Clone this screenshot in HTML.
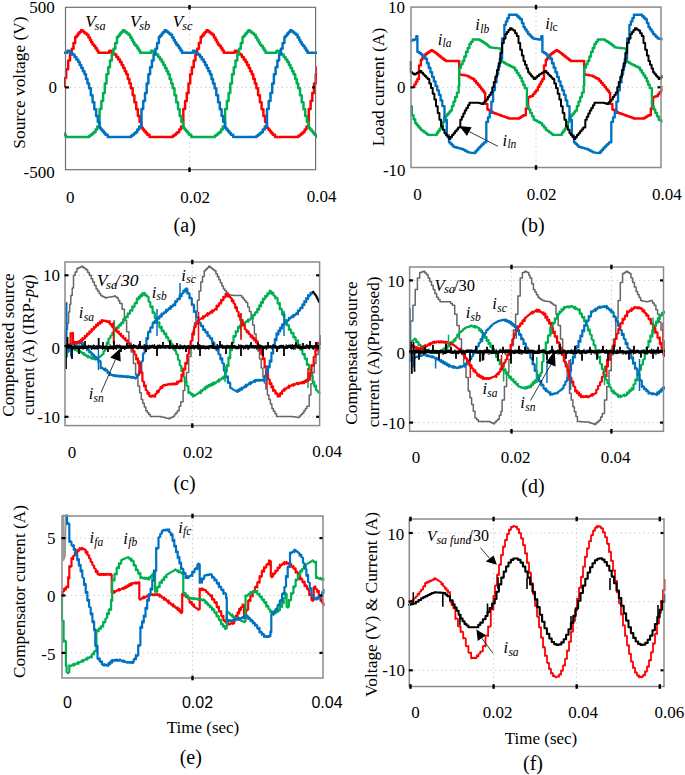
<!DOCTYPE html><html><head><meta charset="utf-8"><style>html,body{margin:0;padding:0;background:#fff;}svg{display:block}</style></head><body><svg width="685" height="775" viewBox="0 0 685 775">
<rect width="685" height="775" fill="#fff"/>
<line x1="189.50" y1="7.3" x2="189.50" y2="169.7" stroke="#c8c8c8" stroke-width="0.9" stroke-dasharray="1.5 3"/>
<line x1="65.5" y1="87.40" x2="315.6" y2="87.40" stroke="#c8c8c8" stroke-width="0.9" stroke-dasharray="1.5 3"/>
<line x1="536.00" y1="7.1" x2="536.00" y2="167.5" stroke="#c8c8c8" stroke-width="0.9" stroke-dasharray="1.5 3"/>
<line x1="411" y1="87.30" x2="661" y2="87.30" stroke="#c8c8c8" stroke-width="0.9" stroke-dasharray="1.5 3"/>
<line x1="192.30" y1="262" x2="192.30" y2="425.6" stroke="#c8c8c8" stroke-width="0.9" stroke-dasharray="1.5 3"/>
<line x1="65" y1="275.30" x2="319.6" y2="275.30" stroke="#c8c8c8" stroke-width="0.9" stroke-dasharray="1.5 3"/>
<line x1="65" y1="346.05" x2="319.6" y2="346.05" stroke="#c8c8c8" stroke-width="0.9" stroke-dasharray="1.5 3"/>
<line x1="65" y1="416.80" x2="319.6" y2="416.80" stroke="#c8c8c8" stroke-width="0.9" stroke-dasharray="1.5 3"/>
<line x1="511.50" y1="267" x2="511.50" y2="431.3" stroke="#c8c8c8" stroke-width="0.9" stroke-dasharray="1.5 3"/>
<line x1="611.40" y1="267" x2="611.40" y2="431.3" stroke="#c8c8c8" stroke-width="0.9" stroke-dasharray="1.5 3"/>
<line x1="409.6" y1="280.40" x2="663.5" y2="280.40" stroke="#c8c8c8" stroke-width="0.9" stroke-dasharray="1.5 3"/>
<line x1="409.6" y1="351.50" x2="663.5" y2="351.50" stroke="#c8c8c8" stroke-width="0.9" stroke-dasharray="1.5 3"/>
<line x1="409.6" y1="422.60" x2="663.5" y2="422.60" stroke="#c8c8c8" stroke-width="0.9" stroke-dasharray="1.5 3"/>
<line x1="192.50" y1="516" x2="192.50" y2="678" stroke="#c8c8c8" stroke-width="0.9" stroke-dasharray="1.5 3"/>
<line x1="62" y1="538.10" x2="323" y2="538.10" stroke="#c8c8c8" stroke-width="0.9" stroke-dasharray="1.5 3"/>
<line x1="62" y1="595.50" x2="323" y2="595.50" stroke="#c8c8c8" stroke-width="0.9" stroke-dasharray="1.5 3"/>
<line x1="62" y1="652.90" x2="323" y2="652.90" stroke="#c8c8c8" stroke-width="0.9" stroke-dasharray="1.5 3"/>
<line x1="493.60" y1="519" x2="493.60" y2="686.5" stroke="#c8c8c8" stroke-width="0.9" stroke-dasharray="1.5 3"/>
<line x1="576.70" y1="519" x2="576.70" y2="686.5" stroke="#c8c8c8" stroke-width="0.9" stroke-dasharray="1.5 3"/>
<line x1="409.3" y1="533.00" x2="664" y2="533.00" stroke="#c8c8c8" stroke-width="0.9" stroke-dasharray="1.5 3"/>
<line x1="409.3" y1="601.65" x2="664" y2="601.65" stroke="#c8c8c8" stroke-width="0.9" stroke-dasharray="1.5 3"/>
<line x1="409.3" y1="670.30" x2="664" y2="670.30" stroke="#c8c8c8" stroke-width="0.9" stroke-dasharray="1.5 3"/>
<clipPath id="cA"><rect x="64.0" y="5.8" width="253.10000000000002" height="165.39999999999998"/></clipPath>
<polyline points="64.3,87.4 64.3,87.4 64.3,78.0 66.2,78.0 66.2,69.2 68.2,69.2 68.2,60.4 70.0,60.4 70.0,54.6 71.7,54.6 71.7,48.8 73.5,48.8 73.5,43.0 75.2,43.0 75.2,37.1 76.7,37.1 76.7,35.4 78.1,35.4 78.1,33.6 79.5,33.6 79.5,31.9 81.0,31.9 81.0,30.2 82.5,30.2 82.5,31.3 83.9,31.3 83.9,32.5 85.3,32.5 85.3,33.6 86.8,33.6 86.8,34.8 88.4,34.8 88.4,37.4 90.0,37.4 90.0,40.0 91.2,40.0 91.2,42.2 92.5,42.2 92.5,44.4 94.0,44.4 94.0,46.0 95.4,46.0 95.4,48.2 96.9,48.2 96.9,50.5 98.3,50.5 98.3,52.7 99.8,52.7 99.8,52.7 101.4,52.7 101.4,52.7 102.9,52.7 102.9,52.7 104.4,52.7 104.4,52.7 106.0,52.7 106.0,52.7 107.5,52.7 107.5,52.7 109.3,52.7 109.3,50.7 111.0,50.7 111.0,51.0 111.9,51.0 111.9,52.7 113.2,52.7 113.2,53.6 114.5,53.6 114.5,54.5 116.3,54.5 116.3,57.0 118.2,57.0 118.2,59.4 120.0,59.4 120.0,61.9 121.6,61.9 121.6,65.0 123.2,65.0 123.2,68.1 124.7,68.1 124.7,71.2 126.3,71.2 126.3,74.3 127.8,74.3 127.8,78.9 129.4,78.9 129.4,83.6 130.9,83.6 130.9,88.2 132.7,88.2 132.7,95.2 134.4,95.2 134.4,102.2 136.2,102.2 136.2,109.2 137.9,109.2 137.9,116.1 139.6,116.1 139.6,121.9 141.3,121.9 141.3,127.7 142.8,127.7 142.8,129.4 144.2,129.4 144.2,131.2 145.7,131.2 145.7,132.9 147.2,132.9 147.2,134.7 149.5,134.7 149.5,137.0 151.1,137.0 151.1,137.0 152.6,137.0 152.6,137.0 154.2,137.0 154.2,137.0 155.8,137.0 155.8,137.0 157.4,137.0 157.4,137.0 158.9,137.0 158.9,137.0 160.5,137.0 160.5,137.0 162.1,137.0 162.1,137.0 163.6,137.0 163.6,137.0 165.2,137.0 165.2,137.0 166.8,137.0 166.8,137.0 168.4,137.0 168.4,137.0 169.9,137.0 169.9,137.0 171.5,137.0 171.5,137.0 172.9,137.0 172.9,135.8 174.4,135.8 174.4,134.7 175.9,134.7 175.9,133.5 177.3,133.5 177.3,132.3 179.2,132.3 179.2,129.4 181.0,129.4 181.0,126.5 183.3,126.5 183.3,109.0 185.1,109.0 185.1,101.0 186.8,101.0 186.8,92.9 188.5,92.9 188.5,83.6 190.2,83.6 190.2,74.3 191.9,74.3 191.9,67.3 193.7,67.3 193.7,60.4 195.4,60.4 195.4,54.6 197.2,54.6 197.2,48.8 198.9,48.8 198.9,43.0 200.7,43.0 200.7,37.1 202.1,37.1 202.1,35.4 203.6,35.4 203.6,33.6 205.1,33.6 205.1,31.9 206.5,31.9 206.5,30.2 207.9,30.2 207.9,31.3 209.4,31.3 209.4,32.5 210.9,32.5 210.9,33.6 212.3,33.6 212.3,34.8 213.9,34.8 213.9,37.4 215.5,37.4 215.5,40.0 216.8,40.0 216.8,42.2 218.0,42.2 218.0,44.4 219.5,44.4 219.5,46.0 220.9,46.0 220.9,48.2 222.4,48.2 222.4,50.5 223.8,50.5 223.8,52.7 225.3,52.7 225.3,52.7 226.9,52.7 226.9,52.7 228.4,52.7 228.4,52.7 229.9,52.7 229.9,52.7 231.5,52.7 231.5,52.7 233.0,52.7 233.0,52.7 234.8,52.7 234.8,50.7 236.5,50.7 236.5,51.0 237.4,51.0 237.4,52.7 238.7,52.7 238.7,53.6 240.0,53.6 240.0,54.5 241.8,54.5 241.8,57.0 243.7,57.0 243.7,59.4 245.5,59.4 245.5,61.9 247.1,61.9 247.1,65.0 248.7,65.0 248.7,68.1 250.2,68.1 250.2,71.2 251.8,71.2 251.8,74.3 253.3,74.3 253.3,78.9 254.9,78.9 254.9,83.6 256.4,83.6 256.4,88.2 258.1,88.2 258.1,95.2 259.9,95.2 259.9,102.2 261.6,102.2 261.6,109.2 263.4,109.2 263.4,116.1 265.1,116.1 265.1,121.9 266.8,121.9 266.8,127.7 268.3,127.7 268.3,129.4 269.8,129.4 269.8,131.2 271.2,131.2 271.2,132.9 272.7,132.9 272.7,134.7 275.0,134.7 275.0,137.0 276.6,137.0 276.6,137.0 278.1,137.0 278.1,137.0 279.7,137.0 279.7,137.0 281.3,137.0 281.3,137.0 282.9,137.0 282.9,137.0 284.4,137.0 284.4,137.0 286.0,137.0 286.0,137.0 287.6,137.0 287.6,137.0 289.1,137.0 289.1,137.0 290.7,137.0 290.7,137.0 292.3,137.0 292.3,137.0 293.9,137.0 293.9,137.0 295.4,137.0 295.4,137.0 297.0,137.0 297.0,137.0 298.4,137.0 298.4,135.8 299.9,135.8 299.9,134.7 301.4,134.7 301.4,133.5 302.8,133.5 302.8,132.3 304.6,132.3 304.6,129.4 306.5,129.4 306.5,126.5 308.8,126.5 308.8,109.0 310.6,109.0 310.6,101.0 312.3,101.0 312.3,92.9 314.0,92.9 314.0,83.6 315.7,83.6 315.7,74.3 317.4,74.3 317.4,67.3 319.2,67.3 319.2,60.4 320.9,60.4 320.9,54.6 322.7,54.6 322.7,48.8 324.4,48.8 324.4,43.0 326.2,43.0 326.2,37.1 327.6,37.1 327.6,35.4 329.1,35.4 329.1,33.6 330.6,33.6 330.6,31.9 332.0,31.9 332.0,30.2 333.4,30.2 333.4,31.3 334.9,31.3 334.9,32.5 336.4,32.5 336.4,33.6 337.8,33.6 337.8,34.8 339.4,34.8 339.4,37.4 341.0,37.4 341.0,40.0 342.2,40.0 342.2,42.2 343.5,42.2 343.5,44.4 345.0,44.4 345.0,46.0" fill="none" stroke="#ff0000" stroke-width="2.5" stroke-linejoin="round" stroke-linecap="butt" clip-path="url(#cA)"/>
<polyline points="36.3,61.9 37.9,61.9 37.9,65.0 39.5,65.0 39.5,68.1 41.1,68.1 41.1,71.2 42.6,71.2 42.6,74.3 44.2,74.3 44.2,78.9 45.7,78.9 45.7,83.6 47.2,83.6 47.2,88.2 49.0,88.2 49.0,95.2 50.7,95.2 50.7,102.2 52.5,102.2 52.5,109.2 54.2,109.2 54.2,116.1 55.9,116.1 55.9,121.9 57.6,121.9 57.6,127.7 59.1,127.7 59.1,129.4 60.6,129.4 60.6,131.2 62.1,131.2 62.1,132.9 63.5,132.9 63.5,134.7 65.8,134.7 65.8,137.0 67.4,137.0 67.4,137.0 69.0,137.0 69.0,137.0 70.5,137.0 70.5,137.0 72.1,137.0 72.1,137.0 73.7,137.0 73.7,137.0 75.3,137.0 75.3,137.0 76.8,137.0 76.8,137.0 78.4,137.0 78.4,137.0 80.0,137.0 80.0,137.0 81.5,137.0 81.5,137.0 83.1,137.0 83.1,137.0 84.7,137.0 84.7,137.0 86.3,137.0 86.3,137.0 87.8,137.0 87.8,137.0 89.3,137.0 89.3,135.8 90.7,135.8 90.7,134.7 92.2,134.7 92.2,133.5 93.6,133.5 93.6,132.3 95.5,132.3 95.5,129.4 97.3,129.4 97.3,126.5 99.6,126.5 99.6,109.0 101.4,109.0 101.4,101.0 103.1,101.0 103.1,92.9 104.8,92.9 104.8,83.6 106.5,83.6 106.5,74.3 108.3,74.3 108.3,67.3 110.0,67.3 110.0,60.4 111.8,60.4 111.8,54.6 113.5,54.6 113.5,48.8 115.3,48.8 115.3,43.0 117.0,43.0 117.0,37.1 118.5,37.1 118.5,35.4 119.9,35.4 119.9,33.6 121.4,33.6 121.4,31.9 122.8,31.9 122.8,30.2 124.3,30.2 124.3,31.3 125.7,31.3 125.7,32.5 127.2,32.5 127.2,33.6 128.6,33.6 128.6,34.8 130.2,34.8 130.2,37.4 131.8,37.4 131.8,40.0 133.1,40.0 133.1,42.2 134.3,42.2 134.3,44.4 135.8,44.4 135.8,46.0 137.3,46.0 137.3,48.2 138.7,48.2 138.7,50.5 140.1,50.5 140.1,52.7 141.7,52.7 141.7,52.7 143.2,52.7 143.2,52.7 144.7,52.7 144.7,52.7 146.3,52.7 146.3,52.7 147.8,52.7 147.8,52.7 149.3,52.7 149.3,52.7 151.1,52.7 151.1,50.7 152.8,50.7 152.8,51.0 153.7,51.0 153.7,52.7 155.0,52.7 155.0,53.6 156.3,53.6 156.3,54.5 158.2,54.5 158.2,57.0 160.0,57.0 160.0,59.4 161.8,59.4 161.8,61.9 163.4,61.9 163.4,65.0 165.0,65.0 165.0,68.1 166.6,68.1 166.6,71.2 168.1,71.2 168.1,74.3 169.7,74.3 169.7,78.9 171.2,78.9 171.2,83.6 172.7,83.6 172.7,88.2 174.5,88.2 174.5,95.2 176.2,95.2 176.2,102.2 178.0,102.2 178.0,109.2 179.7,109.2 179.7,116.1 181.4,116.1 181.4,121.9 183.1,121.9 183.1,127.7 184.6,127.7 184.6,129.4 186.1,129.4 186.1,131.2 187.6,131.2 187.6,132.9 189.0,132.9 189.0,134.7 191.3,134.7 191.3,137.0 192.9,137.0 192.9,137.0 194.5,137.0 194.5,137.0 196.0,137.0 196.0,137.0 197.6,137.0 197.6,137.0 199.2,137.0 199.2,137.0 200.8,137.0 200.8,137.0 202.3,137.0 202.3,137.0 203.9,137.0 203.9,137.0 205.5,137.0 205.5,137.0 207.0,137.0 207.0,137.0 208.6,137.0 208.6,137.0 210.2,137.0 210.2,137.0 211.8,137.0 211.8,137.0 213.3,137.0 213.3,137.0 214.8,137.0 214.8,135.8 216.2,135.8 216.2,134.7 217.7,134.7 217.7,133.5 219.1,133.5 219.1,132.3 221.0,132.3 221.0,129.4 222.8,129.4 222.8,126.5 225.1,126.5 225.1,109.0 226.9,109.0 226.9,101.0 228.6,101.0 228.6,92.9 230.3,92.9 230.3,83.6 232.0,83.6 232.0,74.3 233.8,74.3 233.8,67.3 235.5,67.3 235.5,60.4 237.3,60.4 237.3,54.6 239.0,54.6 239.0,48.8 240.8,48.8 240.8,43.0 242.5,43.0 242.5,37.1 244.0,37.1 244.0,35.4 245.4,35.4 245.4,33.6 246.9,33.6 246.9,31.9 248.3,31.9 248.3,30.2 249.8,30.2 249.8,31.3 251.2,31.3 251.2,32.5 252.7,32.5 252.7,33.6 254.1,33.6 254.1,34.8 255.7,34.8 255.7,37.4 257.3,37.4 257.3,40.0 258.6,40.0 258.6,42.2 259.8,42.2 259.8,44.4 261.3,44.4 261.3,46.0 262.8,46.0 262.8,48.2 264.2,48.2 264.2,50.5 265.6,50.5 265.6,52.7 267.2,52.7 267.2,52.7 268.7,52.7 268.7,52.7 270.2,52.7 270.2,52.7 271.8,52.7 271.8,52.7 273.3,52.7 273.3,52.7 274.8,52.7 274.8,52.7 276.6,52.7 276.6,50.7 278.3,50.7 278.3,51.0 279.2,51.0 279.2,52.7 280.5,52.7 280.5,53.6 281.8,53.6 281.8,54.5 283.7,54.5 283.7,57.0 285.5,57.0 285.5,59.4 287.3,59.4 287.3,61.9 288.9,61.9 288.9,65.0 290.5,65.0 290.5,68.1 292.1,68.1 292.1,71.2 293.6,71.2 293.6,74.3 295.2,74.3 295.2,78.9 296.7,78.9 296.7,83.6 298.2,83.6 298.2,88.2 300.0,88.2 300.0,95.2 301.7,95.2 301.7,102.2 303.5,102.2 303.5,109.2 305.2,109.2 305.2,116.1 306.9,116.1 306.9,121.9 308.6,121.9 308.6,127.7 310.1,127.7 310.1,129.4 311.6,129.4 311.6,131.2 313.1,131.2 313.1,132.9 314.5,132.9 314.5,134.7 316.8,134.7 316.8,137.0 318.4,137.0 318.4,137.0 320.0,137.0 320.0,137.0 321.5,137.0 321.5,137.0 323.1,137.0 323.1,137.0 324.7,137.0 324.7,137.0 326.3,137.0 326.3,137.0 327.8,137.0 327.8,137.0 329.4,137.0 329.4,137.0 331.0,137.0 331.0,137.0 332.5,137.0 332.5,137.0 334.1,137.0 334.1,137.0 335.7,137.0 335.7,137.0 337.3,137.0 337.3,137.0 338.8,137.0 338.8,137.0 340.3,137.0 340.3,135.8 341.7,135.8 341.7,134.7 343.2,134.7 343.2,133.5 344.6,133.5 344.6,132.3" fill="none" stroke="#00b050" stroke-width="2.5" stroke-linejoin="round" stroke-linecap="butt" clip-path="url(#cA)"/>
<polyline points="39.2,30.2 40.6,30.2 40.6,31.3 42.1,31.3 42.1,32.5 43.5,32.5 43.5,33.6 45.0,33.6 45.0,34.8 46.6,34.8 46.6,37.4 48.2,37.4 48.2,40.0 49.4,40.0 49.4,42.2 50.7,42.2 50.7,44.4 52.2,44.4 52.2,46.0 53.6,46.0 53.6,48.2 55.0,48.2 55.0,50.5 56.5,50.5 56.5,52.7 58.0,52.7 58.0,52.7 59.5,52.7 59.5,52.7 61.1,52.7 61.1,52.7 62.6,52.7 62.6,52.7 64.1,52.7 64.1,52.7 65.7,52.7 65.7,52.7 67.5,52.7 67.5,50.7 69.2,50.7 69.2,51.0 70.1,51.0 70.1,52.7 71.4,52.7 71.4,53.6 72.7,53.6 72.7,54.5 74.5,54.5 74.5,57.0 76.3,57.0 76.3,59.4 78.2,59.4 78.2,61.9 79.7,61.9 79.7,65.0 81.3,65.0 81.3,68.1 82.9,68.1 82.9,71.2 84.5,71.2 84.5,74.3 86.0,74.3 86.0,78.9 87.5,78.9 87.5,83.6 89.1,83.6 89.1,88.2 90.8,88.2 90.8,95.2 92.6,95.2 92.6,102.2 94.3,102.2 94.3,109.2 96.1,109.2 96.1,116.1 97.8,116.1 97.8,121.9 99.5,121.9 99.5,127.7 100.9,127.7 100.9,129.4 102.4,129.4 102.4,131.2 103.9,131.2 103.9,132.9 105.4,132.9 105.4,134.7 107.7,134.7 107.7,137.0 109.2,137.0 109.2,137.0 110.8,137.0 110.8,137.0 112.4,137.0 112.4,137.0 114.0,137.0 114.0,137.0 115.5,137.0 115.5,137.0 117.1,137.0 117.1,137.0 118.7,137.0 118.7,137.0 120.2,137.0 120.2,137.0 121.8,137.0 121.8,137.0 123.4,137.0 123.4,137.0 125.0,137.0 125.0,137.0 126.5,137.0 126.5,137.0 128.1,137.0 128.1,137.0 129.7,137.0 129.7,137.0 131.1,137.0 131.1,135.8 132.6,135.8 132.6,134.7 134.0,134.7 134.0,133.5 135.5,133.5 135.5,132.3 137.3,132.3 137.3,129.4 139.2,129.4 139.2,126.5 141.5,126.5 141.5,109.0 143.2,109.0 143.2,101.0 145.0,101.0 145.0,92.9 146.7,92.9 146.7,83.6 148.4,83.6 148.4,74.3 150.1,74.3 150.1,67.3 151.9,67.3 151.9,60.4 153.6,60.4 153.6,54.6 155.4,54.6 155.4,48.8 157.1,48.8 157.1,43.0 158.9,43.0 158.9,37.1 160.3,37.1 160.3,35.4 161.8,35.4 161.8,33.6 163.2,33.6 163.2,31.9 164.7,31.9 164.7,30.2 166.1,30.2 166.1,31.3 167.6,31.3 167.6,32.5 169.0,32.5 169.0,33.6 170.5,33.6 170.5,34.8 172.1,34.8 172.1,37.4 173.7,37.4 173.7,40.0 174.9,40.0 174.9,42.2 176.2,42.2 176.2,44.4 177.7,44.4 177.7,46.0 179.1,46.0 179.1,48.2 180.5,48.2 180.5,50.5 182.0,50.5 182.0,52.7 183.5,52.7 183.5,52.7 185.0,52.7 185.0,52.7 186.6,52.7 186.6,52.7 188.1,52.7 188.1,52.7 189.6,52.7 189.6,52.7 191.2,52.7 191.2,52.7 193.0,52.7 193.0,50.7 194.7,50.7 194.7,51.0 195.6,51.0 195.6,52.7 196.9,52.7 196.9,53.6 198.2,53.6 198.2,54.5 200.0,54.5 200.0,57.0 201.8,57.0 201.8,59.4 203.7,59.4 203.7,61.9 205.2,61.9 205.2,65.0 206.8,65.0 206.8,68.1 208.4,68.1 208.4,71.2 210.0,71.2 210.0,74.3 211.5,74.3 211.5,78.9 213.0,78.9 213.0,83.6 214.6,83.6 214.6,88.2 216.3,88.2 216.3,95.2 218.1,95.2 218.1,102.2 219.8,102.2 219.8,109.2 221.6,109.2 221.6,116.1 223.3,116.1 223.3,121.9 225.0,121.9 225.0,127.7 226.4,127.7 226.4,129.4 227.9,129.4 227.9,131.2 229.4,131.2 229.4,132.9 230.9,132.9 230.9,134.7 233.2,134.7 233.2,137.0 234.7,137.0 234.7,137.0 236.3,137.0 236.3,137.0 237.9,137.0 237.9,137.0 239.5,137.0 239.5,137.0 241.0,137.0 241.0,137.0 242.6,137.0 242.6,137.0 244.2,137.0 244.2,137.0 245.7,137.0 245.7,137.0 247.3,137.0 247.3,137.0 248.9,137.0 248.9,137.0 250.5,137.0 250.5,137.0 252.0,137.0 252.0,137.0 253.6,137.0 253.6,137.0 255.2,137.0 255.2,137.0 256.6,137.0 256.6,135.8 258.1,135.8 258.1,134.7 259.5,134.7 259.5,133.5 261.0,133.5 261.0,132.3 262.8,132.3 262.8,129.4 264.7,129.4 264.7,126.5 267.0,126.5 267.0,109.0 268.7,109.0 268.7,101.0 270.5,101.0 270.5,92.9 272.2,92.9 272.2,83.6 273.9,83.6 273.9,74.3 275.6,74.3 275.6,67.3 277.4,67.3 277.4,60.4 279.1,60.4 279.1,54.6 280.9,54.6 280.9,48.8 282.6,48.8 282.6,43.0 284.4,43.0 284.4,37.1 285.8,37.1 285.8,35.4 287.3,35.4 287.3,33.6 288.7,33.6 288.7,31.9 290.2,31.9 290.2,30.2 291.6,30.2 291.6,31.3 293.1,31.3 293.1,32.5 294.5,32.5 294.5,33.6 296.0,33.6 296.0,34.8 297.6,34.8 297.6,37.4 299.2,37.4 299.2,40.0 300.4,40.0 300.4,42.2 301.7,42.2 301.7,44.4 303.2,44.4 303.2,46.0 304.6,46.0 304.6,48.2 306.0,48.2 306.0,50.5 307.5,50.5 307.5,52.7 309.0,52.7 309.0,52.7 310.5,52.7 310.5,52.7 312.1,52.7 312.1,52.7 313.6,52.7 313.6,52.7 315.1,52.7 315.1,52.7 316.7,52.7 316.7,52.7 318.5,52.7 318.5,50.7 320.2,50.7 320.2,51.0 321.1,51.0 321.1,52.7 322.4,52.7 322.4,53.6 323.7,53.6 323.7,54.5 325.5,54.5 325.5,57.0 327.3,57.0 327.3,59.4 329.2,59.4 329.2,61.9 330.7,61.9 330.7,65.0 332.3,65.0 332.3,68.1 333.9,68.1 333.9,71.2 335.5,71.2 335.5,74.3 337.0,74.3 337.0,78.9 338.5,78.9 338.5,83.6 340.1,83.6 340.1,88.2 341.8,88.2 341.8,95.2 343.6,95.2 343.6,102.2" fill="none" stroke="#0070c0" stroke-width="2.5" stroke-linejoin="round" stroke-linecap="butt" clip-path="url(#cA)"/>
<clipPath id="cB"><rect x="409.5" y="5.6" width="253.0" height="163.4"/></clipPath>
<polyline points="412.9,86.9 414.4,86.9 414.4,84.3 415.9,84.3 415.9,81.6 417.4,81.6 417.4,79.0 419.0,79.0 419.0,65.5 420.8,65.5 420.8,59.8 422.3,59.8 422.3,57.9 423.8,57.9 423.8,56.1 425.3,56.1 425.3,54.2 426.7,54.2 426.7,53.2 428.1,53.2 428.1,52.2 429.6,52.2 429.6,51.1 431.0,51.1 431.0,50.1 432.5,50.1 432.5,51.1 434.0,51.1 434.0,52.1 435.5,52.1 435.5,53.1 436.9,53.1 436.9,54.2 438.3,54.2 438.3,55.4 439.7,55.4 439.7,56.5 441.1,56.5 441.1,57.6 442.6,57.6 442.6,58.7 444.1,58.7 444.1,59.9 445.6,59.9 445.6,61.0 447.3,61.0 447.3,61.0 449.0,61.0 449.0,61.0 450.7,61.0 450.7,61.0 452.4,61.0 452.4,61.0 454.1,61.0 454.1,61.0 455.8,61.0 455.8,61.0 457.5,61.0 457.5,61.0 459.2,61.0 459.2,61.0 459.2,61.0 459.2,74.5 460.9,74.5 460.9,74.8 462.6,74.8 462.6,75.0 464.3,75.0 464.3,75.3 466.0,75.3 466.0,75.6 467.7,75.6 467.7,76.4 469.4,76.4 469.4,77.3 471.0,77.3 471.0,78.2 472.7,78.2 472.7,79.0 474.4,79.0 474.4,81.0 476.1,81.0 476.1,83.0 477.8,83.0 477.8,84.9 479.5,84.9 479.5,86.9 481.0,86.9 481.0,88.8 482.5,88.8 482.5,90.7 484.0,90.7 484.0,92.6 485.2,92.6 485.2,103.9 487.4,103.9 487.4,109.5 488.8,109.5 488.8,110.3 490.2,110.3 490.2,111.2 491.7,111.2 491.7,112.1 493.1,112.1 493.1,112.9 494.8,112.9 494.8,113.5 496.5,113.5 496.5,114.1 498.1,114.1 498.1,114.6 499.8,114.6 499.8,115.2 501.3,115.2 501.3,115.8 502.8,115.8 502.8,116.3 504.4,116.3 504.4,116.8 505.9,116.8 505.9,117.4 507.4,117.4 507.4,118.0 508.9,118.0 508.9,118.5 510.4,118.5 510.4,118.5 511.9,118.5 511.9,118.5 513.4,118.5 513.4,118.5 514.9,118.5 514.9,118.5 516.4,118.5 516.4,118.5 517.9,118.5 517.9,118.5 519.3,118.5 519.3,117.7 520.7,117.7 520.7,116.8 522.1,116.8 522.1,116.0 523.5,116.0 523.5,115.2 525.8,115.2 525.8,108.4 528.1,108.4 528.1,97.1 529.8,97.1 529.8,96.5 531.5,96.5 531.5,96.0 533.0,96.0 533.0,94.1 534.5,94.1 534.5,92.2 536.0,92.2 536.0,90.3 537.9,90.3 537.9,86.9 539.4,86.9 539.4,84.3 540.9,84.3 540.9,81.6 542.4,81.6 542.4,79.0 544.0,79.0 544.0,65.5 545.8,65.5 545.8,59.8 547.3,59.8 547.3,57.9 548.8,57.9 548.8,56.1 550.3,56.1 550.3,54.2 551.7,54.2 551.7,53.2 553.1,53.2 553.1,52.2 554.6,52.2 554.6,51.1 556.0,51.1 556.0,50.1 557.5,50.1 557.5,51.1 559.0,51.1 559.0,52.1 560.5,52.1 560.5,53.1 561.9,53.1 561.9,54.2 563.3,54.2 563.3,55.4 564.7,55.4 564.7,56.5 566.1,56.5 566.1,57.6 567.6,57.6 567.6,58.7 569.1,58.7 569.1,59.9 570.6,59.9 570.6,61.0 572.1,61.0 572.1,61.0 573.6,61.0 573.6,61.0 575.1,61.0 575.1,61.0 576.6,61.0 576.6,61.0 578.2,61.0 578.2,61.0 579.7,61.0 579.7,61.0 581.2,61.0 581.2,61.0 582.7,61.0 582.7,61.0 584.2,61.0 584.2,61.0 584.2,61.0 584.2,74.5 585.9,74.5 585.9,74.8 587.6,74.8 587.6,75.0 589.3,75.0 589.3,75.3 591.0,75.3 591.0,75.6 592.7,75.6 592.7,76.4 594.4,76.4 594.4,77.3 596.0,77.3 596.0,78.2 597.7,78.2 597.7,79.0 599.4,79.0 599.4,81.0 601.1,81.0 601.1,83.0 602.8,83.0 602.8,84.9 604.5,84.9 604.5,86.9 606.0,86.9 606.0,88.8 607.5,88.8 607.5,90.7 609.0,90.7 609.0,92.6 610.2,92.6 610.2,103.9 612.4,103.9 612.4,109.5 613.8,109.5 613.8,110.3 615.2,110.3 615.2,111.2 616.7,111.2 616.7,112.1 618.1,112.1 618.1,112.9 619.8,112.9 619.8,113.5 621.5,113.5 621.5,114.1 623.1,114.1 623.1,114.6 624.8,114.6 624.8,115.2 626.3,115.2 626.3,115.8 627.8,115.8 627.8,116.3 629.3,116.3 629.3,116.8 630.9,116.8 630.9,117.4 632.4,117.4 632.4,118.0 633.9,118.0 633.9,118.5 635.4,118.5 635.4,118.5 636.9,118.5 636.9,118.5 638.4,118.5 638.4,118.5 639.9,118.5 639.9,118.5 641.4,118.5 641.4,118.5 642.9,118.5 642.9,118.5 644.3,118.5 644.3,117.7 645.7,117.7 645.7,116.8 647.1,116.8 647.1,116.0 648.5,116.0 648.5,115.2 650.8,115.2 650.8,108.4 653.1,108.4 653.1,97.1 654.8,97.1 654.8,96.5 656.5,96.5 656.5,96.0 658.0,96.0 658.0,94.1 659.5,94.1 659.5,92.2 661.0,92.2 661.0,90.3 662.9,90.3 662.9,86.9 664.4,86.9 664.4,84.3 665.9,84.3 665.9,81.6 667.4,81.6 667.4,79.0 669.0,79.0 669.0,65.5" fill="none" stroke="#ff0000" stroke-width="2.35" stroke-linejoin="round" stroke-linecap="butt" clip-path="url(#cB)"/>
<polyline points="410.6,106.1 411.8,106.1 411.8,115.2 413.5,115.2 413.5,119.2 415.2,119.2 415.2,123.1 416.6,123.1 416.6,124.8 418.0,124.8 418.0,126.5 419.4,126.5 419.4,128.1 420.8,128.1 420.8,129.8 422.5,129.8 422.5,131.1 424.2,131.1 424.2,132.3 425.9,132.3 425.9,133.6 427.6,133.6 427.6,134.8 429.2,134.8 429.2,134.8 430.8,134.8 430.8,134.8 432.3,134.8 432.3,134.8 433.9,134.8 433.9,134.8 435.5,134.8 435.5,134.8 436.9,134.8 436.9,132.7 438.3,132.7 438.3,130.7 439.7,130.7 439.7,128.6 441.1,128.6 441.1,126.5 442.8,126.5 442.8,122.0 444.5,122.0 444.5,117.4 445.9,117.4 445.9,115.7 447.4,115.7 447.4,114.0 448.8,114.0 448.8,112.3 450.2,112.3 450.2,110.6 451.9,110.6 451.9,106.1 453.5,106.1 453.5,101.6 455.2,101.6 455.2,97.1 456.9,97.1 456.9,92.6 458.7,92.6 458.7,85.8 459.2,85.8 459.2,67.7 460.9,67.7 460.9,64.3 462.6,64.3 462.6,61.0 464.3,61.0 464.3,56.5 466.0,56.5 466.0,51.9 467.7,51.9 467.7,48.0 469.4,48.0 469.4,44.0 471.0,44.0 471.0,41.8 472.7,41.8 472.7,39.5 474.1,39.5 474.1,39.5 475.5,39.5 475.5,39.5 477.0,39.5 477.0,39.5 478.4,39.5 478.4,39.5 479.8,39.5 479.8,40.4 481.2,40.4 481.2,41.2 482.6,41.2 482.6,42.0 484.0,42.0 484.0,42.9 485.4,42.9 485.4,44.0 486.9,44.0 486.9,45.1 488.3,45.1 488.3,46.3 489.7,46.3 489.7,47.4 491.4,47.4 491.4,47.6 493.1,47.6 493.1,47.8 494.8,47.8 494.8,48.0 496.4,48.0 496.4,48.1 498.1,48.1 498.1,48.3 499.8,48.3 499.8,48.5 501.0,48.5 501.0,61.0 502.4,61.0 502.4,61.9 503.8,61.9 503.8,62.7 505.2,62.7 505.2,63.6 506.6,63.6 506.6,64.4 508.3,64.4 508.3,65.2 510.0,65.2 510.0,66.1 511.7,66.1 511.7,66.9 513.4,66.9 513.4,67.7 515.1,67.7 515.1,70.2 516.8,70.2 516.8,72.8 518.5,72.8 518.5,75.4 520.2,75.4 520.2,77.9 521.7,77.9 521.7,81.3 523.2,81.3 523.2,84.7 524.7,84.7 524.7,88.1 526.9,88.1 526.9,97.1 526.9,97.1 526.9,106.1 528.6,106.1 528.6,109.5 530.3,109.5 530.3,112.9 532.0,112.9 532.0,116.3 533.7,116.3 533.7,119.7 535.3,119.7 535.3,120.5 537.0,120.5 537.0,121.4 538.6,121.4 538.6,122.2 540.2,122.2 540.2,123.1 542.1,123.1 542.1,125.3 543.9,125.3 543.9,127.6 545.8,127.6 545.8,129.8 547.5,129.8 547.5,131.1 549.2,131.1 549.2,132.3 550.9,132.3 550.9,133.6 552.6,133.6 552.6,134.8 554.2,134.8 554.2,134.8 555.8,134.8 555.8,134.8 557.3,134.8 557.3,134.8 558.9,134.8 558.9,134.8 560.5,134.8 560.5,134.8 561.9,134.8 561.9,132.7 563.3,132.7 563.3,130.7 564.7,130.7 564.7,128.6 566.1,128.6 566.1,126.5 567.8,126.5 567.8,122.0 569.5,122.0 569.5,117.4 570.9,117.4 570.9,115.7 572.4,115.7 572.4,114.0 573.8,114.0 573.8,112.3 575.2,112.3 575.2,110.6 576.9,110.6 576.9,106.1 578.5,106.1 578.5,101.6 580.2,101.6 580.2,97.1 581.9,97.1 581.9,92.6 583.7,92.6 583.7,85.8 584.2,85.8 584.2,67.7 585.9,67.7 585.9,64.3 587.6,64.3 587.6,61.0 589.3,61.0 589.3,56.5 591.0,56.5 591.0,51.9 592.7,51.9 592.7,48.0 594.4,48.0 594.4,44.0 596.0,44.0 596.0,41.8 597.7,41.8 597.7,39.5 599.1,39.5 599.1,39.5 600.5,39.5 600.5,39.5 602.0,39.5 602.0,39.5 603.4,39.5 603.4,39.5 604.8,39.5 604.8,40.4 606.2,40.4 606.2,41.2 607.6,41.2 607.6,42.0 609.0,42.0 609.0,42.9 610.4,42.9 610.4,44.0 611.9,44.0 611.9,45.1 613.3,45.1 613.3,46.3 614.7,46.3 614.7,47.4 616.4,47.4 616.4,47.6 618.1,47.6 618.1,47.8 619.8,47.8 619.8,48.0 621.4,48.0 621.4,48.1 623.1,48.1 623.1,48.3 624.8,48.3 624.8,48.5 626.0,48.5 626.0,61.0 627.4,61.0 627.4,61.9 628.8,61.9 628.8,62.7 630.2,62.7 630.2,63.6 631.6,63.6 631.6,64.4 633.3,64.4 633.3,65.2 635.0,65.2 635.0,66.1 636.7,66.1 636.7,66.9 638.4,66.9 638.4,67.7 640.1,67.7 640.1,70.2 641.8,70.2 641.8,72.8 643.5,72.8 643.5,75.4 645.2,75.4 645.2,77.9 646.7,77.9 646.7,81.3 648.2,81.3 648.2,84.7 649.7,84.7 649.7,88.1 651.9,88.1 651.9,97.1 651.9,97.1 651.9,106.1 653.6,106.1 653.6,109.5 655.3,109.5 655.3,112.9 657.0,112.9 657.0,116.3 658.7,116.3 658.7,119.7 660.3,119.7 660.3,120.5 662.0,120.5 662.0,121.4 663.6,121.4 663.6,122.2 665.2,122.2 665.2,123.1 667.1,123.1 667.1,125.3 668.9,125.3 668.9,127.6 670.8,127.6 670.8,129.8 672.5,129.8 672.5,131.1 674.2,131.1 674.2,132.3 675.9,132.3 675.9,133.6 677.6,133.6 677.6,134.8" fill="none" stroke="#00b050" stroke-width="2.35" stroke-linejoin="round" stroke-linecap="butt" clip-path="url(#cB)"/>
<polyline points="410.6,40.6 412.3,40.6 412.3,40.0 414.0,40.0 414.0,39.5 416.3,39.5 416.3,36.1 417.4,36.1 417.4,51.9 419.1,51.9 419.1,53.0 420.8,53.0 420.8,54.2 422.3,54.2 422.3,55.7 423.8,55.7 423.8,57.2 425.3,57.2 425.3,58.7 427.0,58.7 427.0,63.2 428.7,63.2 428.7,67.7 430.4,67.7 430.4,72.2 432.1,72.2 432.1,76.8 433.8,76.8 433.8,81.3 435.5,81.3 435.5,85.8 437.2,85.8 437.2,90.3 438.9,90.3 438.9,94.8 440.6,94.8 440.6,100.4 442.3,100.4 442.3,106.1 444.5,106.1 444.5,119.7 446.8,119.7 446.8,135.5 449.0,135.5 449.0,142.3 450.5,142.3 450.5,143.8 452.0,143.8 452.0,145.3 453.5,145.3 453.5,146.8 455.1,146.8 455.1,147.2 456.7,147.2 456.7,147.7 458.3,147.7 458.3,148.1 459.9,148.1 459.9,148.6 461.5,148.6 461.5,149.0 463.2,149.0 463.2,149.8 464.9,149.8 464.9,150.7 466.5,150.7 466.5,151.6 468.2,151.6 468.2,152.4 469.6,152.4 469.6,152.6 471.0,152.6 471.0,152.8 472.5,152.8 472.5,152.9 473.9,152.9 473.9,153.1 475.3,153.1 475.3,151.5 476.7,151.5 476.7,149.9 478.1,149.9 478.1,148.4 479.5,148.4 479.5,146.8 481.0,146.8 481.0,145.3 482.5,145.3 482.5,143.8 484.0,143.8 484.0,142.3 486.3,142.3 486.3,121.9 488.0,121.9 488.0,117.4 489.7,117.4 489.7,112.9 491.4,112.9 491.4,101.6 493.1,101.6 493.1,90.3 494.8,90.3 494.8,82.4 496.5,82.4 496.5,74.5 498.1,74.5 498.1,66.6 499.8,66.6 499.8,58.7 502.1,58.7 502.1,38.4 504.4,38.4 504.4,24.8 505.9,24.8 505.9,21.4 507.4,21.4 507.4,18.1 508.9,18.1 508.9,14.7 510.6,14.7 510.6,14.7 512.2,14.7 512.2,14.7 513.9,14.7 513.9,14.7 515.6,14.7 515.6,14.7 517.1,14.7 517.1,16.2 518.7,16.2 518.7,17.7 520.2,17.7 520.2,19.2 521.9,19.2 521.9,23.1 523.5,23.1 523.5,27.1 525.0,27.1 525.0,29.4 526.6,29.4 526.6,31.6 528.1,31.6 528.1,33.9 529.6,33.9 529.6,35.4 531.1,35.4 531.1,36.9 532.6,36.9 532.6,38.4 534.2,38.4 534.2,38.7 535.8,38.7 535.8,39.0 537.4,39.0 537.4,39.2 539.0,39.2 539.0,39.5 541.3,39.5 541.3,36.1 542.4,36.1 542.4,51.9 544.1,51.9 544.1,53.0 545.8,53.0 545.8,54.2 547.3,54.2 547.3,55.7 548.8,55.7 548.8,57.2 550.3,57.2 550.3,58.7 552.0,58.7 552.0,63.2 553.7,63.2 553.7,67.7 555.4,67.7 555.4,72.2 557.1,72.2 557.1,76.8 558.8,76.8 558.8,81.3 560.5,81.3 560.5,85.8 562.2,85.8 562.2,90.3 563.9,90.3 563.9,94.8 565.6,94.8 565.6,100.4 567.3,100.4 567.3,106.1 569.5,106.1 569.5,119.7 571.8,119.7 571.8,135.5 574.0,135.5 574.0,142.3 575.5,142.3 575.5,143.8 577.0,143.8 577.0,145.3 578.5,145.3 578.5,146.8 580.1,146.8 580.1,147.2 581.7,147.2 581.7,147.7 583.3,147.7 583.3,148.1 584.9,148.1 584.9,148.6 586.5,148.6 586.5,149.0 588.2,149.0 588.2,149.8 589.9,149.8 589.9,150.7 591.5,150.7 591.5,151.6 593.2,151.6 593.2,152.4 594.6,152.4 594.6,152.6 596.0,152.6 596.0,152.8 597.5,152.8 597.5,152.9 598.9,152.9 598.9,153.1 600.3,153.1 600.3,151.5 601.7,151.5 601.7,149.9 603.1,149.9 603.1,148.4 604.5,148.4 604.5,146.8 606.0,146.8 606.0,145.3 607.5,145.3 607.5,143.8 609.0,143.8 609.0,142.3 611.3,142.3 611.3,121.9 613.0,121.9 613.0,117.4 614.7,117.4 614.7,112.9 616.4,112.9 616.4,101.6 618.1,101.6 618.1,90.3 619.8,90.3 619.8,82.4 621.5,82.4 621.5,74.5 623.1,74.5 623.1,66.6 624.8,66.6 624.8,58.7 627.1,58.7 627.1,38.4 629.4,38.4 629.4,24.8 630.9,24.8 630.9,21.4 632.4,21.4 632.4,18.1 633.9,18.1 633.9,14.7 635.6,14.7 635.6,14.7 637.2,14.7 637.2,14.7 638.9,14.7 638.9,14.7 640.6,14.7 640.6,14.7 642.1,14.7 642.1,16.2 643.7,16.2 643.7,17.7 645.2,17.7 645.2,19.2 646.9,19.2 646.9,23.1 648.5,23.1 648.5,27.1 650.0,27.1 650.0,29.4 651.6,29.4 651.6,31.6 653.1,31.6 653.1,33.9 654.6,33.9 654.6,35.4 656.1,35.4 656.1,36.9 657.6,36.9 657.6,38.4 659.2,38.4 659.2,38.7 660.8,38.7 660.8,39.0 662.4,39.0 662.4,39.2 664.0,39.2 664.0,39.5 666.3,39.5 666.3,36.1 667.4,36.1 667.4,51.9" fill="none" stroke="#0070c0" stroke-width="2.35" stroke-linejoin="round" stroke-linecap="butt" clip-path="url(#cB)"/>
<polyline points="410.6,61.0 410.6,61.0 410.6,72.3 412.3,72.3 412.3,73.4 414.0,73.4 414.0,74.5 415.4,74.5 415.4,73.7 416.9,73.7 416.9,72.8 418.3,72.8 418.3,71.9 419.7,71.9 419.7,71.1 421.4,71.1 421.4,72.8 423.1,72.8 423.1,74.5 424.6,74.5 424.6,76.0 426.1,76.0 426.1,77.5 427.6,77.5 427.6,79.0 429.3,79.0 429.3,83.5 431.0,83.5 431.0,88.1 432.7,88.1 432.7,93.8 434.4,93.8 434.4,99.4 436.0,99.4 436.0,106.2 437.7,106.2 437.7,112.9 439.4,112.9 439.4,119.7 441.1,119.7 441.1,126.5 442.8,126.5 442.8,129.8 444.5,129.8 444.5,133.2 446.0,133.2 446.0,135.1 447.5,135.1 447.5,137.0 449.0,137.0 449.0,138.9 450.5,138.9 450.5,137.0 452.0,137.0 452.0,135.1 453.5,135.1 453.5,133.2 455.0,133.2 455.0,131.3 456.6,131.3 456.6,129.5 458.1,129.5 458.1,127.6 460.3,127.6 460.3,119.7 461.8,119.7 461.8,116.7 463.3,116.7 463.3,113.6 464.8,113.6 464.8,110.6 466.3,110.6 466.3,108.0 467.9,108.0 467.9,105.3 469.4,105.3 469.4,102.7 471.0,102.7 471.0,102.7 472.6,102.7 472.6,102.7 474.1,102.7 474.1,102.7 475.7,102.7 475.7,102.7 477.3,102.7 477.3,102.7 478.8,102.7 478.8,103.1 480.3,103.1 480.3,103.5 481.8,103.5 481.8,103.9 483.3,103.9 483.3,102.4 484.8,102.4 484.8,100.9 486.3,100.9 486.3,99.4 487.8,99.4 487.8,97.1 489.3,97.1 489.3,94.9 490.8,94.9 490.8,92.6 492.3,92.6 492.3,87.3 493.8,87.3 493.8,82.1 495.3,82.1 495.3,76.8 497.0,76.8 497.0,70.0 498.7,70.0 498.7,63.2 500.4,63.2 500.4,53.0 502.1,53.0 502.1,42.9 503.8,42.9 503.8,38.4 505.5,38.4 505.5,33.9 507.0,33.9 507.0,32.0 508.5,32.0 508.5,30.1 510.0,30.1 510.0,28.2 511.7,28.2 511.7,29.4 513.4,29.4 513.4,30.5 515.1,30.5 515.1,33.3 516.8,33.3 516.8,36.1 518.5,36.1 518.5,42.9 520.2,42.9 520.2,49.7 521.9,49.7 521.9,55.4 523.5,55.4 523.5,61.0 525.0,61.0 525.0,64.8 526.6,64.8 526.6,68.5 528.1,68.5 528.1,72.3 529.5,72.3 529.5,74.0 530.9,74.0 530.9,75.7 532.3,75.7 532.3,77.3 533.7,77.3 533.7,79.0 535.5,79.0 535.5,77.5 537.2,77.5 537.2,76.0 539.0,76.0 539.0,74.5 540.4,74.5 540.4,73.7 541.9,73.7 541.9,72.8 543.3,72.8 543.3,71.9 544.7,71.9 544.7,71.1 546.4,71.1 546.4,72.8 548.1,72.8 548.1,74.5 549.6,74.5 549.6,76.0 551.1,76.0 551.1,77.5 552.6,77.5 552.6,79.0 554.3,79.0 554.3,83.5 556.0,83.5 556.0,88.1 557.7,88.1 557.7,93.8 559.4,93.8 559.4,99.4 561.0,99.4 561.0,106.2 562.7,106.2 562.7,112.9 564.4,112.9 564.4,119.7 566.1,119.7 566.1,126.5 567.8,126.5 567.8,129.8 569.5,129.8 569.5,133.2 571.0,133.2 571.0,135.1 572.5,135.1 572.5,137.0 574.0,137.0 574.0,138.9 575.5,138.9 575.5,137.0 577.0,137.0 577.0,135.1 578.5,135.1 578.5,133.2 580.0,133.2 580.0,131.3 581.6,131.3 581.6,129.5 583.1,129.5 583.1,127.6 585.3,127.6 585.3,119.7 586.8,119.7 586.8,116.7 588.3,116.7 588.3,113.6 589.8,113.6 589.8,110.6 591.3,110.6 591.3,108.0 592.9,108.0 592.9,105.3 594.4,105.3 594.4,102.7 596.0,102.7 596.0,102.7 597.6,102.7 597.6,102.7 599.1,102.7 599.1,102.7 600.7,102.7 600.7,102.7 602.3,102.7 602.3,102.7 603.8,102.7 603.8,103.1 605.3,103.1 605.3,103.5 606.8,103.5 606.8,103.9 608.3,103.9 608.3,102.4 609.8,102.4 609.8,100.9 611.3,100.9 611.3,99.4 612.8,99.4 612.8,97.1 614.3,97.1 614.3,94.9 615.8,94.9 615.8,92.6 617.3,92.6 617.3,87.3 618.8,87.3 618.8,82.1 620.3,82.1 620.3,76.8 622.0,76.8 622.0,70.0 623.7,70.0 623.7,63.2 625.4,63.2 625.4,53.0 627.1,53.0 627.1,42.9 628.8,42.9 628.8,38.4 630.5,38.4 630.5,33.9 632.0,33.9 632.0,32.0 633.5,32.0 633.5,30.1 635.0,30.1 635.0,28.2 636.7,28.2 636.7,29.4 638.4,29.4 638.4,30.5 640.1,30.5 640.1,33.3 641.8,33.3 641.8,36.1 643.5,36.1 643.5,42.9 645.2,42.9 645.2,49.7 646.9,49.7 646.9,55.4 648.5,55.4 648.5,61.0 650.0,61.0 650.0,64.8 651.6,64.8 651.6,68.5 653.1,68.5 653.1,72.3 654.5,72.3 654.5,74.0 655.9,74.0 655.9,75.7 657.3,75.7 657.3,77.3 658.7,77.3 658.7,79.0 660.5,79.0 660.5,77.5 662.2,77.5 662.2,76.0 664.0,76.0 664.0,74.5 665.4,74.5 665.4,73.7 666.9,73.7 666.9,72.8 668.3,72.8 668.3,71.9 669.7,71.9 669.7,71.1" fill="none" stroke="#000000" stroke-width="2.0" stroke-linejoin="round" stroke-linecap="butt" clip-path="url(#cB)"/>
<clipPath id="cC"><rect x="63.5" y="260.5" width="257.6" height="166.60000000000002"/></clipPath>
<polyline points="65.2,346.0 65.3,346.0 65.3,329.4 67.5,329.4 67.5,322.9 68.6,322.9 68.6,311.9 69.7,311.9 69.7,304.2 70.8,304.2 70.8,295.5 72.2,295.5 72.2,288.0 73.5,288.0 73.5,275.3 75.2,275.3 75.2,271.9 76.9,271.9 76.9,268.5 78.4,268.5 78.4,267.8 80.0,267.8 80.0,267.0 81.5,267.0 81.5,266.3 83.0,266.3 83.0,267.4 84.5,267.4 84.5,268.6 86.0,268.6 86.0,269.7 87.7,269.7 87.7,272.5 89.4,272.5 89.4,275.3 91.1,275.3 91.1,278.7 92.7,278.7 92.7,282.1 94.4,282.1 94.4,285.5 96.1,285.5 96.1,288.9 97.6,288.9 97.6,291.1 99.1,291.1 99.1,293.4 100.6,293.4 100.6,295.6 102.1,295.6 102.1,296.4 103.7,296.4 103.7,297.1 105.2,297.1 105.2,297.9 106.7,297.9 106.7,297.6 108.2,297.6 108.2,297.3 109.7,297.3 109.7,297.0 111.2,297.0 111.2,296.7 112.7,296.7 112.7,296.4 114.2,296.4 114.2,296.1 115.6,296.1 115.6,297.1 117.0,297.1 117.0,298.0 118.4,298.0 118.4,300.8 119.8,300.8 119.8,303.5 122.1,303.5 122.1,309.2 124.4,309.2 124.4,320.5 126.6,320.5 126.6,331.8 128.9,331.8 128.9,343.1 131.1,343.1 131.1,352.1 133.4,352.1 133.4,363.4 135.6,363.4 135.6,374.7 137.9,374.7 137.9,386.0 139.6,386.0 139.6,392.8 141.3,392.8 141.3,399.5 142.8,399.5 142.8,403.3 144.3,403.3 144.3,407.0 145.8,407.0 145.8,410.8 147.3,410.8 147.3,412.7 148.8,412.7 148.8,414.6 150.3,414.6 150.3,416.5 151.8,416.5 151.8,416.5 153.3,416.5 153.3,416.5 154.9,416.5 154.9,416.5 156.4,416.5 156.4,416.5 157.9,416.5 157.9,416.5 159.4,416.5 159.4,416.5 160.9,416.5 160.9,416.9 162.4,416.9 162.4,417.2 163.9,417.2 163.9,417.6 165.4,417.6 165.4,418.0 166.9,418.0 166.9,418.3 168.4,418.3 168.4,418.7 169.9,418.7 169.9,418.0 171.4,418.0 171.4,417.2 172.9,417.2 172.9,416.5 174.4,416.5 174.4,414.6 175.9,414.6 175.9,412.7 177.4,412.7 177.4,410.8 179.1,410.8 179.1,406.3 180.8,406.3 180.8,401.8 183.1,401.8 183.1,390.5 184.8,390.5 184.8,381.4 186.5,381.4 186.5,372.4 188.7,372.4 188.7,356.6 191.0,356.6 191.0,340.8 192.7,340.8 192.7,331.8 194.4,331.8 194.4,322.7 195.9,322.7 195.9,311.4 197.4,311.4 197.4,300.2 199.1,300.2 199.1,291.1 200.8,291.1 200.8,282.1 202.5,282.1 202.5,276.5 204.2,276.5 204.2,270.8 205.7,270.8 205.7,269.3 207.2,269.3 207.2,267.8 208.7,267.8 208.7,266.3 210.1,266.3 210.1,267.4 211.6,267.4 211.6,268.6 213.0,268.6 213.0,269.7 214.4,269.7 214.4,270.8 215.9,270.8 215.9,273.8 217.4,273.8 217.4,276.8 218.9,276.8 218.9,279.8 220.4,279.8 220.4,282.8 221.9,282.8 221.9,285.9 223.4,285.9 223.4,288.9 224.9,288.9 224.9,290.8 226.4,290.8 226.4,292.6 227.9,292.6 227.9,294.5 229.8,294.5 229.8,294.9 231.6,294.9 231.6,295.2 233.5,295.2 233.5,295.6 235.2,295.6 235.2,295.6 236.9,295.6 236.9,295.6 238.6,295.6 238.6,295.6 240.3,295.6 240.3,295.6 241.7,295.6 241.7,297.3 243.2,297.3 243.2,299.0 244.6,299.0 244.6,300.7 246.0,300.7 246.0,302.4 247.7,302.4 247.7,306.9 249.4,306.9 249.4,311.5 251.1,311.5 251.1,318.2 252.7,318.2 252.7,325.0 254.4,325.0 254.4,334.1 256.1,334.1 256.1,343.1 257.8,343.1 257.8,351.0 259.5,351.0 259.5,358.9 261.2,358.9 261.2,367.9 262.9,367.9 262.9,376.9 264.4,376.9 264.4,382.9 265.9,382.9 265.9,389.0 267.4,389.0 267.4,395.0 268.9,395.0 268.9,399.5 270.4,399.5 270.4,404.0 271.9,404.0 271.9,408.5 273.4,408.5 273.4,411.2 275.0,411.2 275.0,413.8 276.5,413.8 276.5,416.5 278.1,416.5 278.1,416.5 279.7,416.5 279.7,416.5 281.4,416.5 281.4,416.5 283.0,416.5 283.0,416.5 284.6,416.5 284.6,416.5 286.2,416.5 286.2,416.5 287.9,416.5 287.9,416.5 289.5,416.5 289.5,416.5 291.1,416.5 291.1,416.5 292.8,416.5 292.8,416.8 294.5,416.8 294.5,417.1 296.2,417.1 296.2,417.3 297.9,417.3 297.9,417.6 299.4,417.6 299.4,416.1 300.9,416.1 300.9,414.6 302.4,414.6 302.4,413.1 303.9,413.1 303.9,410.8 305.4,410.8 305.4,408.6 306.9,408.6 306.9,406.3 309.2,406.3 309.2,395.0 310.9,395.0 310.9,383.7 312.6,383.7 312.6,372.4 314.3,372.4 314.3,363.4 316.0,363.4 316.0,354.4 318.2,354.4 318.2,345.3 320.0,345.3 320.0,335.0" fill="none" stroke="#666666" stroke-width="1.5" stroke-linejoin="round" stroke-linecap="butt" clip-path="url(#cC)"/>
<polyline points="65.5,357.3 67.0,356.4 67.0,356.5 67.0,354.6 67.0,354.4 67.0,352.6 67.0,352.5 67.0,350.5 68.0,351.3 69.0,350.7 69.0,350.7 70.0,349.7 71.0,350.7 71.0,349.0 72.0,349.8 73.0,348.8 73.0,348.9 74.8,347.9 74.8,349.9 76.5,349.1 76.5,350.6 78.2,349.8 78.2,351.7 80.0,350.7 80.0,352.4 81.0,351.6 82.0,352.3 82.0,353.0 83.0,353.8 84.0,352.9 84.0,355.0 85.0,354.3 86.0,355.0 86.0,355.6 87.0,356.4 88.0,355.7 88.0,357.4 89.0,356.4 90.0,357.3 90.0,357.3 91.0,358.3 92.0,357.1 92.0,358.8 93.0,358.1 94.0,359.0 94.0,358.2 95.1,359.3 96.1,358.3 96.1,359.4 98.0,358.4 98.0,357.8 99.9,356.9 99.9,356.5 101.8,355.3 101.8,354.9 103.5,353.9 103.5,353.6 103.5,351.8 103.5,351.5 105.2,350.6 105.2,350.2 105.2,348.3 105.2,348.1 106.8,347.1 106.8,346.9 106.8,344.9 106.8,344.6 106.8,342.5 108.5,343.5 108.5,341.5 108.5,341.2 108.5,339.3 108.5,338.8 110.4,338.0 110.4,338.1 110.4,336.0 110.4,335.9 112.3,335.1 112.3,335.0 112.3,332.9 112.3,333.0 114.2,332.0 114.2,332.1 114.2,330.1 114.2,330.0 115.3,328.9 116.5,330.0 116.5,327.9 116.5,327.6 117.6,326.8 118.7,327.8 118.7,325.8 118.7,325.5 119.9,324.4 121.0,325.5 121.0,323.3 121.0,323.2 122.1,322.2 123.2,323.2 123.2,321.3 123.2,321.0 123.2,319.1 124.3,320.2 125.5,319.3 125.5,319.2 125.5,317.3 125.5,317.1 126.6,316.3 127.7,317.2 127.7,315.2 127.7,315.2 127.7,313.3 128.8,314.0 130.0,313.3 130.0,312.9 130.0,311.0 130.0,310.9 131.2,309.8 132.3,310.8 132.3,308.6 132.3,308.4 132.3,306.3 133.4,307.4 134.6,306.6 134.6,305.9 134.6,304.0 134.6,303.5 135.7,302.6 136.8,303.3 136.8,301.1 136.8,300.7 136.8,298.7 138.7,299.3 138.7,296.7 140.5,297.5 140.5,294.9 142.4,295.8 142.4,293.0 143.5,293.8 144.7,293.0 144.7,295.4 145.8,294.7 146.9,295.5 146.9,296.4 148.6,297.1 148.6,297.2 148.6,299.3 148.6,299.5 148.6,301.3 148.6,301.3 150.3,302.2 150.3,302.6 150.3,304.2 150.3,304.4 150.3,306.2 150.3,306.4 151.4,307.4 152.6,306.4 152.6,308.4 152.6,308.6 152.6,310.8 152.6,311.0 152.6,312.9 153.7,312.1 154.8,313.0 154.8,313.2 154.8,315.2 154.8,315.5 154.8,317.4 154.8,317.8 156.0,318.8 157.1,317.6 157.1,319.7 157.1,319.9 157.1,322.0 157.1,322.2 158.2,323.3 159.4,322.3 159.4,324.3 159.4,324.7 159.4,326.7 159.4,327.0 160.5,327.8 161.7,326.7 161.7,328.9 161.7,329.2 161.7,331.2 162.8,330.1 163.9,331.2 163.9,331.3 163.9,333.3 163.9,333.6 165.0,334.4 166.2,333.5 166.2,335.6 166.2,335.9 166.2,337.7 167.3,336.9 168.4,337.8 168.4,338.1 168.4,340.1 168.4,340.2 169.5,341.4 170.7,340.5 170.7,342.3 170.7,342.7 170.7,344.8 171.8,343.7 172.9,344.6 172.9,345.0 172.9,347.0 172.9,347.0 174.6,348.2 174.6,348.3 174.6,350.4 174.6,350.5 176.3,351.4 176.3,351.5 176.3,353.6 176.3,353.9 178.0,354.7 178.0,355.2 178.0,357.2 178.0,357.4 178.0,359.4 178.0,359.5 179.7,360.6 179.7,360.7 179.7,362.6 179.7,363.0 179.7,365.0 179.7,365.1 181.4,366.2 181.4,366.2 181.4,368.2 181.4,368.5 181.4,370.5 181.4,370.9 183.1,371.6 183.1,371.8 183.1,374.0 183.1,374.1 183.1,376.2 183.1,376.4 184.8,377.4 184.8,377.6 184.8,379.6 184.8,379.9 184.8,381.8 186.5,381.1 186.5,383.2 186.5,383.3 186.5,385.4 186.5,385.6 188.4,386.4 188.4,386.6 188.4,388.8 188.4,389.0 188.4,391.0 188.4,391.3 188.4,393.0 189.5,392.1 190.7,393.0 190.7,394.0 191.8,395.0 192.9,394.0 192.9,396.4 194.8,395.7 194.8,395.3 196.6,394.4 196.6,394.2 198.5,393.3 198.5,393.1 199.6,392.1 200.8,393.3 200.8,390.4 201.9,391.2 203.0,390.4 203.0,389.3 204.2,388.5 205.3,389.3 205.3,386.8 207.1,387.7 207.1,385.8 208.9,386.7 208.9,384.9 210.8,385.7 210.8,384.1 212.6,385.0 212.6,382.9 214.4,384.1 214.4,382.3 215.5,383.0 216.7,382.1 216.7,381.8 217.8,380.7 218.9,381.7 218.9,379.3 220.0,380.1 221.2,379.3 221.2,378.7 222.3,378.0 223.4,378.6 223.4,376.5 225.1,377.5 225.1,375.3 225.1,375.1 225.1,373.0 225.1,373.0 225.1,370.8 226.8,371.6 226.8,369.7 226.8,369.4 226.8,367.3 226.8,367.3 226.8,365.2 228.5,366.0 228.5,364.0 228.5,363.8 228.5,361.7 228.5,361.5 228.5,359.7 228.5,359.2 228.5,357.4 230.2,358.2 230.2,356.3 230.2,355.8 230.2,353.8 230.2,353.6 230.2,351.5 230.2,351.4 230.2,349.2 231.8,350.1 231.8,348.2 231.8,348.1 231.8,346.1 231.8,345.9 231.8,343.8 231.8,343.6 233.5,342.5 233.5,342.5 233.5,340.4 233.5,340.0 233.5,338.1 233.5,338.0 233.5,335.9 234.7,336.9 235.8,336.0 235.8,335.7 235.8,333.7 235.8,333.3 235.8,331.2 236.9,332.3 238.1,331.2 238.1,331.2 238.1,329.0 238.1,328.9 238.1,326.9 240.0,327.7 240.0,325.4 241.8,326.3 241.8,323.7 243.7,324.6 243.7,322.4 244.8,323.3 246.0,322.2 246.0,321.7 247.1,320.7 248.2,321.8 248.2,319.3 249.4,320.1 250.5,319.3 250.5,318.6 251.6,317.9 252.8,318.7 252.8,316.8 252.8,316.7 252.8,314.9 253.9,315.6 255.0,314.9 255.0,314.5 255.0,312.8 255.0,312.7 256.2,311.8 257.3,312.6 257.3,310.7 257.3,310.6 257.3,308.9 259.2,309.7 259.2,307.6 259.2,307.4 259.2,305.4 261.0,306.3 261.0,304.1 261.0,303.9 261.0,302.0 262.9,302.8 262.9,300.9 262.9,300.6 262.9,298.5 264.0,299.6 265.2,298.4 265.2,298.1 265.2,295.9 266.3,296.7 267.4,296.0 267.4,295.5 267.4,293.2 268.6,294.1 269.7,293.2 269.7,293.0 269.7,290.7 271.6,291.6 271.6,291.7 271.6,293.8 273.4,292.9 273.4,295.0 273.4,295.2 275.3,296.2 275.3,296.2 275.3,298.5 276.4,297.4 277.6,298.3 277.6,298.7 277.6,300.5 277.6,300.8 277.6,302.9 277.6,303.2 278.7,304.1 279.8,303.0 279.8,305.1 279.8,305.4 279.8,307.3 279.8,307.6 279.8,309.5 281.0,308.6 282.1,309.7 282.1,309.8 282.1,311.8 282.1,312.0 282.1,314.3 282.1,314.5 283.2,315.4 284.4,314.3 284.4,316.5 284.4,316.6 284.4,318.7 284.4,318.8 284.4,321.1 285.5,320.1 286.6,321.0 286.6,321.2 286.6,323.1 286.6,323.5 286.6,325.3 287.8,324.4 288.9,325.6 288.9,325.8 288.9,327.7 288.9,328.0 288.9,329.8 290.0,329.1 291.1,329.9 291.1,330.2 291.1,332.3 291.1,332.9 292.2,333.7 293.4,333.0 293.4,335.0 293.4,335.3 293.4,337.6 294.5,336.7 295.6,337.4 295.6,337.8 295.6,339.9 295.6,340.3 296.8,341.2 297.9,340.3 297.9,342.5 297.9,342.5 297.9,344.8 297.9,344.8 299.0,345.7 300.2,344.7 300.2,347.0 300.2,347.1 300.2,349.1 300.2,349.4 301.3,350.1 302.4,349.3 302.4,351.3 302.4,351.6 302.4,353.7 302.4,353.8 303.6,354.9 304.7,353.8 304.7,355.8 304.7,356.2 304.7,358.2 304.7,358.5 305.8,359.4 306.9,358.5 306.9,360.5 306.9,360.9 306.9,362.7 306.9,363.0 306.9,364.9 308.1,364.1 309.2,365.1 309.2,365.2 309.2,367.3 309.2,367.4 309.2,369.5 309.2,369.8 310.9,370.5 310.9,370.9 310.9,372.9 310.9,373.0 310.9,375.3 310.9,375.4 312.6,376.4 312.6,376.5 312.6,378.7 312.6,378.8 312.6,380.9 312.6,380.9 314.3,381.9 314.3,382.3 314.3,384.2 314.3,384.4 314.3,386.4 316.0,385.7 316.0,387.5 316.0,387.8 316.0,389.8 316.0,389.9 317.7,391.0 317.7,391.7 319.4,392.8 319.4,393.9" fill="none" stroke="#00b050" stroke-width="2.2" stroke-linejoin="round" stroke-linecap="butt" clip-path="url(#cC)"/>
<polyline points="66.4,304.0 66.4,303.1 66.4,305.2 66.4,305.3 66.4,307.2 66.4,307.3 66.4,309.2 66.4,309.2 66.4,311.1 66.4,311.4 66.4,313.3 66.4,313.3 66.4,315.3 66.4,315.5 66.4,317.2 66.4,317.3 66.4,319.2 66.4,319.2 66.4,321.4 66.4,321.5 66.4,323.1 66.4,323.4 66.4,325.4 66.4,325.4 66.4,327.2 66.4,327.4 66.4,329.2 66.4,329.5 66.4,331.3 66.4,331.5 66.4,333.3 66.4,333.5 66.4,335.3 66.4,335.5 66.4,337.3 66.4,337.6 66.4,339.5 66.4,339.5 66.4,341.5 66.4,341.6 66.4,343.6 66.4,343.4 66.4,345.3 66.4,345.6 67.0,346.5 67.0,346.5 67.0,348.6 67.0,348.6 67.0,350.5 67.0,350.5 67.0,352.4 68.6,351.5 68.6,351.5 68.6,349.4 68.6,349.4 68.6,347.4 68.6,347.2 68.6,345.5 68.6,345.3 69.7,344.4 70.8,345.2 70.8,344.0 71.8,344.9 72.9,343.9 72.9,344.5 74.0,343.6 75.1,344.5 75.1,343.2 76.2,344.2 77.3,343.3 77.3,343.6 78.4,342.8 79.5,343.5 79.5,342.1 80.6,343.2 81.7,342.1 81.7,344.1 83.2,343.3 83.2,346.1 84.8,345.1 84.8,348.1 85.9,347.1 87.1,348.2 87.1,348.4 87.1,350.3 88.2,349.3 89.3,350.3 89.3,350.6 89.3,352.5 90.5,351.7 91.6,352.7 91.6,353.0 91.6,354.9 92.7,353.9 93.9,355.0 93.9,355.0 93.9,357.2 95.0,356.2 96.1,357.1 96.1,357.3 96.1,359.2 97.3,358.3 98.4,359.3 98.4,359.6 98.4,361.6 99.5,360.7 100.6,361.5 100.6,361.8 100.6,363.8 100.6,364.0 100.6,366.1 100.6,366.3 100.6,368.2 101.8,367.5 102.9,368.3 102.9,368.6 104.1,369.6 105.2,368.5 105.2,370.7 106.3,369.7 107.5,370.6 107.5,370.8 107.5,373.0 108.6,372.1 109.7,372.8 109.7,373.3 109.7,375.2 110.8,374.3 112.0,375.0 112.0,374.8 113.1,375.7 114.2,374.9 114.2,376.1 116.1,375.3 116.1,376.3 118.1,375.6 118.1,376.6 120.0,375.7 120.0,376.7 121.9,375.8 121.9,376.7 123.8,376.0 123.8,377.0 125.8,376.2 125.8,377.1 127.7,376.2 127.7,377.4 128.8,376.5 130.0,377.4 130.0,376.7 131.1,377.6 132.2,377.0 132.2,378.0 133.4,377.1 134.5,378.0 134.5,377.5 135.6,378.5 136.8,377.5 136.8,377.0 136.8,374.6 137.9,375.7 139.0,374.7 139.0,374.2 139.0,371.9 140.2,372.8 141.3,371.9 141.3,371.8 141.3,369.9 141.3,369.6 141.3,367.9 141.3,367.9 141.3,365.7 141.3,365.6 141.3,363.6 141.3,363.5 141.3,361.5 141.3,361.6 143.0,360.7 143.0,360.3 143.0,358.5 143.0,358.3 143.0,356.3 143.0,356.0 143.0,353.7 143.0,353.7 144.7,352.8 144.7,352.6 144.7,350.4 144.7,350.3 144.7,348.2 144.7,348.0 144.7,346.0 144.7,345.7 146.4,344.8 146.4,344.6 146.4,342.7 146.4,342.3 146.4,340.3 146.4,340.1 146.4,338.1 148.1,338.9 148.1,336.9 148.1,336.9 148.1,334.9 148.1,334.4 148.1,332.5 148.1,332.4 149.2,331.3 150.3,332.2 150.3,330.3 150.3,330.0 150.3,327.8 150.3,327.8 151.5,326.8 152.6,327.8 152.6,325.6 152.6,325.4 152.6,323.2 152.6,323.1 153.7,322.2 154.9,323.0 154.9,321.2 154.9,321.0 156.0,320.1 157.1,321.0 157.1,318.9 157.1,318.8 158.3,317.8 159.4,318.6 159.4,316.7 159.4,316.6 160.5,315.5 161.6,316.6 161.6,313.5 162.8,314.4 163.9,313.6 163.9,312.5 165.0,311.9 166.1,312.5 166.1,309.7 167.2,310.8 168.4,309.8 168.4,308.8 169.5,307.9 170.6,309.0 170.6,306.2 171.8,307.0 172.9,306.2 172.9,305.0 174.0,304.3 175.2,305.3 175.2,303.2 175.2,303.3 175.2,301.2 176.3,302.0 177.4,301.1 177.4,301.2 177.4,299.3 177.4,299.1 178.6,298.3 179.7,299.0 179.7,297.1 179.7,296.9 179.7,295.2 181.6,296.2 181.6,294.1 181.6,293.7 183.4,293.0 183.4,292.6 183.4,290.6 185.3,291.5 185.3,289.4 185.3,289.3 186.4,288.3 187.4,289.5 187.4,289.6 187.4,291.5 187.4,291.8 187.4,293.7 188.4,292.9 189.5,293.7 189.5,294.2 189.5,296.2 189.5,296.4 189.5,298.4 190.6,297.5 191.8,298.3 191.8,298.7 191.8,300.7 191.8,300.7 191.8,303.0 191.8,303.2 191.8,305.1 192.9,304.2 194.0,305.3 194.0,305.4 194.0,307.5 194.0,307.6 194.0,309.6 194.0,309.9 194.0,311.9 195.1,311.1 196.2,311.8 196.2,312.2 196.2,314.3 196.2,314.4 196.2,316.5 196.2,316.6 197.4,317.7 198.5,316.7 198.5,318.6 198.5,318.9 198.5,320.9 198.5,321.0 198.5,323.3 199.7,322.3 200.8,323.1 200.8,323.4 200.8,325.4 200.8,325.6 201.9,326.5 203.1,325.8 203.1,327.6 203.1,328.0 203.1,330.0 204.2,329.2 205.3,329.8 205.3,330.0 205.3,331.9 205.3,332.0 206.4,332.9 207.6,331.9 207.6,333.8 207.6,334.0 207.6,336.0 208.7,335.2 209.8,336.1 209.8,336.1 209.8,338.0 209.8,337.9 210.9,339.0 212.1,338.1 212.1,340.1 212.1,340.6 212.1,342.8 213.2,341.9 214.3,342.8 214.3,343.2 214.3,345.4 214.3,345.7 215.5,346.4 216.6,345.5 216.6,347.8 216.6,348.0 216.6,350.4 218.5,349.3 218.5,351.4 218.5,351.7 218.5,353.6 218.5,354.0 220.4,354.8 220.4,355.0 220.4,357.0 220.4,357.4 220.4,359.5 222.3,358.3 222.3,360.5 222.3,360.7 222.3,362.8 222.3,363.0 223.9,363.8 223.9,364.1 223.9,366.0 223.9,366.5 223.9,368.4 223.9,368.6 223.9,370.6 225.6,369.8 225.6,371.7 225.6,372.1 225.6,373.9 225.6,374.3 225.6,376.3 225.6,376.5 226.8,377.3 227.9,376.4 227.9,378.4 227.9,378.9 227.9,380.7 227.9,381.0 227.9,383.0 229.0,382.1 230.2,383.1 230.2,383.2 230.2,385.2 230.2,385.5 230.2,387.5 230.2,387.8 232.1,388.6 232.1,388.9 233.9,389.9 233.9,389.9 235.8,390.8 235.8,391.1 237.7,391.9 237.7,390.1 239.6,390.9 239.6,388.8 241.5,389.7 241.5,387.7 242.6,388.8 243.7,387.8 243.7,387.2 244.8,386.1 246.0,387.1 246.0,384.7 247.1,385.7 248.2,384.7 248.2,384.3 249.3,383.1 250.5,384.3 250.5,382.1 251.6,382.9 252.7,382.2 252.7,381.8 253.9,381.0 255.0,382.0 255.0,380.0 257.0,380.8 257.0,379.8 258.9,380.7 258.9,379.8 260.9,380.6 260.9,379.8 262.9,380.6 262.9,379.7 264.6,380.8 264.6,378.5 264.6,378.0 264.6,375.8 266.3,376.9 266.3,374.7 266.3,374.2 266.3,371.8 268.0,372.9 268.0,370.8 268.0,370.6 268.0,368.4 268.0,368.5 268.0,366.3 269.7,367.3 269.7,365.2 269.7,364.8 269.7,363.0 269.7,362.6 269.7,360.5 271.4,361.7 271.4,359.6 271.4,359.3 271.4,357.3 271.4,356.9 271.4,355.1 271.4,354.7 271.4,352.7 273.1,353.5 273.1,351.7 273.1,351.4 273.1,349.5 273.1,349.2 273.1,347.1 273.1,347.0 273.1,344.9 274.8,345.7 274.8,343.7 274.8,343.4 274.8,341.4 274.8,341.2 274.8,339.1 276.5,340.2 276.5,338.0 276.5,338.0 276.5,335.8 276.5,335.6 276.5,333.4 278.4,334.5 278.4,332.5 278.4,332.4 278.4,330.6 280.2,331.3 280.2,329.5 280.2,329.3 280.2,327.5 282.1,328.5 282.1,326.4 282.1,326.5 282.1,324.4 283.2,325.3 284.4,324.5 284.4,324.3 284.4,322.3 285.5,323.2 286.6,322.3 286.6,322.1 286.6,320.2 287.8,320.9 288.9,320.0 288.9,319.7 288.9,317.8 290.0,318.7 291.1,317.7 291.1,317.1 292.2,316.2 293.4,317.1 293.4,314.8 294.5,315.5 295.6,314.8 295.6,314.2 296.7,313.1 297.9,314.2 297.9,312.2 297.9,312.3 297.9,310.3 299.0,311.3 300.1,310.3 300.1,310.2 300.1,308.1 300.1,308.1 301.3,307.3 302.4,308.2 302.4,306.2 302.4,306.1 302.4,304.4 304.3,305.1 304.3,303.3 304.3,303.1 304.3,301.1 306.2,302.1 306.2,300.1 306.2,300.2 306.2,298.1 308.1,299.1 308.1,297.1 308.1,297.1 308.1,295.1 309.2,296.1 310.4,295.2 310.4,295.0 310.4,292.9 311.5,293.9 312.6,292.8 312.6,292.8 312.6,291.1" fill="none" stroke="#0070c0" stroke-width="2.2" stroke-linejoin="round" stroke-linecap="butt" clip-path="url(#cC)"/>
<polyline points="65.0,346.3 66.5,345.4 66.5,346.0 68.0,345.1 68.0,345.4 69.3,344.6 70.6,345.5 70.6,344.5 70.6,345.3 70.6,343.6 70.6,343.5 70.6,341.4 70.6,341.3 70.6,339.5 70.6,339.2 70.6,337.2 70.6,337.0 70.6,335.0 70.6,335.1 70.6,333.2 71.8,333.8 73.0,333.0 73.0,334.1 73.0,333.1 73.0,334.9 73.0,335.1 73.0,336.8 73.0,337.2 73.0,339.0 73.0,339.1 73.0,340.9 73.0,341.2 73.0,343.0 74.1,342.2 75.2,343.0 75.2,341.9 76.2,342.8 77.3,341.8 77.3,342.4 78.4,341.5 79.5,342.5 79.5,340.9 81.0,341.8 81.0,339.6 82.6,340.5 82.6,338.0 83.7,339.1 84.9,338.1 84.9,337.9 84.9,335.8 86.0,336.7 87.1,335.8 87.1,335.7 87.1,333.5 88.3,334.5 89.4,333.6 89.4,333.2 89.4,331.4 90.5,332.3 91.6,331.4 91.6,331.0 91.6,329.1 92.8,330.0 93.9,329.0 93.9,328.8 93.9,326.8 95.0,327.7 96.1,326.7 96.1,326.6 96.1,324.6 98.0,325.4 98.0,323.2 99.9,323.8 99.9,321.5 101.8,322.6 101.8,320.0 103.7,320.9 103.7,320.5 105.5,321.3 105.5,320.6 107.4,321.8 107.4,321.1 108.5,322.2 109.7,321.2 109.7,323.4 109.7,323.6 110.8,324.7 111.9,323.8 111.9,325.9 111.9,326.4 113.1,327.5 114.2,326.6 114.2,328.7 114.2,329.0 115.3,330.1 116.5,329.0 116.5,331.2 116.5,331.3 117.6,332.2 118.7,331.3 118.7,333.2 118.7,333.5 119.9,334.5 121.0,333.7 121.0,335.6 121.0,335.9 122.1,336.7 123.2,335.9 123.2,337.9 123.2,338.0 124.3,339.0 125.5,338.1 125.5,340.0 125.5,340.4 126.6,341.1 127.7,340.3 127.7,342.4 127.7,342.5 129.4,343.5 129.4,343.6 129.4,345.7 131.1,344.7 131.1,347.0 131.1,347.3 132.8,347.9 132.8,348.4 132.8,350.4 132.8,350.6 134.5,351.3 134.5,351.6 134.5,353.7 134.5,354.1 136.2,354.7 136.2,355.1 136.2,357.0 136.2,357.4 136.2,359.4 137.9,358.5 137.9,360.4 137.9,360.7 137.9,362.6 137.9,363.0 139.1,363.8 140.2,363.0 140.2,364.7 140.2,364.8 140.2,366.9 140.2,367.0 140.2,368.9 140.2,368.9 140.2,370.7 140.2,371.1 140.2,372.7 141.3,371.9 142.4,372.7 142.4,372.9 142.4,374.9 142.4,375.0 142.4,376.8 142.4,376.9 142.4,379.0 142.4,379.0 142.4,380.9 142.4,381.0 144.1,381.9 144.1,382.2 144.1,384.1 144.1,384.4 144.1,386.3 145.8,385.6 145.8,387.7 145.8,387.7 145.8,389.8 145.8,389.9 147.5,390.9 147.5,391.3 147.5,393.8 149.2,392.9 149.2,395.1 149.2,395.8 150.3,396.7 151.3,395.8 151.3,396.6 152.4,395.5 153.5,396.5 153.5,395.6 155.2,396.6 155.2,394.3 155.2,394.3 157.0,393.3 157.0,393.0 157.0,391.1 158.8,391.9 158.8,390.0 158.8,389.9 160.5,389.1 160.5,388.8 160.5,387.0 162.3,387.9 162.3,386.1 162.3,385.9 164.0,384.9 164.0,385.7 165.8,384.8 165.8,385.1 167.5,384.3 167.5,384.9 169.4,383.8 169.4,384.6 171.3,383.8 171.3,384.6 173.2,383.5 173.2,384.5 175.1,383.5 175.1,384.4 176.1,383.3 177.1,384.2 177.1,381.7 178.2,382.7 179.2,381.8 179.2,381.1 180.3,380.4 181.5,381.4 181.5,379.3 181.5,379.0 181.5,376.8 181.5,376.7 181.5,374.6 183.4,375.4 183.4,373.5 183.4,373.2 183.4,371.0 183.4,370.9 183.4,368.6 185.3,369.5 185.3,367.6 185.3,367.2 185.3,365.4 185.3,364.9 185.3,362.8 186.3,363.9 187.3,362.9 187.3,362.8 187.3,360.9 187.3,360.9 187.3,359.0 187.3,358.9 187.3,357.0 187.3,356.7 187.3,355.0 187.3,355.0 188.9,353.9 188.9,353.8 188.9,351.7 188.9,351.4 188.9,349.3 188.9,349.3 188.9,347.3 190.6,348.1 190.6,346.1 190.6,345.7 190.6,343.6 190.6,343.4 190.6,341.6 190.6,341.4 192.3,340.4 192.3,340.0 192.3,338.2 192.3,337.8 192.3,335.8 192.3,335.5 192.3,333.5 194.0,334.5 194.0,332.3 194.0,332.4 194.0,330.3 194.0,329.9 194.0,328.0 194.0,327.6 195.7,326.8 195.7,326.5 195.7,324.7 195.7,324.5 197.4,323.5 197.4,323.2 197.4,321.2 197.4,320.9 199.1,320.2 199.1,319.9 200.8,318.8 200.8,318.8 201.9,317.9 203.1,318.6 203.1,316.2 204.2,317.3 205.3,316.2 205.3,315.7 206.5,314.7 207.6,315.6 207.6,313.2 208.7,314.1 209.9,313.3 209.9,312.5 211.0,311.8 212.1,312.8 212.1,310.3 213.3,311.2 214.4,310.2 214.4,309.8 215.5,308.8 216.6,309.6 216.6,307.8 216.6,307.6 216.6,305.6 217.8,306.8 218.9,305.8 218.9,305.6 218.9,303.7 218.9,303.7 220.0,302.7 221.1,303.6 221.1,301.9 221.1,301.6 221.1,299.9 222.2,300.7 223.3,299.9 223.3,299.1 223.3,296.9 224.5,297.7 225.6,296.8 225.6,296.4 225.6,293.9 226.8,294.8 227.9,294.0 227.9,296.7 229.0,295.9 230.2,296.8 230.2,297.5 231.8,298.4 231.8,298.7 231.8,301.2 233.5,300.3 233.5,302.4 233.5,303.0 235.2,304.1 235.2,304.1 235.2,306.1 235.2,306.2 235.2,308.1 236.9,307.2 236.9,308.9 236.9,308.9 236.9,311.0 236.9,310.9 238.6,312.1 238.6,312.1 238.6,314.3 238.6,314.5 238.6,316.4 240.3,315.7 240.3,317.6 240.3,317.7 240.3,319.8 240.3,320.2 241.4,321.1 242.6,320.0 242.6,322.1 242.6,322.3 242.6,324.4 242.6,324.6 243.7,325.4 244.8,324.6 244.8,326.5 244.8,326.9 244.8,328.9 244.8,329.1 246.7,330.0 246.7,330.3 246.7,332.2 248.6,331.4 248.6,333.2 248.6,333.7 250.5,334.6 250.5,334.7 250.5,336.7 252.4,335.8 252.4,338.5 254.2,337.9 254.2,340.5 256.1,339.6 256.1,342.4 257.8,341.5 257.8,343.7 257.8,344.0 257.8,346.2 259.5,345.4 259.5,347.6 259.5,348.1 259.5,350.2 261.2,349.3 261.2,351.5 261.2,351.5 261.2,353.6 261.2,353.9 262.9,354.7 262.9,355.2 262.9,357.1 262.9,357.2 262.9,359.2 264.6,358.4 264.6,360.6 264.6,360.8 264.6,362.8 264.6,362.9 264.6,365.0 264.6,365.2 264.6,367.3 266.3,366.3 266.3,368.5 266.3,368.5 266.3,370.8 266.3,370.8 266.3,372.8 266.3,373.2 266.3,375.1 268.0,374.2 268.0,376.4 268.0,376.6 268.0,378.6 268.0,378.7 269.7,379.6 269.7,379.9 269.7,381.8 269.7,382.1 269.7,384.0 271.4,383.1 271.4,385.4 271.4,385.5 271.4,387.5 273.1,386.5 273.1,388.8 273.1,389.0 273.1,391.0 274.2,389.9 275.4,391.0 275.4,391.4 275.4,393.7 276.5,392.7 277.6,393.9 277.6,394.3 277.6,396.6 278.7,395.7 279.9,396.4 279.9,394.3 279.9,393.6 281.0,392.7 282.1,393.9 282.1,391.6 282.1,391.0 283.2,390.1 284.4,390.8 284.4,388.6 285.5,389.4 286.6,388.5 286.6,387.8 287.8,387.1 288.9,387.9 288.9,385.7 290.0,386.5 291.1,385.5 291.1,385.8 292.2,384.9 293.4,385.6 293.4,384.0 294.5,384.8 295.6,384.0 295.6,384.1 296.7,383.2 297.9,384.2 297.9,382.8 299.0,383.9 300.1,382.9 300.1,383.4 301.3,382.4 302.4,383.5 302.4,382.1 304.3,383.0 304.3,381.1 306.2,381.8 306.2,379.8 308.1,380.7 308.1,378.7 309.8,379.7 309.8,377.5 309.8,377.5 309.8,375.2 309.8,375.0 309.8,373.1 309.8,372.9 311.5,372.0 311.5,371.7 311.5,369.7 311.5,369.5 311.5,367.6 311.5,367.2 311.5,365.2 312.6,366.0 313.7,365.2 313.7,365.1 313.7,363.1 313.7,363.0 313.7,361.1 313.7,361.0 313.7,359.2 313.7,358.9 313.7,357.2 313.7,357.1 315.4,356.0 315.4,356.0 315.4,353.9 315.4,353.8 315.4,351.7 315.4,351.5 315.4,349.4 317.1,350.4 317.1,348.1 317.1,348.0 317.1,346.1 317.1,345.8 317.1,343.8 317.1,343.5 318.2,342.8 319.4,343.5 319.4,341.9" fill="none" stroke="#ff0000" stroke-width="2.2" stroke-linejoin="round" stroke-linecap="butt" clip-path="url(#cC)"/>
<polyline points="312.6,291.1 316.0,295.6 319.4,302.4" fill="none" stroke="#000000" stroke-width="2.2" stroke-linejoin="round" stroke-linecap="butt" clip-path="url(#cC)"/>
<line x1="98.4" y1="348" x2="98.4" y2="370" stroke="#0070c0" stroke-width="1.5" clip-path="url(#cC)"/>
<line x1="114.2" y1="320" x2="114.2" y2="342" stroke="#00b050" stroke-width="1.5" clip-path="url(#cC)"/>
<line x1="113.5" y1="322" x2="113.5" y2="344" stroke="#ff0000" stroke-width="1.5" clip-path="url(#cC)"/>
<line x1="157" y1="309" x2="157" y2="336" stroke="#0070c0" stroke-width="1.5" clip-path="url(#cC)"/>
<line x1="139" y1="360" x2="139" y2="375" stroke="#ff0000" stroke-width="1.5" clip-path="url(#cC)"/>
<line x1="180" y1="283" x2="180" y2="300" stroke="#0070c0" stroke-width="1.5" clip-path="url(#cC)"/>
<line x1="198.5" y1="312" x2="198.5" y2="342" stroke="#ff0000" stroke-width="1.5" clip-path="url(#cC)"/>
<line x1="241" y1="313" x2="241" y2="338" stroke="#00b050" stroke-width="1.5" clip-path="url(#cC)"/>
<line x1="241" y1="313" x2="241" y2="340" stroke="#ff0000" stroke-width="1.5" clip-path="url(#cC)"/>
<line x1="284" y1="311" x2="284" y2="336" stroke="#0070c0" stroke-width="1.5" clip-path="url(#cC)"/>
<line x1="267" y1="378" x2="267" y2="388" stroke="#ff0000" stroke-width="1.5" clip-path="url(#cC)"/>
<line x1="266.5" y1="366" x2="266.5" y2="382" stroke="#0070c0" stroke-width="1.5" clip-path="url(#cC)"/>
<line x1="308" y1="372" x2="308" y2="388" stroke="#00b050" stroke-width="1.5" clip-path="url(#cC)"/>
<line x1="308" y1="368" x2="308" y2="382" stroke="#ff0000" stroke-width="1.5" clip-path="url(#cC)"/>
<line x1="225" y1="366" x2="225" y2="382" stroke="#00b050" stroke-width="1.5" clip-path="url(#cC)"/>
<line x1="70.8" y1="346" x2="70.8" y2="356.8" stroke="#0070c0" stroke-width="1.5" clip-path="url(#cC)"/>
<polyline points="65.0,346.6 66.5,346.8 68.1,347.2 69.2,346.3 71.1,346.7 72.3,347.7 73.8,347.5 75.2,347.2 76.4,347.2 78.3,347.0 80.0,347.2 81.1,347.4 82.6,346.7 83.7,347.5 85.2,347.3 87.0,347.3 89.0,346.9 90.8,346.9 92.7,347.5 93.8,346.5 95.0,347.7 96.4,347.2 97.7,347.0 99.1,346.8 100.7,347.1 102.6,347.3 104.5,347.5 106.5,347.2 107.7,347.5 109.7,347.6 111.2,347.3 112.4,347.5 114.0,346.7 115.1,347.5 117.1,346.4 118.9,346.9 120.0,346.7 121.8,347.5 122.8,347.2 123.9,347.3 125.2,347.5 127.2,347.0 129.2,346.7 130.3,347.1 131.3,346.6 132.7,347.2 133.9,346.4 135.7,346.7 137.7,347.6 139.1,346.9 140.6,347.2 142.2,347.1 143.8,347.6 145.3,346.9 147.0,346.6 148.3,347.7 149.9,347.1 150.9,346.9 152.4,346.3 154.1,347.2 155.1,347.2 156.6,347.3 157.9,347.3 159.7,346.3 160.7,347.2 162.7,346.7 164.2,347.1 165.5,346.8 166.8,346.8 168.4,346.7 169.8,347.4 170.8,347.1 172.5,346.7 173.7,347.4 175.0,346.6 176.4,347.3 177.5,346.8 178.9,347.5 180.3,347.5 181.5,346.8 183.1,347.5 184.6,346.6 185.7,347.0 186.9,347.4 188.7,346.6 190.0,347.4 191.6,347.4 193.0,346.5 194.3,347.4 195.5,346.8 197.0,346.9 198.4,347.6 199.5,346.3 201.5,347.5 203.5,346.9 205.4,347.6 206.6,347.3 208.5,347.2 210.0,346.7 211.3,346.6 212.4,347.1 213.7,347.4 214.7,347.6 216.4,347.6 218.3,347.6 219.9,346.3 221.6,346.5 222.9,347.2 224.5,346.9 226.4,347.2 227.7,346.7 229.6,347.0 231.4,346.8 232.6,347.0 234.4,346.5 236.2,347.6 238.0,347.5 239.0,347.2 240.9,346.4 242.1,346.7 243.7,346.9 245.1,347.4 246.1,346.4 247.3,346.5 248.3,347.7 250.2,346.4 251.7,346.7 253.0,346.8 254.7,347.1 256.0,346.6 257.3,346.5 258.9,347.3 260.3,346.4 261.5,346.8 263.1,347.4 264.4,347.4 266.1,346.9 267.4,347.0 269.1,346.9 270.8,346.9 272.1,347.1 273.8,346.4 275.2,346.9 277.1,347.6 278.5,347.6 280.2,346.7 281.7,346.5 283.5,347.2 285.4,347.4 287.1,347.3 288.6,346.4 290.2,346.3 291.4,347.4 292.4,346.4 293.5,347.5 294.7,346.3 296.5,346.5 298.4,347.2 300.2,347.6 301.8,347.4 302.8,347.4 304.3,347.3 305.5,347.3 307.4,346.4 308.7,347.1 310.5,346.6 311.7,346.6 313.3,347.4 314.7,346.8 316.1,346.8 317.5,346.4 319.0,347.7 319.6,347.0" fill="none" stroke="#000000" stroke-width="3.4" stroke-linejoin="miter" stroke-linecap="butt" clip-path="url(#cC)"/>
<line x1="66.0" y1="347" x2="66.0" y2="344.5" stroke="#000" stroke-width="1.1"/>
<line x1="70.5" y1="347" x2="70.5" y2="349.2" stroke="#000" stroke-width="1.1"/>
<line x1="74.4" y1="347" x2="74.4" y2="344.8" stroke="#000" stroke-width="1.1"/>
<line x1="78.6" y1="347" x2="78.6" y2="350.1" stroke="#000" stroke-width="1.1"/>
<line x1="82.9" y1="347" x2="82.9" y2="349.7" stroke="#000" stroke-width="1.1"/>
<line x1="88.4" y1="347" x2="88.4" y2="344.7" stroke="#000" stroke-width="1.1"/>
<line x1="91.6" y1="347" x2="91.6" y2="350.1" stroke="#000" stroke-width="1.1"/>
<line x1="97.1" y1="347" x2="97.1" y2="349.8" stroke="#000" stroke-width="1.1"/>
<line x1="102.6" y1="347" x2="102.6" y2="350.1" stroke="#000" stroke-width="1.1"/>
<line x1="106.2" y1="347" x2="106.2" y2="349.6" stroke="#000" stroke-width="1.1"/>
<line x1="110.0" y1="347" x2="110.0" y2="344.3" stroke="#000" stroke-width="1.1"/>
<line x1="113.4" y1="347" x2="113.4" y2="349.9" stroke="#000" stroke-width="1.1"/>
<line x1="116.4" y1="347" x2="116.4" y2="349.8" stroke="#000" stroke-width="1.1"/>
<line x1="119.6" y1="347" x2="119.6" y2="344.4" stroke="#000" stroke-width="1.1"/>
<line x1="124.6" y1="347" x2="124.6" y2="349.9" stroke="#000" stroke-width="1.1"/>
<line x1="130.2" y1="347" x2="130.2" y2="344.4" stroke="#000" stroke-width="1.1"/>
<line x1="133.5" y1="347" x2="133.5" y2="344.2" stroke="#000" stroke-width="1.1"/>
<line x1="138.7" y1="347" x2="138.7" y2="343.8" stroke="#000" stroke-width="1.1"/>
<line x1="144.2" y1="347" x2="144.2" y2="343.9" stroke="#000" stroke-width="1.1"/>
<line x1="149.4" y1="347" x2="149.4" y2="344.8" stroke="#000" stroke-width="1.1"/>
<line x1="154.4" y1="347" x2="154.4" y2="343.9" stroke="#000" stroke-width="1.1"/>
<line x1="157.8" y1="347" x2="157.8" y2="344.6" stroke="#000" stroke-width="1.1"/>
<line x1="161.8" y1="347" x2="161.8" y2="344.9" stroke="#000" stroke-width="1.1"/>
<line x1="165.2" y1="347" x2="165.2" y2="349.0" stroke="#000" stroke-width="1.1"/>
<line x1="169.3" y1="347" x2="169.3" y2="349.0" stroke="#000" stroke-width="1.1"/>
<line x1="173.0" y1="347" x2="173.0" y2="349.5" stroke="#000" stroke-width="1.1"/>
<line x1="175.7" y1="347" x2="175.7" y2="349.5" stroke="#000" stroke-width="1.1"/>
<line x1="180.1" y1="347" x2="180.1" y2="343.9" stroke="#000" stroke-width="1.1"/>
<line x1="182.9" y1="347" x2="182.9" y2="349.1" stroke="#000" stroke-width="1.1"/>
<line x1="188.5" y1="347" x2="188.5" y2="349.1" stroke="#000" stroke-width="1.1"/>
<line x1="194.3" y1="347" x2="194.3" y2="349.8" stroke="#000" stroke-width="1.1"/>
<line x1="198.1" y1="347" x2="198.1" y2="349.4" stroke="#000" stroke-width="1.1"/>
<line x1="203.0" y1="347" x2="203.0" y2="349.1" stroke="#000" stroke-width="1.1"/>
<line x1="208.8" y1="347" x2="208.8" y2="349.8" stroke="#000" stroke-width="1.1"/>
<line x1="213.1" y1="347" x2="213.1" y2="344.2" stroke="#000" stroke-width="1.1"/>
<line x1="217.4" y1="347" x2="217.4" y2="344.1" stroke="#000" stroke-width="1.1"/>
<line x1="222.3" y1="347" x2="222.3" y2="344.2" stroke="#000" stroke-width="1.1"/>
<line x1="227.3" y1="347" x2="227.3" y2="344.8" stroke="#000" stroke-width="1.1"/>
<line x1="233.0" y1="347" x2="233.0" y2="349.1" stroke="#000" stroke-width="1.1"/>
<line x1="238.7" y1="347" x2="238.7" y2="343.9" stroke="#000" stroke-width="1.1"/>
<line x1="243.5" y1="347" x2="243.5" y2="349.7" stroke="#000" stroke-width="1.1"/>
<line x1="248.2" y1="347" x2="248.2" y2="349.6" stroke="#000" stroke-width="1.1"/>
<line x1="253.5" y1="347" x2="253.5" y2="344.9" stroke="#000" stroke-width="1.1"/>
<line x1="256.6" y1="347" x2="256.6" y2="349.4" stroke="#000" stroke-width="1.1"/>
<line x1="260.0" y1="347" x2="260.0" y2="349.1" stroke="#000" stroke-width="1.1"/>
<line x1="263.0" y1="347" x2="263.0" y2="349.6" stroke="#000" stroke-width="1.1"/>
<line x1="266.4" y1="347" x2="266.4" y2="350.1" stroke="#000" stroke-width="1.1"/>
<line x1="272.2" y1="347" x2="272.2" y2="349.6" stroke="#000" stroke-width="1.1"/>
<line x1="277.4" y1="347" x2="277.4" y2="349.6" stroke="#000" stroke-width="1.1"/>
<line x1="283.4" y1="347" x2="283.4" y2="344.7" stroke="#000" stroke-width="1.1"/>
<line x1="286.2" y1="347" x2="286.2" y2="344.3" stroke="#000" stroke-width="1.1"/>
<line x1="291.9" y1="347" x2="291.9" y2="344.8" stroke="#000" stroke-width="1.1"/>
<line x1="295.1" y1="347" x2="295.1" y2="349.8" stroke="#000" stroke-width="1.1"/>
<line x1="298.9" y1="347" x2="298.9" y2="344.3" stroke="#000" stroke-width="1.1"/>
<line x1="302.0" y1="347" x2="302.0" y2="350.0" stroke="#000" stroke-width="1.1"/>
<line x1="306.4" y1="347" x2="306.4" y2="344.3" stroke="#000" stroke-width="1.1"/>
<line x1="309.6" y1="347" x2="309.6" y2="349.4" stroke="#000" stroke-width="1.1"/>
<line x1="313.1" y1="347" x2="313.1" y2="350.1" stroke="#000" stroke-width="1.1"/>
<line x1="66" y1="347" x2="66" y2="369" stroke="#000" stroke-width="1.8"/>
<line x1="67.5" y1="347" x2="67.5" y2="337" stroke="#000" stroke-width="1.8"/>
<line x1="72" y1="347" x2="72" y2="359" stroke="#000" stroke-width="1.8"/>
<line x1="79" y1="347" x2="79" y2="354" stroke="#000" stroke-width="1.8"/>
<line x1="85" y1="347" x2="85" y2="341" stroke="#000" stroke-width="1.8"/>
<line x1="98.7" y1="347" x2="98.7" y2="338" stroke="#000" stroke-width="1.8"/>
<line x1="103" y1="347" x2="103" y2="342" stroke="#000" stroke-width="1.8"/>
<line x1="108" y1="347" x2="108" y2="352" stroke="#000" stroke-width="1.8"/>
<line x1="114" y1="347" x2="114" y2="341" stroke="#000" stroke-width="1.8"/>
<line x1="121" y1="347" x2="121" y2="352" stroke="#000" stroke-width="1.8"/>
<line x1="127" y1="347" x2="127" y2="343" stroke="#000" stroke-width="1.8"/>
<line x1="140" y1="347" x2="140" y2="341" stroke="#000" stroke-width="1.8"/>
<line x1="146" y1="347" x2="146" y2="352" stroke="#000" stroke-width="1.8"/>
<line x1="157" y1="347" x2="157" y2="356" stroke="#000" stroke-width="1.8"/>
<line x1="163" y1="347" x2="163" y2="342" stroke="#000" stroke-width="1.8"/>
<line x1="170" y1="347" x2="170" y2="341" stroke="#000" stroke-width="1.8"/>
<line x1="177" y1="347" x2="177" y2="343" stroke="#000" stroke-width="1.8"/>
<line x1="186" y1="347" x2="186" y2="352" stroke="#000" stroke-width="1.8"/>
<line x1="198" y1="347" x2="198" y2="342" stroke="#000" stroke-width="1.8"/>
<line x1="200" y1="347" x2="200" y2="356" stroke="#000" stroke-width="1.8"/>
<line x1="213" y1="347" x2="213" y2="343" stroke="#000" stroke-width="1.8"/>
<line x1="220" y1="347" x2="220" y2="341" stroke="#000" stroke-width="1.8"/>
<line x1="226" y1="347" x2="226" y2="354" stroke="#000" stroke-width="1.8"/>
<line x1="232" y1="347" x2="232" y2="342" stroke="#000" stroke-width="1.8"/>
<line x1="241" y1="347" x2="241" y2="356" stroke="#000" stroke-width="1.8"/>
<line x1="251" y1="347" x2="251" y2="342" stroke="#000" stroke-width="1.8"/>
<line x1="258" y1="347" x2="258" y2="343" stroke="#000" stroke-width="1.8"/>
<line x1="263" y1="347" x2="263" y2="356" stroke="#000" stroke-width="1.8"/>
<line x1="268" y1="347" x2="268" y2="342" stroke="#000" stroke-width="1.8"/>
<line x1="277" y1="347" x2="277" y2="352" stroke="#000" stroke-width="1.8"/>
<line x1="284" y1="347" x2="284" y2="356" stroke="#000" stroke-width="1.8"/>
<line x1="296" y1="347" x2="296" y2="342" stroke="#000" stroke-width="1.8"/>
<line x1="303" y1="347" x2="303" y2="343" stroke="#000" stroke-width="1.8"/>
<line x1="310" y1="347" x2="310" y2="341" stroke="#000" stroke-width="1.8"/>
<line x1="316" y1="347" x2="316" y2="342" stroke="#000" stroke-width="1.8"/>
<clipPath id="cD"><rect x="408.1" y="265.5" width="256.9" height="167.3"/></clipPath>
<polyline points="409.8,351.5 409.8,351.5 409.8,339.0 410.6,339.0 410.6,321.0 412.9,321.0 412.9,305.2 415.2,305.2 415.2,289.4 417.4,289.4 417.4,278.1 419.7,278.1 419.7,272.4 421.4,272.4 421.4,271.9 423.1,271.9 423.1,271.3 424.8,271.3 424.8,273.0 426.5,273.0 426.5,274.7 428.1,274.7 428.1,278.1 429.8,278.1 429.8,281.5 431.5,281.5 431.5,285.4 433.2,285.4 433.2,289.4 434.9,289.4 434.9,293.4 436.6,293.4 436.6,297.3 438.3,297.3 438.3,299.6 440.0,299.6 440.0,301.8 441.5,301.8 441.5,301.8 443.0,301.8 443.0,301.8 444.5,301.8 444.5,301.8 446.0,301.8 446.0,301.8 447.5,301.8 447.5,301.8 449.0,301.8 449.0,301.8 450.7,301.8 450.7,303.5 452.4,303.5 452.4,305.2 454.7,305.2 454.7,314.2 456.9,314.2 456.9,325.5 459.2,325.5 459.2,339.0 461.5,339.0 461.5,350.3 463.7,350.3 463.7,363.9 466.0,363.9 466.0,377.4 468.2,377.4 468.2,391.0 469.9,391.0 469.9,397.8 471.6,397.8 471.6,404.5 473.3,404.5 473.3,411.3 475.0,411.3 475.0,418.1 476.7,418.1 476.7,419.8 478.4,419.8 478.4,421.5 480.1,421.5 480.1,421.5 481.8,421.5 481.8,421.5 483.4,421.5 483.4,421.5 485.1,421.5 485.1,421.5 486.8,421.5 486.8,421.5 488.5,421.5 488.5,421.5 490.0,421.5 490.0,422.2 491.6,422.2 491.6,423.0 493.1,423.0 493.1,423.7 494.6,423.7 494.6,422.2 496.1,422.2 496.1,420.7 497.6,420.7 497.6,419.2 499.3,419.2 499.3,415.2 501.0,415.2 501.0,411.3 502.1,411.3 502.1,400.0 504.4,400.0 504.4,386.5 506.6,386.5 506.6,372.9 508.9,372.9 508.9,359.4 511.1,359.4 511.1,345.8 513.4,345.8 513.4,330.0 515.6,330.0 515.6,314.2 517.9,314.2 517.9,296.1 520.2,296.1 520.2,278.1 522.4,278.1 522.4,272.4 524.7,272.4 524.7,271.3 526.1,271.3 526.1,271.9 527.5,271.9 527.5,272.5 528.8,272.5 528.8,275.3 530.0,275.3 530.0,278.1 531.7,278.1 531.7,283.8 533.4,283.8 533.4,289.4 534.9,289.4 534.9,292.0 536.4,292.0 536.4,294.7 537.9,294.7 537.9,297.3 539.4,297.3 539.4,298.4 540.9,298.4 540.9,299.5 542.4,299.5 542.4,300.6 544.1,300.6 544.1,300.9 545.8,300.9 545.8,301.2 547.5,301.2 547.5,301.5 549.2,301.5 549.2,301.8 550.7,301.8 550.7,302.9 552.2,302.9 552.2,304.1 553.7,304.1 553.7,305.2 556.0,305.2 556.0,314.2 558.2,314.2 558.2,325.5 560.5,325.5 560.5,339.0 562.7,339.0 562.7,350.3 565.0,350.3 565.0,363.9 567.3,363.9 567.3,379.7 569.5,379.7 569.5,393.2 571.2,393.2 571.2,400.0 572.9,400.0 572.9,406.8 574.4,406.8 574.4,411.7 575.9,411.7 575.9,416.6 577.4,416.6 577.4,421.5 579.1,421.5 579.1,421.6 580.8,421.6 580.8,421.7 582.5,421.7 582.5,421.8 584.2,421.8 584.2,421.9 585.9,421.9 585.9,422.0 587.6,422.0 587.6,422.1 589.3,422.1 589.3,422.7 591.0,422.7 591.0,423.2 592.7,423.2 592.7,423.8 594.4,423.8 594.4,424.4 595.9,424.4 595.9,423.0 597.4,423.0 597.4,421.7 598.9,421.7 598.9,420.3 600.6,420.3 600.6,416.9 602.3,416.9 602.3,413.5 604.5,413.5 604.5,400.0 606.8,400.0 606.8,386.5 609.0,386.5 609.0,370.6 611.3,370.6 611.3,354.8 613.5,354.8 613.5,339.0 615.8,339.0 615.8,318.7 618.1,318.7 618.1,300.6 620.3,300.6 620.3,282.6 622.6,282.6 622.6,273.5 624.3,273.5 624.3,272.4 626.0,272.4 626.0,271.3 627.7,271.3 627.7,272.4 629.4,272.4 629.4,273.5 631.0,273.5 631.0,278.1 632.7,278.1 632.7,282.6 634.4,282.6 634.4,287.1 636.1,287.1 636.1,291.6 637.6,291.6 637.6,294.6 639.1,294.6 639.1,297.6 640.6,297.6 640.6,300.6 642.0,300.6 642.0,300.9 643.5,300.9 643.5,301.2 644.9,301.2 644.9,301.5 646.3,301.5 646.3,301.8 647.8,301.8 647.8,301.4 649.3,301.4 649.3,301.0 650.8,301.0 650.8,300.6 652.5,300.6 652.5,302.9 654.2,302.9 654.2,305.2 655.9,305.2 655.9,309.7 657.6,309.7 657.6,314.2 659.3,314.2 659.3,322.1 661.0,322.1 661.0,330.0 663.2,330.0 663.2,341.3 665.0,341.3 665.0,350.0" fill="none" stroke="#666666" stroke-width="1.5" stroke-linejoin="round" stroke-linecap="butt" clip-path="url(#cD)"/>
<polyline points="410.6,341.6 412.3,340.7 412.3,340.7 414.0,339.8 414.0,339.4 415.1,338.6 416.2,339.5 416.2,339.9 416.2,342.2 417.4,341.5 418.5,342.4 418.5,342.8 418.5,345.2 419.6,344.4 420.8,345.1 420.8,346.1 421.9,346.9 423.0,346.0 423.0,349.0 424.2,348.1 425.3,348.7 425.3,349.8 426.4,350.9 427.6,349.9 427.6,351.8 428.7,351.0 429.8,351.8 429.8,352.2 430.9,353.0 432.1,352.2 432.1,353.0 433.2,352.2 434.3,353.0 434.3,352.2 435.5,353.0 436.6,352.3 436.6,353.2 437.7,352.1 438.9,353.1 438.9,351.1 440.0,352.1 441.1,350.9 441.1,350.7 442.3,349.9 443.4,350.8 443.4,348.7 445.3,349.8 445.3,347.3 447.1,348.2 447.1,345.7 449.0,346.6 449.0,344.2 450.1,345.3 451.2,344.1 451.2,344.0 451.2,342.0 452.4,342.8 453.5,342.1 453.5,341.9 453.5,339.8 455.4,340.6 455.4,338.4 455.4,338.1 457.3,337.1 457.3,336.7 457.3,334.5 459.2,335.4 459.2,333.1 459.2,332.8 461.1,331.9 461.1,331.2 462.9,330.5 462.9,329.5 464.8,328.7 464.8,328.3 466.7,327.2 466.7,327.5 468.6,326.7 468.6,327.0 470.5,325.9 470.5,326.4 471.6,325.4 472.8,326.5 472.8,326.1 473.9,327.0 475.0,325.9 475.0,327.6 476.2,326.7 477.3,327.5 477.3,327.2 479.2,328.3 479.2,328.5 479.2,330.5 481.0,329.4 481.0,331.7 481.0,331.7 482.9,332.8 482.9,332.9 482.9,335.0 484.8,334.1 484.8,335.8 484.8,335.9 484.8,338.0 486.6,337.1 486.6,339.0 486.6,339.1 486.6,340.9 488.5,340.1 488.5,342.0 488.5,342.0 488.5,344.0 490.4,343.1 490.4,344.8 490.4,345.2 490.4,346.9 492.3,346.1 492.3,348.1 492.3,348.0 492.3,350.1 494.2,349.0 494.2,351.0 494.2,351.0 494.2,353.1 496.1,352.3 496.1,354.2 496.1,354.8 496.1,356.9 497.9,356.0 497.9,358.0 497.9,358.4 497.9,360.5 499.8,359.8 499.8,361.7 499.8,362.2 499.8,364.3 501.7,363.5 501.7,365.4 501.7,365.5 501.7,367.3 503.6,366.5 503.6,368.2 503.6,368.5 503.6,370.3 505.5,369.5 505.5,371.2 505.5,371.3 505.5,373.4 507.4,372.5 507.4,374.5 507.4,374.6 509.2,375.5 509.2,376.0 509.2,377.8 511.1,376.9 511.1,378.9 511.1,379.2 512.2,380.2 513.4,379.2 513.4,381.2 513.4,381.4 514.5,382.5 515.6,381.5 515.6,383.5 515.6,383.7 516.8,384.7 517.9,383.8 517.9,385.8 517.9,386.0 519.8,386.8 519.8,386.7 521.6,387.7 521.6,387.1 523.5,388.1 523.5,387.7 525.4,388.7 525.4,387.1 527.3,388.2 527.3,386.7 529.2,387.5 529.2,386.2 531.1,387.1 531.1,384.3 532.9,385.1 532.9,382.1 534.8,383.2 534.8,380.4 536.7,381.4 536.7,378.9 536.7,378.7 538.6,377.7 538.6,377.3 538.6,375.1 540.5,375.9 540.5,373.7 540.5,373.3 542.0,372.5 542.0,372.2 542.0,370.3 542.0,370.2 542.0,368.3 542.0,368.2 542.0,366.2 542.0,366.3 542.0,364.4 542.0,364.0 542.0,362.2 542.0,362.2 543.5,361.1 543.5,361.0 543.5,359.2 543.5,359.0 543.5,356.9 543.5,357.0 543.5,355.0 543.5,355.0 543.5,352.9 543.5,352.8 543.5,350.7 543.5,350.7 544.6,349.8 545.8,350.6 545.8,348.9 545.8,348.7 545.8,346.7 545.8,346.5 545.8,344.4 545.8,344.4 545.8,342.4 546.9,343.2 548.0,342.4 548.0,342.3 548.0,340.1 548.0,340.1 548.0,337.9 548.0,337.7 548.0,335.8 548.0,335.6 549.2,334.9 550.3,335.6 550.3,333.6 550.3,333.6 550.3,331.5 550.3,331.3 550.3,329.4 550.3,329.3 550.3,327.3 551.4,328.2 552.6,327.3 552.6,326.9 552.6,325.1 552.6,324.9 552.6,322.7 553.7,323.8 554.8,322.8 554.8,322.5 554.8,320.4 554.8,320.4 554.8,318.4 556.0,319.2 557.1,318.4 557.1,317.9 557.1,315.9 557.1,315.6 557.1,313.8 558.2,314.8 559.4,313.8 559.4,313.4 559.4,311.6 560.5,312.3 561.6,311.4 561.6,311.1 561.6,309.1 562.8,310.1 563.9,309.1 563.9,309.1 563.9,307.0 565.0,307.8 566.1,307.0 566.1,307.4 567.2,306.5 568.4,307.3 568.4,306.4 569.5,307.3 570.6,306.3 570.6,306.8 571.7,305.9 572.9,306.7 572.9,307.1 574.0,308.0 575.1,306.8 575.1,309.2 576.3,308.2 577.4,308.9 577.4,309.2 578.5,310.3 579.7,309.2 579.7,311.5 579.7,311.7 579.7,313.8 580.8,313.0 581.9,313.9 581.9,314.3 581.9,316.3 581.9,316.8 583.1,317.8 584.2,316.8 584.2,319.0 584.2,319.3 584.2,321.6 586.1,320.6 586.1,322.5 586.1,322.9 586.1,324.8 586.1,324.9 587.9,326.1 587.9,326.2 587.9,328.2 587.9,328.4 587.9,330.5 589.8,329.5 589.8,331.5 589.8,331.9 589.8,333.7 589.8,334.2 591.7,335.0 591.7,335.2 591.7,336.9 591.7,337.2 591.7,339.1 591.7,339.2 593.6,340.2 593.6,340.3 593.6,342.2 593.6,342.5 593.6,344.5 593.6,344.7 595.5,345.6 595.5,345.7 595.5,347.7 595.5,347.6 595.5,349.8 595.5,349.9 596.6,350.6 597.8,349.8 597.8,352.0 597.8,352.2 597.8,354.3 597.8,354.5 597.8,356.5 597.8,356.8 598.9,357.5 600.0,356.5 600.0,358.8 600.0,358.8 600.0,361.1 600.0,361.1 600.0,363.3 600.0,363.5 601.9,364.3 601.9,364.6 601.9,366.5 601.9,366.6 601.9,368.5 601.9,368.8 603.7,369.8 603.7,369.7 603.7,371.7 603.7,371.9 603.7,373.9 603.7,374.0 605.6,374.9 605.6,375.1 605.6,376.9 605.6,377.3 605.6,379.1 605.6,379.3 607.5,380.2 607.5,380.6 607.5,382.6 607.5,383.1 609.4,383.8 609.4,384.3 609.4,386.5 609.4,386.8 611.3,387.7 611.3,388.0 611.3,390.1 611.3,390.7 612.4,391.5 613.6,390.5 613.6,393.4 614.7,392.4 615.8,393.4 615.8,394.2 617.0,395.1 618.1,394.3 618.1,397.0 619.2,396.2 620.3,397.0 620.3,395.6 621.5,396.6 622.6,395.5 622.6,395.9 623.7,395.0 624.8,395.8 624.8,394.7 625.9,395.5 627.1,394.4 627.1,394.3 627.1,392.4 628.2,393.5 629.3,392.5 629.3,392.4 629.3,390.2 630.5,391.2 631.6,390.3 631.6,390.3 631.6,388.2 633.5,389.3 633.5,387.0 633.5,387.0 633.5,384.9 633.5,384.6 635.4,383.8 635.4,383.4 635.4,381.5 635.4,381.4 635.4,379.4 637.3,380.2 637.3,378.1 637.3,377.9 637.3,375.9 637.3,375.5 639.2,374.7 639.2,374.5 639.2,372.5 639.2,372.6 639.2,370.5 639.2,370.3 641.0,369.4 641.0,369.5 641.0,367.5 641.0,367.3 641.0,365.2 641.0,365.2 642.9,364.2 642.9,364.0 642.9,362.0 642.9,362.1 642.9,360.0 642.9,359.9 644.8,359.0 644.8,358.7 644.8,357.0 644.8,356.7 644.8,354.8 644.8,355.0 644.8,353.0 646.6,353.8 646.6,351.9 646.6,351.7 646.6,350.0 646.6,349.7 646.6,347.8 646.6,347.6 648.5,347.0 648.5,346.8 648.5,345.0 648.5,344.8 648.5,342.8 648.5,342.9 648.5,340.9 650.4,341.7 650.4,339.8 650.4,339.6 650.4,337.7 650.4,337.5 650.4,335.5 652.3,336.6 652.3,334.4 652.3,334.5 652.3,332.4 652.3,332.3 652.3,330.2 654.2,331.3 654.2,329.2 654.2,329.1 654.2,327.2 654.2,326.9 654.2,325.0 656.1,325.8 656.1,323.8 656.1,323.7 656.1,321.5 657.9,322.6 657.9,320.4 657.9,320.2 657.9,318.2 659.8,319.2 659.8,317.2 659.8,316.9 659.8,314.9 660.9,315.8 662.1,315.0 662.1,314.6 662.1,312.6 663.2,313.4 664.4,312.6 664.4,312.5 664.4,310.8" fill="none" stroke="#00b050" stroke-width="2.2" stroke-linejoin="round" stroke-linecap="butt" clip-path="url(#cD)"/>
<polyline points="410.6,359.7 411.8,358.8 412.9,359.9 412.9,357.9 414.0,358.7 415.2,357.8 415.2,357.6 417.2,356.6 417.2,356.9 419.1,356.2 419.1,356.5 421.1,355.5 421.1,355.9 423.1,355.1 423.1,355.2 424.2,354.3 425.4,355.2 425.4,354.8 426.5,355.9 427.6,355.1 427.6,356.3 428.7,355.5 429.9,356.5 429.9,356.1 431.0,356.9 432.1,356.1 432.1,357.4 433.2,356.7 434.4,357.5 434.4,357.8 435.5,358.6 436.6,357.9 436.6,359.7 437.7,358.9 438.9,359.7 438.9,360.2 440.0,361.0 441.1,360.0 441.1,362.1 443.1,361.2 443.1,363.3 445.1,362.2 445.1,364.2 447.0,363.5 447.0,365.5 449.0,364.5 449.0,366.7 450.1,365.7 451.3,366.6 451.3,366.2 452.4,367.1 453.5,366.2 453.5,367.9 454.7,366.7 455.8,367.8 455.8,367.4 456.9,368.2 458.1,367.5 458.1,367.8 459.2,366.9 460.3,367.7 460.3,366.2 461.5,367.2 462.6,366.2 462.6,366.5 463.7,365.7 464.9,366.6 464.9,364.4 464.9,364.3 466.0,363.4 467.1,364.3 467.1,362.4 467.1,361.9 468.3,361.1 469.4,362.2 469.4,360.0 469.4,359.8 471.3,359.0 471.3,358.8 471.3,356.8 471.3,356.9 473.1,355.9 473.1,355.9 473.1,354.0 473.1,353.8 475.0,352.7 475.0,352.8 475.0,350.9 475.0,350.7 476.9,349.8 476.9,349.6 476.9,347.5 476.9,347.1 478.7,346.0 478.7,345.8 478.7,343.5 478.7,343.3 480.6,342.3 480.6,342.0 480.6,339.8 480.6,339.3 482.5,338.4 482.5,338.5 482.5,336.6 482.5,336.5 484.4,335.6 484.4,335.4 484.4,333.6 484.4,333.5 486.3,332.5 486.3,332.5 486.3,330.6 486.3,330.3 488.2,329.6 488.2,328.5 490.0,327.7 490.0,326.8 491.9,325.7 491.9,324.9 493.8,323.9 493.8,323.6 495.7,322.7 495.7,322.6 497.6,321.8 497.6,321.3 499.5,320.7 499.5,321.1 501.3,320.2 501.3,320.5 503.2,319.7 503.2,320.2 505.1,319.5 505.1,320.9 507.0,320.1 507.0,321.7 508.9,321.0 508.9,322.6 510.8,321.7 510.8,324.0 512.6,323.2 512.6,325.4 514.5,324.7 514.5,327.0 515.6,326.2 516.8,326.9 516.8,327.3 516.8,329.7 516.8,330.2 517.9,331.0 519.0,330.0 519.0,332.2 519.0,332.9 519.0,334.8 520.1,334.0 521.2,334.8 521.2,335.1 521.2,337.3 521.2,337.4 521.2,339.4 522.4,338.4 523.5,339.5 523.5,339.7 523.5,341.6 523.5,341.9 523.5,343.9 524.6,343.0 525.8,343.9 525.8,344.1 525.8,346.1 525.8,346.5 525.8,348.6 527.0,347.5 528.1,348.4 528.1,348.6 528.1,350.7 528.1,350.9 528.1,353.1 529.2,352.2 530.4,353.0 530.4,353.4 530.4,355.4 530.4,355.7 530.4,357.7 530.4,357.7 531.5,358.7 532.6,357.9 532.6,359.9 532.6,359.9 532.6,362.2 532.6,362.3 532.6,364.3 533.7,363.5 534.7,364.3 534.7,364.5 534.7,366.6 534.7,366.9 534.7,368.7 534.7,369.0 534.7,371.0 535.8,370.2 536.8,371.0 536.8,371.2 536.8,373.5 536.8,373.7 536.8,375.5 536.8,375.9 536.8,378.0 537.9,376.9 539.0,377.8 539.0,378.3 539.0,380.4 539.0,380.6 540.1,381.7 541.3,380.8 541.3,383.0 541.3,383.2 541.3,385.4 542.4,384.3 543.5,385.3 543.5,385.7 543.5,387.8 543.5,388.3 544.6,389.3 545.8,388.3 545.8,391.1 546.9,390.1 548.0,391.2 548.0,392.1 549.2,392.9 550.3,392.1 550.3,395.0 552.2,393.9 552.2,394.6 554.1,393.4 554.1,393.9 556.0,393.1 556.0,393.5 557.9,392.9 557.9,392.0 559.7,391.1 559.7,390.7 561.6,389.7 561.6,389.1 563.5,388.2 563.5,388.0 563.5,385.8 563.5,385.4 565.4,384.6 565.4,384.0 565.4,382.0 565.4,381.7 567.3,380.7 567.3,380.5 567.3,378.2 567.3,377.8 569.2,376.9 569.2,376.8 569.2,374.8 569.2,374.5 569.2,372.6 569.2,372.1 569.2,370.1 571.0,370.9 571.0,369.1 571.0,369.0 571.0,366.8 571.0,366.5 571.0,364.6 571.0,364.2 572.9,363.3 572.9,363.1 572.9,361.0 572.9,360.9 572.9,358.8 572.9,358.8 572.9,356.7 574.8,357.5 574.8,355.6 574.8,355.3 574.8,353.4 574.8,353.2 574.8,351.5 576.6,352.4 576.6,350.4 576.6,350.2 576.6,348.2 576.6,348.0 576.6,346.2 578.5,347.1 578.5,344.9 578.5,345.1 578.5,343.1 578.5,342.7 578.5,340.8 580.4,341.9 580.4,339.8 580.4,339.7 580.4,337.6 580.4,337.5 580.4,335.6 582.3,336.4 582.3,334.6 582.3,334.3 582.3,332.5 582.3,332.4 582.3,330.3 584.2,331.3 584.2,329.2 584.2,329.2 584.2,327.2 584.2,326.9 584.2,325.1 585.3,325.9 586.5,324.9 586.5,324.9 586.5,322.8 586.5,322.5 586.5,320.5 587.6,321.4 588.7,320.5 588.7,320.2 588.7,318.4 588.7,317.9 588.7,316.1 589.9,316.9 591.0,316.1 591.0,315.6 591.0,313.7 591.0,313.4 591.0,311.4 592.1,312.3 593.2,311.3 593.2,310.7 594.4,309.9 595.5,310.9 595.5,308.6 596.6,309.5 597.7,308.5 597.7,307.9 598.8,306.8 600.0,307.9 600.0,306.6 601.1,307.4 602.2,306.6 602.2,307.2 603.4,306.3 604.5,307.2 604.5,306.0 605.6,306.9 606.8,306.0 606.8,308.6 607.9,307.6 609.0,308.7 609.0,309.5 610.2,310.6 611.3,309.5 611.3,312.4 612.4,311.5 613.6,312.3 613.6,312.7 613.6,314.7 613.6,314.8 613.6,316.8 614.7,316.1 615.8,317.0 615.8,317.0 615.8,319.2 615.8,319.4 615.8,321.5 617.0,320.5 618.1,321.4 618.1,321.7 618.1,323.6 618.1,324.1 618.1,326.0 620.0,325.1 620.0,327.1 620.0,327.4 620.0,329.3 620.0,329.7 621.8,330.3 621.8,330.7 621.8,332.8 621.8,333.0 621.8,334.9 623.7,334.0 623.7,336.0 623.7,336.4 623.7,338.3 623.7,338.5 625.6,339.5 625.6,339.7 625.6,341.8 625.6,341.9 625.6,343.9 627.5,343.1 627.5,345.1 627.5,345.4 627.5,347.4 627.5,347.6 629.4,348.6 629.4,348.6 629.4,350.7 629.4,351.0 629.4,352.9 631.3,352.3 631.3,354.1 631.3,354.1 631.3,356.1 631.3,356.3 631.3,358.4 633.1,357.5 633.1,359.4 633.1,359.4 633.1,361.4 633.1,361.6 633.1,363.7 635.0,362.7 635.0,364.7 635.0,364.7 635.0,366.9 635.0,366.9 635.0,368.8 636.1,368.0 637.3,368.8 637.3,368.9 637.3,370.9 637.3,371.1 637.3,372.9 637.3,372.9 637.3,374.8 638.4,374.0 639.5,374.8 639.5,374.9 639.5,376.8 639.5,376.9 639.5,379.0 639.5,379.0 639.5,380.8 640.7,379.9 641.8,381.1 641.8,381.1 641.8,383.0 641.8,382.9 641.8,385.0 641.8,385.0 641.8,386.9 642.9,385.9 644.0,387.1 644.0,387.2 644.0,389.3 645.1,388.3 646.3,389.1 646.3,389.5 646.3,391.3 647.4,390.4 648.5,391.6 648.5,391.7 648.5,393.7 649.6,392.8 650.8,393.5 650.8,393.2 651.9,394.0 653.0,393.1 653.0,394.3 654.2,393.6 655.3,394.4 655.3,394.1 657.2,394.9 657.2,392.4 659.1,393.5 659.1,391.0 661.0,391.8 661.0,389.4 662.7,390.3 662.7,387.7 664.4,388.6 664.4,386.5" fill="none" stroke="#0070c0" stroke-width="2.2" stroke-linejoin="round" stroke-linecap="butt" clip-path="url(#cD)"/>
<polyline points="410.6,346.1 412.6,345.2 412.6,347.2 414.6,346.3 414.6,347.9 416.5,347.1 416.5,348.8 418.5,347.8 418.5,349.5 419.6,348.9 420.8,349.8 420.8,347.6 421.9,348.6 423.0,347.8 423.0,347.4 424.2,346.4 425.3,347.3 425.3,345.2 426.4,346.4 427.6,345.5 427.6,345.0 428.7,344.2 429.8,345.2 429.8,343.1 431.0,343.9 432.1,343.1 432.1,342.7 433.2,342.0 434.4,342.8 434.4,341.7 435.5,342.5 436.6,341.8 436.6,342.3 437.8,341.5 438.9,342.3 438.9,341.4 440.0,342.3 441.1,341.2 441.1,342.4 442.2,341.6 443.4,342.5 443.4,341.6 444.5,342.5 445.6,341.8 445.6,342.9 446.7,341.9 447.9,343.0 447.9,342.7 449.0,343.7 450.1,342.7 450.1,344.3 451.3,343.5 452.4,344.5 452.4,344.1 454.3,345.2 454.3,345.7 456.2,346.5 456.2,347.3 458.1,348.2 458.1,348.8 459.2,349.6 460.4,348.7 460.4,351.1 460.4,351.5 461.5,352.4 462.6,351.6 462.6,353.9 462.6,354.3 463.7,355.3 464.9,354.4 464.9,356.4 464.9,356.8 464.9,358.5 466.0,357.7 467.1,358.8 467.1,358.9 467.1,360.9 467.1,361.2 468.2,362.1 469.4,361.0 469.4,363.3 469.4,363.4 469.4,365.6 470.5,364.6 471.6,365.5 471.6,365.5 471.6,367.7 471.6,368.0 473.5,368.8 473.5,369.1 473.5,371.3 475.4,370.4 475.4,372.3 475.4,372.4 477.3,373.5 477.3,373.5 477.3,375.7 479.2,374.7 479.2,376.8 481.0,375.9 481.0,377.7 482.9,376.8 482.9,379.0 484.8,378.1 484.8,379.0 486.6,378.1 486.6,378.9 488.5,378.1 488.5,379.0 490.4,378.0 490.4,378.3 492.3,377.3 492.3,377.3 494.2,376.7 494.2,376.7 495.3,375.8 496.4,376.9 496.4,374.6 496.4,374.6 497.6,373.5 498.7,374.4 498.7,372.4 498.7,372.3 500.4,371.5 500.4,370.7 500.4,368.6 502.1,369.5 502.1,367.2 502.1,366.4 503.8,365.6 503.8,365.4 503.8,363.5 503.8,363.1 505.5,362.3 505.5,362.0 505.5,360.1 505.5,359.9 507.2,359.0 507.2,358.7 507.2,356.7 507.2,356.3 507.2,354.4 508.9,355.3 508.9,353.4 508.9,352.9 508.9,350.9 508.9,350.8 510.6,349.9 510.6,349.7 510.6,347.5 510.6,347.2 510.6,345.5 510.6,345.0 512.3,344.1 512.3,343.9 512.3,341.9 512.3,341.8 512.3,339.7 512.3,339.4 514.0,338.4 514.0,338.4 514.0,336.3 514.0,336.0 514.0,334.0 515.6,334.9 515.6,332.9 515.6,332.6 515.6,330.6 515.6,330.3 516.8,329.6 517.9,330.6 517.9,328.3 517.9,328.1 517.9,326.0 519.1,327.0 520.2,326.0 520.2,326.0 520.2,323.9 520.2,323.6 521.3,322.9 522.5,323.8 522.5,321.5 522.5,320.9 523.6,319.8 524.7,320.9 524.7,318.6 524.7,318.2 526.6,317.0 526.6,316.6 528.4,315.6 528.4,315.0 530.3,314.2 530.3,313.5 531.4,312.6 532.5,313.5 532.5,311.7 533.5,312.4 534.6,311.6 534.6,311.5 535.7,310.7 536.8,311.5 536.8,309.5 537.9,310.7 539.0,309.8 539.0,311.8 540.1,311.1 541.3,312.1 541.3,312.3 542.4,313.2 543.5,312.5 543.5,314.7 545.4,313.6 545.4,315.8 545.4,315.8 545.4,317.8 547.3,316.7 547.3,318.6 547.3,318.6 547.3,320.6 549.2,319.7 549.2,321.5 549.2,321.8 549.2,323.8 551.1,322.8 551.1,324.9 551.1,325.0 551.1,327.2 551.1,327.3 552.9,328.1 552.9,328.5 552.9,330.6 552.9,330.7 552.9,332.9 554.8,331.7 554.8,333.7 554.8,334.1 554.8,336.0 554.8,336.5 555.9,337.1 557.1,336.2 557.1,338.5 557.1,338.5 557.1,340.6 557.1,340.8 557.1,343.0 558.2,342.0 559.4,342.9 559.4,343.2 559.4,345.0 559.4,345.5 559.4,347.5 559.4,347.6 560.5,348.7 561.6,347.7 561.6,349.6 561.6,349.8 561.6,352.0 561.6,352.3 561.6,354.2 561.6,354.5 562.8,355.2 563.9,354.3 563.9,356.3 563.9,356.7 563.9,358.8 563.9,358.9 563.9,360.8 563.9,361.2 565.8,362.0 565.8,362.1 565.8,364.0 565.8,364.2 565.8,366.2 565.8,366.3 567.6,367.4 567.6,367.5 567.6,369.3 567.6,369.6 567.6,371.4 567.6,371.6 569.5,372.4 569.5,372.9 569.5,374.8 569.5,374.9 569.5,376.8 569.5,377.0 571.4,377.8 571.4,378.2 571.4,380.2 571.4,380.2 571.4,382.5 573.3,381.6 573.3,383.4 573.3,383.7 573.3,385.9 573.3,386.0 575.2,387.0 575.2,387.1 575.2,389.1 575.2,389.4 575.2,391.4 577.1,390.6 577.1,393.2 578.9,392.5 578.9,395.3 580.8,394.3 580.8,397.1 581.9,396.1 583.1,397.2 583.1,396.2 584.2,397.0 585.3,396.2 585.3,397.0 586.5,396.0 587.6,397.2 587.6,396.2 588.7,397.0 589.9,396.1 589.9,395.9 591.0,395.0 592.1,395.8 592.1,394.0 593.3,394.7 594.4,394.0 594.4,393.7 596.3,392.9 596.3,392.3 596.3,390.2 596.3,389.8 598.1,388.9 598.1,388.6 598.1,386.4 598.1,386.0 600.0,385.2 600.0,384.9 600.0,382.8 600.0,382.5 601.9,381.5 601.9,381.4 601.9,379.2 601.9,379.3 601.9,377.3 601.9,377.0 603.7,376.2 603.7,376.2 603.7,374.1 603.7,374.0 603.7,372.1 603.7,371.9 605.6,371.1 605.6,370.7 605.6,368.7 605.6,368.7 605.6,366.6 605.6,366.7 606.8,365.6 607.9,366.6 607.9,364.6 607.9,364.3 607.9,362.4 607.9,362.1 607.9,360.0 607.9,359.7 609.1,359.0 610.2,359.9 610.2,357.7 610.2,357.6 610.2,355.5 610.2,355.4 610.2,353.3 610.2,353.0 611.3,352.2 612.5,353.0 612.5,351.2 612.5,350.8 612.5,348.8 612.5,348.5 612.5,346.6 612.5,346.2 613.6,345.5 614.7,346.1 614.7,344.3 614.7,344.1 614.7,342.0 614.7,341.7 614.7,339.6 614.7,339.4 616.6,338.7 616.6,338.4 616.6,336.4 616.6,336.3 616.6,334.4 616.6,334.2 618.4,333.2 618.4,333.1 618.4,331.2 618.4,331.0 618.4,329.2 618.4,328.9 620.3,328.0 620.3,328.0 620.3,325.8 620.3,325.7 620.3,323.8 620.3,323.5 621.4,322.9 622.6,323.7 622.6,321.4 622.6,321.0 622.6,318.9 623.7,320.0 624.8,319.0 624.8,318.7 624.8,316.4 624.8,316.1 626.0,315.2 627.1,316.2 627.1,313.9 627.1,313.7 627.1,311.3 628.2,312.5 629.4,311.4 629.4,310.8 630.5,310.0 631.6,310.8 631.6,308.4 632.8,309.4 633.9,308.6 633.9,307.9 635.0,306.9 636.1,307.8 636.1,307.3 637.2,308.1 638.4,307.2 638.4,308.4 639.5,307.5 640.6,308.7 640.6,308.0 642.5,308.9 642.5,309.1 642.5,311.4 644.4,310.4 644.4,312.4 644.4,312.5 646.3,313.5 646.3,313.7 646.3,315.7 647.4,314.7 648.5,315.9 648.5,316.2 648.5,318.5 648.5,318.8 649.7,319.6 650.8,318.9 650.8,320.9 650.8,321.3 650.8,323.8 651.9,322.9 653.0,323.7 653.0,323.9 653.0,325.8 653.0,326.2 653.0,328.1 654.2,327.2 655.3,328.1 655.3,328.5 655.3,330.5 655.3,330.9 655.3,332.8 656.4,331.8 657.5,332.9 657.5,333.1 657.5,334.9 657.5,335.2 657.5,337.2 657.5,337.4 658.7,338.3 659.8,337.4 659.8,339.6 659.8,339.6 659.8,341.9 659.8,341.9 659.8,343.9 661.5,342.9 661.5,345.2 661.5,345.3 661.5,347.3 661.5,347.7 663.2,348.4 663.2,348.6 663.2,350.7 663.2,350.9 663.2,353.1 665.0,352.0 665.0,354.2 665.0,354.2 665.0,356.2 665.0,357.0" fill="none" stroke="#ff0000" stroke-width="2.2" stroke-linejoin="round" stroke-linecap="butt" clip-path="url(#cD)"/>
<line x1="410" y1="308" x2="410" y2="362" stroke="#0070c0" stroke-width="1.5" clip-path="url(#cD)"/>
<line x1="413.2" y1="353" x2="413.2" y2="367.4" stroke="#0070c0" stroke-width="1.5" clip-path="url(#cD)"/>
<line x1="435.6" y1="357" x2="435.6" y2="368.5" stroke="#0070c0" stroke-width="1.5" clip-path="url(#cD)"/>
<line x1="448.5" y1="334.7" x2="448.5" y2="345" stroke="#00b050" stroke-width="1.5" clip-path="url(#cD)"/>
<line x1="482.5" y1="330" x2="482.5" y2="342" stroke="#0070c0" stroke-width="1.5" clip-path="url(#cD)"/>
<line x1="470.3" y1="364" x2="470.3" y2="378" stroke="#ff0000" stroke-width="1.5" clip-path="url(#cD)"/>
<line x1="516.3" y1="326.5" x2="516.3" y2="338.8" stroke="#0070c0" stroke-width="1.5" clip-path="url(#cD)"/>
<line x1="547" y1="357" x2="547" y2="383" stroke="#0070c0" stroke-width="1.5" clip-path="url(#cD)"/>
<line x1="551.5" y1="325.5" x2="551.5" y2="334.5" stroke="#00b050" stroke-width="1.5" clip-path="url(#cD)"/>
<line x1="536.8" y1="357" x2="536.8" y2="383" stroke="#00b050" stroke-width="1.5" clip-path="url(#cD)"/>
<line x1="503.6" y1="369.4" x2="503.6" y2="381.6" stroke="#00b050" stroke-width="1.5" clip-path="url(#cD)"/>
<line x1="501.5" y1="355" x2="501.5" y2="368" stroke="#ff0000" stroke-width="1.5" clip-path="url(#cD)"/>
<line x1="570.6" y1="359" x2="570.6" y2="390" stroke="#0070c0" stroke-width="1.5" clip-path="url(#cD)"/>
<line x1="569" y1="360" x2="569" y2="380" stroke="#ff0000" stroke-width="1.5" clip-path="url(#cD)"/>
<line x1="604.5" y1="366" x2="604.5" y2="385" stroke="#00b050" stroke-width="1.5" clip-path="url(#cD)"/>
<line x1="606.8" y1="359" x2="606.8" y2="377" stroke="#ff0000" stroke-width="1.5" clip-path="url(#cD)"/>
<line x1="639.5" y1="359" x2="639.5" y2="391" stroke="#0070c0" stroke-width="1.5" clip-path="url(#cD)"/>
<line x1="653" y1="317.6" x2="653" y2="334.5" stroke="#00b050" stroke-width="1.5" clip-path="url(#cD)"/>
<line x1="663" y1="323" x2="663" y2="355" stroke="#ff0000" stroke-width="1.5" clip-path="url(#cD)"/>
<polyline points="410.0,351.6 411.2,352.0 412.2,351.9 413.6,351.2 415.1,351.2 416.5,351.2 417.6,351.7 419.4,351.3 420.7,352.0 422.6,351.9 424.0,352.5 425.1,352.3 426.4,351.3 427.5,351.5 429.3,351.4 430.9,352.0 432.2,351.9 433.3,351.2 434.5,352.1 435.9,351.5 437.5,351.7 438.8,352.2 440.5,351.4 442.1,351.8 444.0,352.1 445.3,352.5 446.4,351.7 448.1,351.3 449.6,351.2 451.3,352.2 452.9,352.3 454.2,352.1 455.8,351.9 457.2,352.3 459.2,351.8 460.8,351.2 462.5,352.0 464.5,352.3 465.8,351.6 467.5,351.1 468.9,351.3 470.1,351.2 471.8,351.3 473.1,351.6 474.9,351.2 476.4,351.9 478.3,352.2 480.1,351.5 481.6,351.6 483.4,352.4 484.6,351.3 485.8,351.4 487.3,351.9 488.6,351.1 490.0,351.6 491.6,352.4 493.3,351.8 494.9,352.0 495.9,352.4 497.7,352.3 499.5,351.6 500.9,351.2 502.5,351.2 503.6,351.4 504.8,351.6 505.8,351.1 507.0,351.2 508.3,351.1 510.2,352.0 511.4,351.5 512.7,351.6 513.8,352.3 515.8,351.8 517.3,351.2 518.4,351.6 519.7,352.3 520.8,351.1 522.8,351.8 523.9,351.9 525.0,351.8 526.9,352.3 528.6,351.5 530.0,351.3 531.8,351.8 533.5,351.6 534.8,352.2 536.8,352.3 538.6,352.2 540.3,351.4 541.8,351.6 542.8,351.1 544.1,351.5 545.8,352.4 547.3,352.4 549.3,352.4 550.6,351.4 551.8,351.4 553.1,352.0 555.0,352.3 556.4,352.0 558.2,351.2 559.9,352.4 561.7,352.2 563.2,351.3 564.9,351.6 566.7,352.5 568.1,351.7 570.1,352.1 571.3,351.3 572.4,352.4 574.2,351.3 576.0,352.5 577.7,351.6 579.2,351.3 580.3,352.5 581.9,351.8 583.8,351.7 585.7,352.3 586.9,351.5 588.2,351.4 589.8,351.5 591.2,351.3 593.1,351.6 594.6,351.9 596.5,351.7 598.4,351.8 599.9,351.8 601.0,351.7 602.1,351.1 603.9,351.3 605.4,352.1 607.0,351.6 608.5,351.9 610.3,351.2 611.8,351.4 613.1,352.2 614.6,351.9 616.4,352.4 617.8,352.0 619.3,351.8 621.0,351.7 622.6,351.8 624.5,352.1 626.4,352.4 627.6,351.9 629.6,352.3 630.7,351.3 632.2,351.2 633.4,351.2 635.1,352.2 637.0,351.3 638.7,352.0 639.8,352.3 641.8,351.4 643.7,351.7 645.2,352.5 647.1,351.3 648.5,351.8 649.8,351.4 651.2,352.1 652.2,351.9 653.6,351.1 654.9,352.0 656.5,351.2 658.4,352.2 660.4,351.2 661.7,351.2 663.5,351.5 663.5,351.8" fill="none" stroke="#000000" stroke-width="3.4" stroke-linejoin="miter" stroke-linecap="butt" clip-path="url(#cD)"/>
<line x1="411.0" y1="351.8" x2="411.0" y2="354.8" stroke="#000" stroke-width="1.1"/>
<line x1="415.9" y1="351.8" x2="415.9" y2="354.3" stroke="#000" stroke-width="1.1"/>
<line x1="420.2" y1="351.8" x2="420.2" y2="354.6" stroke="#000" stroke-width="1.1"/>
<line x1="423.1" y1="351.8" x2="423.1" y2="348.8" stroke="#000" stroke-width="1.1"/>
<line x1="426.2" y1="351.8" x2="426.2" y2="349.5" stroke="#000" stroke-width="1.1"/>
<line x1="428.8" y1="351.8" x2="428.8" y2="348.8" stroke="#000" stroke-width="1.1"/>
<line x1="431.6" y1="351.8" x2="431.6" y2="349.7" stroke="#000" stroke-width="1.1"/>
<line x1="437.1" y1="351.8" x2="437.1" y2="353.8" stroke="#000" stroke-width="1.1"/>
<line x1="443.1" y1="351.8" x2="443.1" y2="354.9" stroke="#000" stroke-width="1.1"/>
<line x1="446.5" y1="351.8" x2="446.5" y2="349.7" stroke="#000" stroke-width="1.1"/>
<line x1="451.5" y1="351.8" x2="451.5" y2="348.6" stroke="#000" stroke-width="1.1"/>
<line x1="454.9" y1="351.8" x2="454.9" y2="349.6" stroke="#000" stroke-width="1.1"/>
<line x1="458.5" y1="351.8" x2="458.5" y2="354.4" stroke="#000" stroke-width="1.1"/>
<line x1="461.7" y1="351.8" x2="461.7" y2="354.4" stroke="#000" stroke-width="1.1"/>
<line x1="464.8" y1="351.8" x2="464.8" y2="354.8" stroke="#000" stroke-width="1.1"/>
<line x1="470.8" y1="351.8" x2="470.8" y2="349.8" stroke="#000" stroke-width="1.1"/>
<line x1="475.9" y1="351.8" x2="475.9" y2="349.2" stroke="#000" stroke-width="1.1"/>
<line x1="479.2" y1="351.8" x2="479.2" y2="353.9" stroke="#000" stroke-width="1.1"/>
<line x1="484.6" y1="351.8" x2="484.6" y2="354.6" stroke="#000" stroke-width="1.1"/>
<line x1="489.0" y1="351.8" x2="489.0" y2="355.0" stroke="#000" stroke-width="1.1"/>
<line x1="492.6" y1="351.8" x2="492.6" y2="348.6" stroke="#000" stroke-width="1.1"/>
<line x1="496.3" y1="351.8" x2="496.3" y2="349.3" stroke="#000" stroke-width="1.1"/>
<line x1="500.0" y1="351.8" x2="500.0" y2="348.8" stroke="#000" stroke-width="1.1"/>
<line x1="502.5" y1="351.8" x2="502.5" y2="354.3" stroke="#000" stroke-width="1.1"/>
<line x1="505.2" y1="351.8" x2="505.2" y2="354.8" stroke="#000" stroke-width="1.1"/>
<line x1="510.1" y1="351.8" x2="510.1" y2="354.5" stroke="#000" stroke-width="1.1"/>
<line x1="515.0" y1="351.8" x2="515.0" y2="349.2" stroke="#000" stroke-width="1.1"/>
<line x1="518.1" y1="351.8" x2="518.1" y2="353.8" stroke="#000" stroke-width="1.1"/>
<line x1="521.8" y1="351.8" x2="521.8" y2="355.0" stroke="#000" stroke-width="1.1"/>
<line x1="526.3" y1="351.8" x2="526.3" y2="349.8" stroke="#000" stroke-width="1.1"/>
<line x1="531.8" y1="351.8" x2="531.8" y2="349.4" stroke="#000" stroke-width="1.1"/>
<line x1="534.3" y1="351.8" x2="534.3" y2="353.9" stroke="#000" stroke-width="1.1"/>
<line x1="537.8" y1="351.8" x2="537.8" y2="349.5" stroke="#000" stroke-width="1.1"/>
<line x1="543.0" y1="351.8" x2="543.0" y2="349.5" stroke="#000" stroke-width="1.1"/>
<line x1="545.9" y1="351.8" x2="545.9" y2="354.5" stroke="#000" stroke-width="1.1"/>
<line x1="549.7" y1="351.8" x2="549.7" y2="354.2" stroke="#000" stroke-width="1.1"/>
<line x1="553.0" y1="351.8" x2="553.0" y2="349.0" stroke="#000" stroke-width="1.1"/>
<line x1="558.1" y1="351.8" x2="558.1" y2="354.7" stroke="#000" stroke-width="1.1"/>
<line x1="563.1" y1="351.8" x2="563.1" y2="354.0" stroke="#000" stroke-width="1.1"/>
<line x1="568.1" y1="351.8" x2="568.1" y2="349.7" stroke="#000" stroke-width="1.1"/>
<line x1="573.5" y1="351.8" x2="573.5" y2="354.7" stroke="#000" stroke-width="1.1"/>
<line x1="578.9" y1="351.8" x2="578.9" y2="348.7" stroke="#000" stroke-width="1.1"/>
<line x1="584.0" y1="351.8" x2="584.0" y2="348.8" stroke="#000" stroke-width="1.1"/>
<line x1="588.6" y1="351.8" x2="588.6" y2="349.7" stroke="#000" stroke-width="1.1"/>
<line x1="591.2" y1="351.8" x2="591.2" y2="355.0" stroke="#000" stroke-width="1.1"/>
<line x1="595.0" y1="351.8" x2="595.0" y2="354.5" stroke="#000" stroke-width="1.1"/>
<line x1="599.7" y1="351.8" x2="599.7" y2="349.2" stroke="#000" stroke-width="1.1"/>
<line x1="602.2" y1="351.8" x2="602.2" y2="348.9" stroke="#000" stroke-width="1.1"/>
<line x1="606.5" y1="351.8" x2="606.5" y2="349.0" stroke="#000" stroke-width="1.1"/>
<line x1="609.2" y1="351.8" x2="609.2" y2="354.1" stroke="#000" stroke-width="1.1"/>
<line x1="612.0" y1="351.8" x2="612.0" y2="354.1" stroke="#000" stroke-width="1.1"/>
<line x1="617.1" y1="351.8" x2="617.1" y2="348.9" stroke="#000" stroke-width="1.1"/>
<line x1="623.0" y1="351.8" x2="623.0" y2="354.8" stroke="#000" stroke-width="1.1"/>
<line x1="625.8" y1="351.8" x2="625.8" y2="354.7" stroke="#000" stroke-width="1.1"/>
<line x1="630.5" y1="351.8" x2="630.5" y2="349.7" stroke="#000" stroke-width="1.1"/>
<line x1="633.5" y1="351.8" x2="633.5" y2="354.6" stroke="#000" stroke-width="1.1"/>
<line x1="638.4" y1="351.8" x2="638.4" y2="349.8" stroke="#000" stroke-width="1.1"/>
<line x1="641.1" y1="351.8" x2="641.1" y2="355.0" stroke="#000" stroke-width="1.1"/>
<line x1="644.0" y1="351.8" x2="644.0" y2="349.0" stroke="#000" stroke-width="1.1"/>
<line x1="647.5" y1="351.8" x2="647.5" y2="354.4" stroke="#000" stroke-width="1.1"/>
<line x1="651.6" y1="351.8" x2="651.6" y2="348.6" stroke="#000" stroke-width="1.1"/>
<line x1="656.0" y1="351.8" x2="656.0" y2="355.0" stroke="#000" stroke-width="1.1"/>
<line x1="661.8" y1="351.8" x2="661.8" y2="349.5" stroke="#000" stroke-width="1.1"/>
<line x1="411" y1="351.8" x2="411" y2="341.8" stroke="#000" stroke-width="1.8"/>
<line x1="411.8" y1="351.8" x2="411.8" y2="373.8" stroke="#000" stroke-width="1.8"/>
<line x1="413.5" y1="351.8" x2="413.5" y2="341.8" stroke="#000" stroke-width="1.8"/>
<line x1="414.5" y1="351.8" x2="414.5" y2="371.8" stroke="#000" stroke-width="1.8"/>
<line x1="482.6" y1="351.8" x2="482.6" y2="360.8" stroke="#000" stroke-width="1.8"/>
<line x1="483.4" y1="351.8" x2="483.4" y2="359.8" stroke="#000" stroke-width="1.8"/>
<line x1="419" y1="351.8" x2="419" y2="359.8" stroke="#000" stroke-width="1.8"/>
<line x1="425" y1="351.8" x2="425" y2="346.8" stroke="#000" stroke-width="1.8"/>
<line x1="433" y1="351.8" x2="433" y2="344.8" stroke="#000" stroke-width="1.8"/>
<line x1="439" y1="351.8" x2="439" y2="359.8" stroke="#000" stroke-width="1.8"/>
<line x1="446" y1="351.8" x2="446" y2="343.8" stroke="#000" stroke-width="1.8"/>
<line x1="451" y1="351.8" x2="451" y2="346.8" stroke="#000" stroke-width="1.8"/>
<line x1="456" y1="351.8" x2="456" y2="358.8" stroke="#000" stroke-width="1.8"/>
<line x1="470" y1="351.8" x2="470" y2="360.8" stroke="#000" stroke-width="1.8"/>
<line x1="476" y1="351.8" x2="476" y2="345.8" stroke="#000" stroke-width="1.8"/>
<line x1="480" y1="351.8" x2="480" y2="361.8" stroke="#000" stroke-width="1.8"/>
<line x1="487" y1="351.8" x2="487" y2="346.8" stroke="#000" stroke-width="1.8"/>
<line x1="493" y1="351.8" x2="493" y2="344.8" stroke="#000" stroke-width="1.8"/>
<line x1="498" y1="351.8" x2="498" y2="360.8" stroke="#000" stroke-width="1.8"/>
<line x1="503" y1="351.8" x2="503" y2="346.8" stroke="#000" stroke-width="1.8"/>
<line x1="511" y1="351.8" x2="511" y2="363.8" stroke="#000" stroke-width="1.8"/>
<line x1="519" y1="351.8" x2="519" y2="345.8" stroke="#000" stroke-width="1.8"/>
<line x1="525" y1="351.8" x2="525" y2="346.8" stroke="#000" stroke-width="1.8"/>
<line x1="533" y1="351.8" x2="533" y2="360.8" stroke="#000" stroke-width="1.8"/>
<line x1="539" y1="351.8" x2="539" y2="344.8" stroke="#000" stroke-width="1.8"/>
<line x1="547" y1="351.8" x2="547" y2="359.8" stroke="#000" stroke-width="1.8"/>
<line x1="552" y1="351.8" x2="552" y2="345.8" stroke="#000" stroke-width="1.8"/>
<line x1="560" y1="351.8" x2="560" y2="343.8" stroke="#000" stroke-width="1.8"/>
<line x1="566" y1="351.8" x2="566" y2="358.8" stroke="#000" stroke-width="1.8"/>
<line x1="575" y1="351.8" x2="575" y2="345.8" stroke="#000" stroke-width="1.8"/>
<line x1="582" y1="351.8" x2="582" y2="360.8" stroke="#000" stroke-width="1.8"/>
<line x1="590" y1="351.8" x2="590" y2="346.8" stroke="#000" stroke-width="1.8"/>
<line x1="597" y1="351.8" x2="597" y2="359.8" stroke="#000" stroke-width="1.8"/>
<line x1="603" y1="351.8" x2="603" y2="345.8" stroke="#000" stroke-width="1.8"/>
<line x1="608" y1="351.8" x2="608" y2="360.8" stroke="#000" stroke-width="1.8"/>
<line x1="614" y1="351.8" x2="614" y2="344.8" stroke="#000" stroke-width="1.8"/>
<line x1="620" y1="351.8" x2="620" y2="346.8" stroke="#000" stroke-width="1.8"/>
<line x1="629" y1="351.8" x2="629" y2="359.8" stroke="#000" stroke-width="1.8"/>
<line x1="634" y1="351.8" x2="634" y2="345.8" stroke="#000" stroke-width="1.8"/>
<line x1="641" y1="351.8" x2="641" y2="357.8" stroke="#000" stroke-width="1.8"/>
<line x1="647" y1="351.8" x2="647" y2="346.8" stroke="#000" stroke-width="1.8"/>
<line x1="653" y1="351.8" x2="653" y2="358.8" stroke="#000" stroke-width="1.8"/>
<line x1="658" y1="351.8" x2="658" y2="346.8" stroke="#000" stroke-width="1.8"/>
<clipPath id="cE"><rect x="60.5" y="514.5" width="264.0" height="165.0"/></clipPath>
<polyline points="63.5,514.0 63.5,560.0 65.0,556.0 65.5,530.0 66.0,514.0" fill="none" stroke="#999999" stroke-width="1.8" stroke-linejoin="round" stroke-linecap="butt" clip-path="url(#cE)"/>
<polyline points="62.0,595.0 62.5,594.1 62.5,594.1 62.5,592.1 62.5,591.7 64.2,590.9 64.2,590.7 64.2,588.5 65.9,589.4 65.9,587.6 65.9,587.4 67.1,586.4 68.2,587.3 68.2,585.5 68.2,585.2 68.2,583.3 68.2,583.1 68.2,581.2 68.2,581.3 68.2,579.4 68.2,579.0 68.2,577.2 69.3,578.3 69.3,576.3 69.3,576.0 69.3,574.2 69.3,573.9 69.3,572.2 69.3,572.0 69.3,570.1 69.3,569.9 69.3,568.2 69.3,567.9 69.3,566.1 70.4,566.9 71.5,566.2 71.5,566.1 71.5,564.0 71.5,564.0 71.5,562.1 71.5,562.1 71.5,559.9 71.5,559.8 71.5,558.1 73.2,559.0 73.2,556.6 73.2,556.3 74.9,555.3 74.9,554.8 74.9,552.4 76.1,553.3 77.2,552.4 77.2,552.3 77.2,550.1 78.3,551.1 79.5,550.2 79.5,549.8 79.5,548.0 80.6,548.9 81.8,548.0 81.8,549.3 82.9,548.5 84.0,549.5 84.0,549.0 85.7,549.9 85.7,550.5 85.7,552.8 87.4,551.8 87.4,554.2 87.4,554.8 89.1,555.6 89.1,556.0 89.1,557.7 89.1,558.0 90.7,559.1 90.7,559.2 90.7,561.2 90.7,561.5 92.4,562.4 92.4,562.4 92.4,564.7 92.4,564.8 94.1,565.9 94.1,566.1 94.1,568.0 94.1,568.1 95.8,569.2 95.8,569.7 95.8,571.9 97.5,571.1 97.5,573.6 97.5,574.1 99.4,574.9 99.4,573.9 101.4,575.0 101.4,573.9 103.3,574.9 103.3,573.9 105.3,574.9 105.3,574.0 107.2,574.7 107.2,573.8 109.2,574.9 109.2,574.0 111.1,574.9 111.1,574.0 111.7,574.8 111.7,575.0 111.7,576.9 111.7,576.9 111.7,578.9 111.7,579.0 111.7,580.7 111.7,581.0 111.7,582.8 111.7,582.9 111.7,585.0 111.7,584.9 111.7,586.9 111.7,586.9 111.7,588.8 111.7,588.8 111.7,590.9 111.7,591.1 111.7,592.7 113.0,592.1 114.2,592.9 114.2,590.9 115.5,591.6 116.7,590.8 116.7,590.6 117.8,589.9 119.0,590.5 119.0,589.0 120.1,589.8 121.2,589.1 121.2,589.2 122.4,588.2 123.5,589.1 123.5,587.5 125.5,588.2 125.5,586.4 127.5,587.2 127.5,585.3 129.4,586.0 129.4,584.0 131.4,585.0 131.4,583.0 132.5,583.9 133.7,582.9 133.7,583.5 134.8,582.9 135.9,583.5 135.9,582.4 137.1,583.3 138.2,582.4 138.2,583.2 139.3,582.2 139.3,584.1 139.3,584.2 139.3,586.3 139.3,586.4 139.3,588.2 139.3,588.4 139.3,590.3 139.3,590.5 139.3,592.4 139.3,592.5 139.3,594.4 139.3,594.7 139.3,596.7 139.3,596.6 139.3,598.6 139.3,598.6 140.4,599.6 141.6,598.6 141.6,598.6 142.7,597.6 143.8,598.4 143.8,596.6 144.9,597.5 146.1,596.6 146.1,596.7 147.2,595.6 148.3,596.6 148.3,595.1 149.5,596.0 150.6,594.8 150.6,595.2 151.7,594.2 152.9,595.1 152.9,594.3 154.0,595.1 155.1,594.2 155.1,595.1 156.3,594.3 157.4,595.0 157.4,594.2 158.5,595.1 159.6,594.3 159.6,596.6 160.8,595.6 161.9,596.8 161.9,597.4 163.0,598.1 164.1,597.3 164.1,599.8 165.2,598.7 166.4,599.6 166.4,600.7 167.5,601.6 168.6,600.5 168.6,603.5 169.8,602.5 170.9,603.5 170.9,604.3 172.0,605.2 173.2,604.2 173.2,606.7 174.3,605.8 175.4,606.7 175.4,607.5 176.6,608.4 177.7,607.5 177.7,609.9 179.4,608.9 179.4,611.6 181.1,610.6 181.1,613.1 182.2,612.3 182.2,612.2 182.2,610.2 182.2,610.3 182.2,608.1 182.2,608.0 182.2,606.2 182.2,606.0 182.2,604.3 182.2,603.9 182.2,602.0 182.2,602.1 182.2,600.0 182.2,600.0 182.2,598.1 182.2,598.1 182.2,596.1 182.2,596.0 182.2,594.1 182.2,593.8 184.1,593.1 184.1,595.6 185.9,594.6 185.9,597.1 187.8,596.1 187.8,598.5 189.5,597.6 189.5,599.8 189.5,600.0 189.5,602.0 189.5,602.3 190.6,602.9 191.8,602.0 191.8,604.0 191.8,604.5 192.9,605.4 194.0,604.4 194.0,606.3 194.0,606.7 195.7,607.5 195.7,607.7 197.4,608.6 197.4,608.8 198.6,609.8 199.7,608.8 199.7,609.0 199.7,607.0 199.7,606.7 199.7,604.9 199.7,604.6 199.7,602.8 199.7,602.6 199.7,600.9 199.7,600.8 199.7,598.8 199.7,598.7 199.7,596.7 199.7,596.5 199.7,594.8 199.7,594.7 199.7,592.5 199.7,592.7 199.7,590.7 199.7,590.4 199.7,588.5 200.8,589.6 201.9,588.5 201.9,590.1 203.1,589.1 204.2,590.0 204.2,589.7 206.1,590.6 206.1,591.7 207.9,592.4 207.9,593.5 209.8,594.5 209.8,595.4 211.0,596.3 212.1,595.3 212.1,597.5 212.1,597.6 212.1,599.6 213.2,598.8 214.4,599.6 214.4,599.8 214.4,602.0 214.4,602.2 215.5,603.0 216.7,602.1 216.7,604.2 216.7,604.4 216.7,606.3 216.7,606.8 217.8,607.5 218.9,606.8 218.9,608.7 218.9,609.0 218.9,610.8 218.9,611.1 220.0,612.0 221.2,611.1 221.2,613.2 221.2,613.3 221.2,615.3 221.2,615.6 222.3,616.6 223.4,615.8 223.4,617.8 223.4,618.0 223.4,620.0 223.4,620.0 224.5,621.1 225.7,620.2 225.7,622.6 226.8,621.8 227.9,622.9 227.9,623.6 229.0,624.6 230.2,623.7 230.2,624.0 231.3,623.1 232.4,623.8 232.4,622.3 234.1,623.4 234.1,621.2 234.1,621.2 234.1,619.0 235.8,620.0 235.8,618.0 235.8,617.7 235.8,615.8 237.5,616.6 237.5,614.5 237.5,614.2 237.5,612.4 239.2,613.3 239.2,611.1 239.2,611.0 239.2,608.9 240.9,610.0 240.9,607.8 240.9,607.5 242.6,606.7 242.6,606.3 242.6,604.5 244.0,605.3 244.0,605.4 244.0,607.3 244.0,607.5 244.0,609.3 244.0,609.5 244.0,611.2 244.0,611.5 244.0,613.5 244.0,613.5 244.0,615.4 244.0,615.5 244.0,617.4 244.0,617.7 245.0,618.5 246.0,617.5 246.0,617.5 246.0,615.6 246.0,615.5 246.0,613.5 246.0,613.4 246.0,611.6 246.0,611.4 246.0,609.6 247.1,610.4 248.2,609.5 248.2,609.5 248.2,607.3 248.2,607.1 248.2,605.2 248.2,604.9 248.2,603.2 248.2,602.9 248.2,600.8 248.2,600.6 249.3,599.8 250.4,600.9 250.4,598.8 250.4,598.6 250.4,596.4 250.4,596.2 251.6,595.3 252.7,596.3 252.7,594.2 252.7,594.1 252.7,591.9 252.7,591.9 253.8,590.8 255.0,591.7 255.0,589.8 255.0,589.4 255.0,587.5 255.0,587.3 256.1,586.5 257.3,587.3 257.3,585.2 257.3,585.0 257.3,583.0 257.3,582.6 258.4,581.8 259.6,582.6 259.6,580.6 259.6,580.6 259.6,578.4 259.6,578.2 259.6,576.1 260.7,577.2 261.8,576.3 261.8,576.1 261.8,573.8 261.8,573.8 261.8,571.6 261.8,571.4 262.9,570.4 264.1,571.6 264.1,569.5 264.1,569.3 264.1,567.2 265.2,567.9 266.3,567.2 266.3,566.8 266.3,564.8 266.3,564.8 267.6,563.9 269.0,564.7 269.0,562.6 269.0,562.3 269.0,560.4 270.8,561.2 270.8,561.3 270.8,563.2 270.8,563.6 270.8,565.4 270.8,565.8 270.8,567.6 270.8,567.7 270.8,569.8 270.8,569.9 270.8,571.7 270.8,571.9 270.8,573.8 270.8,574.0 270.8,575.9 270.8,576.1 271.9,577.1 273.1,576.1 273.1,575.8 273.1,573.3 274.2,574.2 275.3,573.2 275.3,572.9 275.3,570.5 276.4,571.4 277.6,570.6 277.6,569.9 277.6,567.6 278.7,568.5 279.8,567.6 279.8,567.2 279.8,564.7 281.0,565.8 282.1,564.7 282.1,564.2 283.2,563.4 284.4,564.3 284.4,562.0 285.5,562.9 286.6,562.0 286.6,563.8 287.8,563.0 288.9,563.7 288.9,563.8 290.0,564.6 291.1,563.8 291.1,565.9 291.1,565.9 292.3,566.9 293.4,566.0 293.4,568.0 293.4,568.3 294.5,569.0 295.6,568.3 295.6,570.3 295.6,570.4 295.6,572.6 296.8,571.6 297.9,572.7 297.9,572.8 297.9,574.9 297.9,575.1 299.0,576.0 300.1,574.9 300.1,577.0 300.1,577.4 300.1,579.4 301.3,578.4 302.4,579.3 302.4,579.7 302.4,581.6 302.4,581.9 303.5,582.7 304.6,581.7 304.6,583.9 304.6,584.0 304.6,586.2 305.8,585.1 306.9,586.1 306.9,586.2 306.9,588.4 306.9,588.5 308.0,589.5 309.2,588.6 309.2,590.6 309.2,590.8 309.2,593.0 309.2,593.0 309.2,595.2 310.4,594.1 311.5,595.2 311.5,595.3 311.5,597.3 311.5,597.7 311.5,599.7 311.5,599.7 312.6,600.8 313.7,600.0 313.7,599.8 313.7,597.8 313.7,597.6 313.7,595.8 313.7,595.6 313.7,593.5 313.7,593.5 313.7,591.6 313.7,591.5 313.7,589.6 313.7,589.3 313.7,587.3 313.7,587.3 315.4,586.4 315.4,588.4 315.4,588.6 317.1,589.4 317.1,589.8 317.1,591.9 318.8,590.9 318.8,592.7 318.8,593.0 318.8,595.1 318.8,595.4 320.5,596.3 320.5,596.4 320.5,598.4 320.5,598.7 320.5,600.8 322.2,599.8 322.2,602.1 322.2,602.7 323.9,603.5 323.9,604.1 323.9,606.0" fill="none" stroke="#ff0000" stroke-width="2.2" stroke-linejoin="round" stroke-linecap="butt" clip-path="url(#cE)"/>
<polyline points="62.0,596.1 62.0,595.2 62.0,597.4 62.0,597.5 62.0,599.3 62.0,599.5 62.0,601.5 62.0,601.5 62.0,603.4 62.0,603.8 62.0,605.7 62.0,605.7 62.0,607.7 62.0,607.9 62.0,609.7 62.0,609.8 62.0,611.7 62.0,611.7 62.0,613.9 62.0,614.1 62.0,615.7 62.0,616.0 62.0,618.1 62.0,618.1 62.0,619.9 62.0,620.2 63.6,620.9 63.6,621.3 63.6,623.1 63.6,623.2 63.6,625.0 63.6,625.3 63.6,627.1 63.6,627.3 63.6,629.1 63.6,629.5 63.6,631.4 63.6,631.4 63.6,633.3 63.6,633.5 63.6,635.5 63.6,635.3 63.6,637.3 63.6,637.5 63.6,639.5 63.6,639.5 63.6,641.6 64.8,640.6 65.9,641.5 65.9,641.5 65.9,643.5 65.9,643.6 65.9,645.7 65.9,645.6 65.9,647.7 65.9,647.8 65.9,649.6 65.9,649.9 65.9,651.9 65.9,651.9 65.9,653.8 65.9,654.0 65.9,656.0 65.9,656.0 65.9,657.9 65.9,658.1 65.9,660.1 65.9,660.1 65.9,662.1 65.9,662.3 65.9,664.2 65.9,664.5 65.9,666.1 66.6,665.3 66.6,667.5 66.6,667.6 66.6,669.6 66.6,670.0 66.6,671.9 66.6,672.0 67.9,673.1 69.3,672.1 69.3,672.0 69.3,670.0 69.3,669.7 69.3,667.5 69.3,667.4 69.3,665.4 70.4,666.2 71.6,665.3 71.6,665.6 72.7,664.7 73.8,665.6 73.8,663.7 75.0,664.8 76.1,663.7 76.1,664.0 77.2,663.0 78.3,664.0 78.3,662.0 79.4,662.7 80.6,661.8 80.6,661.8 81.7,660.9 82.8,661.8 82.8,659.8 83.9,660.6 85.1,659.8 85.1,659.5 86.2,658.6 87.3,659.6 87.3,657.5 88.5,658.2 89.6,657.6 89.6,657.2 90.7,656.3 91.8,657.4 91.8,654.8 91.8,654.5 93.0,653.4 94.1,654.3 94.1,652.0 94.1,651.6 95.2,650.8 96.4,651.4 96.4,649.8 96.4,649.6 96.4,647.7 96.4,647.4 96.4,645.5 96.4,645.4 96.4,643.7 96.4,643.3 96.4,641.5 96.4,641.3 96.4,639.6 96.4,639.4 96.4,637.5 96.4,637.3 96.4,635.4 96.4,635.2 96.4,633.4 96.4,633.3 96.4,631.5 96.4,631.1 97.5,630.2 98.7,631.3 98.7,629.3 98.7,629.0 99.8,628.0 100.9,628.9 100.9,627.1 100.9,626.6 102.0,625.8 103.2,626.6 103.2,624.5 103.2,624.2 103.2,621.9 104.3,622.7 105.4,621.8 105.4,621.6 105.4,619.3 105.4,618.8 107.1,617.9 107.1,617.7 107.1,615.7 107.1,615.4 107.1,613.4 108.8,614.2 108.8,612.4 108.8,612.2 108.8,610.0 108.8,609.8 109.9,608.8 111.1,609.8 111.1,607.8 111.1,607.9 111.1,605.9 111.1,605.7 111.1,604.0 111.1,603.9 111.1,602.0 111.1,601.9 111.1,599.7 112.2,600.8 112.2,598.9 112.2,598.8 112.2,596.7 112.2,596.8 112.2,594.8 112.2,594.6 112.2,592.8 112.2,592.5 112.2,590.7 112.2,590.6 112.2,588.8 112.2,588.5 112.2,586.6 112.2,586.5 112.2,584.6 112.2,584.5 112.2,582.5 112.2,582.6 112.2,580.7 112.2,580.4 113.3,579.6 114.5,580.6 114.5,578.4 114.5,578.3 114.5,576.5 114.5,576.4 114.5,574.3 114.5,574.4 115.6,573.4 116.7,574.4 116.7,572.3 116.7,572.2 116.7,570.1 116.7,570.0 116.7,568.1 116.7,567.9 117.8,567.2 119.0,568.2 119.0,565.9 119.0,565.5 119.0,563.2 120.1,564.2 121.2,563.2 121.2,562.7 121.2,560.6 121.2,560.3 123.1,559.2 123.1,559.5 125.0,558.4 125.0,558.5 126.9,557.7 126.9,557.7 128.0,557.1 129.2,557.7 129.2,558.5 130.3,559.6 131.4,558.6 131.4,561.2 132.5,560.3 133.7,561.3 133.7,561.5 133.7,563.5 133.7,563.8 133.7,565.6 134.8,564.9 135.9,565.9 135.9,566.0 135.9,568.1 135.9,568.2 135.9,570.2 137.0,569.3 138.2,570.3 138.2,570.8 138.2,572.9 138.2,573.4 139.3,574.1 140.4,573.2 140.4,575.4 140.4,576.0 140.4,578.3 141.5,577.3 142.7,578.0 142.7,577.7 143.8,578.5 144.9,577.6 144.9,578.8 146.1,577.9 147.2,578.9 147.2,578.3 148.9,579.5 148.9,577.4 150.6,578.1 150.6,576.2 152.3,576.9 152.3,574.7 152.3,574.1 154.0,573.5 154.0,573.0 154.0,570.6 155.1,571.5 155.1,571.6 155.1,573.4 155.1,573.7 155.1,575.6 155.1,575.5 155.1,577.7 155.1,577.8 155.1,579.5 155.1,579.6 155.1,581.7 155.1,581.7 155.1,583.7 155.1,583.7 155.1,585.6 155.1,585.8 155.1,587.6 155.1,587.9 155.1,589.6 155.1,589.9 155.1,591.9 156.2,590.9 157.3,591.8 157.3,589.7 157.3,589.6 157.3,587.5 157.3,587.2 158.5,586.4 159.6,587.2 159.6,585.1 159.6,585.1 159.6,583.0 159.6,582.7 160.7,581.8 161.9,582.8 161.9,580.5 161.9,580.0 163.0,579.4 164.1,580.0 164.1,578.0 164.1,577.5 165.3,576.7 166.4,577.4 166.4,575.2 166.4,574.8 168.4,573.9 168.4,573.7 170.4,572.7 170.4,572.4 172.3,571.6 172.3,571.5 174.3,570.6 174.3,570.4 175.4,569.4 176.6,570.3 176.6,570.3 177.7,571.5 178.8,570.5 178.8,572.4 180.0,571.6 181.1,572.6 181.1,572.8 182.2,573.8 183.3,572.9 183.3,574.8 183.3,574.9 183.3,576.6 183.3,576.7 183.3,578.8 183.3,578.7 183.3,580.9 183.3,580.8 183.3,582.8 183.3,583.0 183.3,584.8 183.3,585.0 183.3,586.9 183.3,586.9 183.3,588.8 183.3,589.1 183.3,591.0 183.3,590.9 183.3,592.9 183.3,593.0 184.4,594.1 185.6,593.1 185.6,595.1 185.6,595.4 186.7,596.2 187.8,595.5 187.8,597.4 187.8,597.7 188.9,598.6 189.9,597.8 189.9,598.7 191.0,598.0 192.1,598.7 192.1,598.2 193.2,599.1 194.2,598.1 194.2,599.2 195.3,598.3 196.4,599.1 196.4,598.7 197.4,599.4 198.5,598.5 198.5,599.7 199.7,598.8 200.8,599.7 200.8,599.2 201.9,600.1 203.1,599.3 203.1,600.7 204.2,599.9 205.3,600.7 205.3,601.0 205.3,603.1 206.5,602.0 207.6,602.9 207.6,603.2 207.6,605.1 208.7,604.5 209.8,605.3 209.8,605.4 209.8,607.4 211.0,606.6 212.1,607.7 212.1,607.9 212.1,609.9 213.2,608.8 214.3,609.8 214.3,610.0 214.3,612.2 214.3,612.3 215.5,613.3 216.6,612.2 216.6,614.5 216.6,614.5 216.6,616.5 217.7,615.7 218.8,616.5 218.8,616.9 218.8,619.3 218.8,619.7 220.0,620.6 221.1,619.5 221.1,621.8 221.1,622.2 221.1,624.3 222.1,623.5 223.1,624.3 223.1,624.5 223.1,626.8 224.2,625.8 225.2,626.6 225.2,626.8 225.2,629.1 226.8,628.2 226.8,628.0 226.8,625.8 226.8,625.8 226.8,623.8 226.8,623.7 226.8,621.6 226.8,621.7 226.8,619.6 226.8,619.5 226.8,617.5 226.8,617.2 226.8,615.4 226.8,615.1 226.8,613.1 226.8,613.2 226.8,611.3 228.5,612.1 228.5,612.9 230.2,613.6 230.2,614.6 231.3,615.4 232.4,614.5 232.4,617.0 233.6,616.3 234.7,617.1 234.7,618.1 236.6,618.9 236.6,618.7 238.4,619.7 238.4,619.5 240.3,620.3 240.3,620.1 241.8,621.0 241.8,620.7 243.3,621.6 243.3,621.3 244.4,622.3 245.5,621.3 245.5,621.4 245.5,619.3 245.5,619.2 245.5,617.2 245.5,617.3 245.5,615.3 245.5,615.2 245.5,613.4 245.5,613.1 245.5,611.3 245.5,611.1 245.5,609.3 245.5,609.3 245.5,607.2 245.5,607.3 245.5,605.2 245.5,605.1 245.5,603.3 245.5,603.3 245.5,601.4 245.5,601.3 245.5,599.4 245.5,599.3 245.5,597.5 245.5,597.2 245.5,595.4 246.8,596.2 248.0,595.4 248.0,594.6 249.2,593.6 250.5,594.5 250.5,591.9 251.6,592.8 252.8,592.0 252.8,592.2 253.9,591.5 255.0,592.3 255.0,590.7 256.1,591.8 257.2,590.8 257.2,593.3 257.2,593.7 258.4,594.7 259.5,593.7 259.5,596.0 259.5,596.3 260.6,597.3 261.8,596.5 261.8,598.8 261.8,599.3 262.9,600.2 264.0,599.4 264.0,601.6 264.0,602.2 265.1,603.0 266.2,602.0 266.2,604.2 266.2,604.3 266.2,606.6 267.4,605.5 268.5,606.4 268.5,606.6 268.5,608.8 268.5,608.9 270.2,609.9 270.2,610.1 270.2,612.1 271.9,611.2 271.9,613.4 271.9,613.4 273.8,614.5 273.8,612.2 275.7,613.3 275.7,611.2 277.6,612.0 277.6,610.1 278.7,611.0 279.9,609.9 279.9,609.6 279.9,607.5 279.9,607.1 281.0,606.1 282.1,607.0 282.1,604.9 282.1,604.4 282.1,602.1 283.8,603.0 283.8,601.1 283.8,600.8 283.8,598.9 283.8,598.5 285.5,597.5 285.5,597.4 285.5,595.4 285.5,595.1 285.5,593.0 286.6,593.9 286.6,594.2 286.6,596.2 286.6,596.3 286.6,598.0 286.6,598.2 286.6,600.2 286.6,600.4 286.6,602.3 286.6,602.4 286.6,604.3 286.6,604.5 286.6,606.6 286.6,606.6 287.7,607.5 288.9,606.6 288.9,606.3 288.9,604.4 288.9,604.1 288.9,602.0 288.9,602.0 288.9,599.9 290.0,600.7 291.1,599.7 291.1,599.7 291.1,597.5 291.1,597.2 291.1,595.2 291.1,595.1 291.1,593.1 292.2,593.9 293.4,593.0 293.4,592.9 293.4,590.9 293.4,590.6 293.4,588.7 293.4,588.5 293.4,586.3 294.5,587.3 295.6,586.2 295.6,586.1 295.6,584.1 295.6,583.8 295.6,581.9 295.6,581.5 295.6,579.5 296.8,580.4 297.9,579.5 297.9,579.2 297.9,577.2 297.9,577.1 297.9,575.1 299.0,575.8 300.2,575.1 300.2,574.8 300.2,572.9 300.2,572.5 300.2,570.7 302.1,571.5 302.1,569.3 302.1,569.1 303.9,568.4 303.9,568.1 303.9,565.9 305.8,567.1 305.8,564.8 305.8,564.6 307.7,563.6 307.7,563.4 309.6,562.6 309.6,562.3 311.5,561.5 311.5,561.2 312.6,560.4 313.7,561.2 313.7,561.6 314.9,562.5 316.0,561.6 316.0,563.5 316.0,563.7 316.0,565.7 316.0,565.8 316.0,567.7 316.0,567.7 316.0,569.9 316.0,570.1 316.0,572.0 316.0,571.9 316.0,573.9 316.0,574.1 316.0,576.1 316.0,576.1 316.0,578.1 317.1,577.1 318.2,578.2 318.2,578.0 319.4,578.9 320.5,578.0 320.5,579.2 322.2,578.4 322.2,579.8 323.9,579.0 323.9,580.0" fill="none" stroke="#00b050" stroke-width="2.2" stroke-linejoin="round" stroke-linecap="butt" clip-path="url(#cE)"/>
<polyline points="65.5,512.3 67.0,511.4 67.0,513.6 67.0,513.7 67.0,515.6 67.0,515.7 67.0,517.7 67.0,517.7 67.0,519.6 67.0,520.1 67.0,522.0 67.0,522.0 67.0,524.0 68.2,523.2 69.3,523.9 69.3,524.0 69.3,525.9 69.3,525.9 69.3,528.1 69.3,528.2 69.3,529.8 69.3,530.1 69.3,532.1 69.3,532.1 69.3,533.9 69.3,534.1 69.3,535.9 69.3,536.2 69.3,538.0 69.3,538.1 69.3,540.0 69.3,540.2 69.3,542.0 70.4,541.2 71.5,542.0 71.5,542.6 71.5,544.8 71.5,545.1 72.7,546.0 73.8,545.2 73.8,547.5 73.8,547.6 73.8,549.8 75.5,549.1 75.5,551.0 75.5,551.0 75.5,553.1 75.5,553.2 75.5,555.1 77.2,554.1 77.2,556.0 77.2,556.2 77.2,558.2 77.2,558.1 77.2,560.2 78.9,559.2 78.9,561.1 78.9,561.6 78.9,563.6 78.9,563.8 78.9,565.7 80.6,564.9 80.6,567.0 80.6,567.1 80.6,569.2 80.6,569.4 80.6,571.5 82.3,570.5 82.3,572.6 82.3,572.8 82.3,574.8 82.3,575.2 82.3,576.9 82.3,577.2 84.0,578.3 84.0,578.4 84.0,580.4 84.0,580.8 84.0,582.7 84.0,582.8 84.0,585.0 85.7,584.0 85.7,586.2 85.7,586.4 85.7,588.3 85.7,588.4 85.7,590.6 85.7,590.8 85.7,592.8 87.4,591.9 87.4,594.1 87.4,594.4 87.4,596.3 87.4,596.4 87.4,598.6 87.4,598.6 87.4,600.8 89.1,599.8 89.1,601.9 89.1,602.1 89.1,604.0 89.1,604.3 89.1,606.4 89.1,606.7 90.7,607.6 90.7,607.8 90.7,609.8 90.7,610.1 90.7,612.1 90.7,612.3 90.7,614.4 92.4,613.5 92.4,615.3 92.4,615.8 92.4,617.6 92.4,617.9 92.4,620.1 92.4,620.1 92.4,622.3 94.1,621.3 94.1,623.3 94.1,623.5 94.1,625.7 94.1,626.0 94.1,627.7 94.1,628.3 94.1,630.2 95.3,629.3 95.3,631.1 95.3,631.3 95.3,633.3 95.3,633.6 95.3,635.3 95.3,635.6 95.3,637.4 95.3,637.7 95.3,639.7 95.3,639.8 95.3,641.7 95.3,641.9 95.3,643.7 95.3,644.0 95.3,645.9 96.4,645.1 97.5,645.8 97.5,646.0 97.5,648.0 97.5,648.3 97.5,650.1 97.5,650.1 97.5,652.0 97.5,652.5 97.5,654.2 97.5,654.3 97.5,656.2 97.5,656.4 97.5,658.5 97.5,658.5 98.6,659.4 99.8,658.4 99.8,661.0 99.8,661.4 100.9,662.2 102.0,661.4 102.0,663.7 102.0,664.2 103.1,665.1 104.2,664.2 104.2,665.4 105.4,664.7 106.5,665.6 106.5,664.8 108.4,665.8 108.4,663.1 110.3,664.1 110.3,661.4 112.2,662.5 112.2,659.8 113.3,660.6 114.5,659.9 114.5,660.8 115.6,659.9 116.7,660.7 116.7,659.6 117.9,660.7 119.0,659.8 119.0,660.8 120.1,659.6 121.2,660.7 121.2,660.5 122.3,661.3 123.5,660.5 123.5,662.0 124.6,661.2 125.7,662.1 125.7,662.0 127.6,662.7 127.6,661.9 129.5,662.8 129.5,662.0 131.4,662.8 131.4,661.8 132.5,663.0 133.7,662.1 133.7,661.6 133.7,659.7 133.7,659.6 134.8,658.5 135.9,659.4 135.9,657.5 135.9,657.2 135.9,655.0 137.1,656.2 138.2,655.2 138.2,655.2 138.2,653.1 138.2,653.0 138.2,651.0 138.2,650.9 138.2,649.0 138.2,648.9 138.2,647.2 138.2,647.1 138.2,645.1 139.3,646.0 140.4,645.0 140.4,645.0 140.4,643.1 140.4,642.9 140.4,641.1 140.4,641.0 140.4,639.0 140.4,639.0 140.4,636.9 140.4,636.8 140.4,635.0 140.4,634.8 140.4,633.1 140.4,632.7 140.4,630.9 140.4,631.0 140.4,628.9 140.4,628.8 140.4,626.9 142.1,627.9 142.1,625.9 142.1,625.6 142.1,623.6 142.1,623.2 142.1,621.4 143.8,622.3 143.8,620.2 143.8,620.1 143.8,617.9 143.8,617.6 143.8,615.6 145.5,616.6 145.5,614.7 145.5,614.3 145.5,612.4 145.5,611.9 145.5,609.9 145.5,609.6 145.5,607.8 147.2,608.8 147.2,606.6 147.2,606.3 147.2,604.5 147.2,604.1 147.2,602.0 147.2,601.8 147.2,599.7 148.9,600.7 148.9,598.6 148.9,598.6 148.9,596.5 148.9,596.2 148.9,594.2 150.6,595.0 150.6,593.0 150.6,592.7 150.6,591.0 150.6,590.7 150.6,588.6 152.3,589.5 152.3,587.6 152.3,587.4 152.3,585.7 152.3,585.6 152.3,583.4 152.3,583.6 152.3,581.7 152.3,581.4 152.3,579.5 154.0,580.6 154.0,578.5 154.0,578.5 154.0,576.5 154.0,576.4 154.0,574.5 154.0,574.4 154.0,572.6 154.0,572.3 154.0,570.6 155.1,571.6 156.2,570.6 156.2,570.5 156.2,568.5 156.2,568.5 156.2,566.5 156.2,566.3 156.2,564.4 156.2,564.2 156.2,562.2 156.2,562.3 156.2,560.3 156.2,560.1 156.2,558.2 156.2,558.1 156.2,556.1 156.2,556.0 156.2,554.3 156.2,553.9 156.2,552.2 156.2,551.9 156.2,550.1 156.2,549.7 156.2,547.9 157.3,548.8 158.5,547.9 158.5,547.8 158.5,545.8 158.5,545.7 158.5,543.8 158.5,543.8 158.5,541.9 158.5,541.8 158.5,539.8 158.5,539.7 158.5,537.5 158.5,537.6 160.2,536.7 160.2,536.3 160.2,534.4 160.2,534.3 161.9,533.3 161.9,533.1 161.9,531.1 161.9,530.9 163.8,530.0 163.8,530.6 165.6,529.6 165.6,530.6 167.5,529.5 167.5,530.5 169.2,529.4 169.2,531.6 169.2,532.0 170.9,532.8 170.9,533.2 170.9,535.3 172.6,534.3 172.6,536.3 172.6,536.7 172.6,538.8 172.6,538.8 172.6,540.9 174.3,540.0 174.3,542.1 174.3,542.3 174.3,544.3 174.3,544.6 174.3,546.5 176.0,545.8 176.0,547.7 176.0,547.9 176.0,550.0 176.0,550.3 176.0,552.2 177.7,551.4 177.7,553.2 177.7,553.6 177.7,555.7 177.7,555.9 177.7,557.8 179.4,556.9 179.4,558.9 179.4,559.4 179.4,561.2 179.4,561.5 179.4,563.5 181.1,562.6 181.1,564.7 181.1,564.8 181.1,566.8 181.1,567.1 181.1,569.1 182.2,568.3 183.3,569.1 183.3,569.4 183.3,571.5 183.3,571.5 183.3,573.6 184.5,572.7 185.6,573.5 185.6,574.0 185.6,575.9 185.6,576.0 185.6,578.0 186.7,577.2 187.8,578.3 187.8,576.2 189.0,577.1 190.1,576.0 190.1,575.9 191.2,575.0 192.3,576.0 192.3,573.9 192.3,573.8 192.3,571.5 193.5,572.7 194.6,571.6 194.6,571.3 194.6,569.5 194.6,569.1 196.0,568.2 197.4,569.2 197.4,567.3 197.4,567.0 197.4,564.8 197.4,564.6 198.6,563.7 199.7,564.5 199.7,564.7 199.7,566.5 199.7,566.6 199.7,568.8 199.7,568.7 199.7,570.6 199.7,570.7 199.7,572.8 199.7,572.9 199.7,574.8 199.7,574.7 199.7,576.8 199.7,576.8 199.7,578.7 199.7,578.7 199.7,580.9 199.7,580.9 199.7,582.8 200.8,581.9 201.9,582.6 201.9,580.8 201.9,580.4 201.9,578.3 203.1,579.5 204.2,578.6 204.2,578.2 204.2,576.2 204.2,575.8 206.1,575.1 206.1,575.5 207.9,574.6 207.9,575.1 209.8,574.4 209.8,574.8 211.0,574.1 212.1,574.9 212.1,575.3 212.1,577.8 213.2,576.8 214.4,577.6 214.4,578.1 214.4,580.4 215.5,579.5 216.7,580.4 216.7,580.6 216.7,582.8 216.7,582.9 217.8,584.0 218.9,582.9 218.9,585.0 218.9,585.1 218.9,587.3 220.0,586.3 221.2,587.2 221.2,587.5 221.2,589.4 221.2,589.6 222.3,590.5 223.4,589.6 223.4,591.7 223.4,591.8 223.4,594.0 224.8,592.9 226.1,593.8 226.1,594.2 226.1,596.3 226.1,596.6 226.1,598.6 226.8,597.7 226.8,599.6 226.8,599.8 226.8,601.6 226.8,601.8 226.8,603.6 226.8,603.8 226.8,605.8 226.8,605.8 226.8,607.8 226.8,607.8 226.8,609.8 226.8,610.0 226.8,611.7 226.8,612.0 226.8,613.9 226.8,613.9 226.8,616.0 226.8,616.1 226.8,618.1 226.8,618.1 226.8,620.1 226.8,620.2 228.5,621.1 228.5,620.0 230.2,621.0 230.2,620.2 231.3,621.1 232.4,620.1 232.4,620.5 233.6,619.7 234.7,620.5 234.7,619.1 235.8,619.9 236.9,618.9 236.9,619.4 238.1,618.4 239.2,619.5 239.2,617.9 240.3,618.8 241.5,617.9 241.5,618.1 242.6,617.1 243.7,618.1 243.7,616.4 244.9,617.4 246.0,616.4 246.0,616.7 247.1,615.6 248.2,616.7 248.2,616.7 248.2,618.9 249.4,617.9 250.5,618.8 250.5,619.1 250.5,621.1 251.6,620.0 252.8,621.1 252.8,621.4 252.8,623.4 253.9,622.5 255.0,623.3 255.0,623.7 255.0,625.7 256.1,624.7 257.2,625.6 257.2,625.9 257.2,627.9 257.2,628.2 258.4,629.0 259.5,628.0 259.5,630.2 259.5,630.4 259.5,632.4 260.6,631.4 261.8,632.3 261.8,632.7 261.8,634.8 262.9,633.8 264.0,634.5 264.0,634.8 264.0,637.0 265.1,636.1 266.2,637.0 266.2,636.0 267.4,636.9 268.5,636.0 268.5,637.0 270.4,636.0 270.4,635.7 270.4,633.7 270.4,633.4 270.4,631.4 271.3,632.3 271.3,630.4 271.3,630.5 271.3,628.5 271.3,628.3 271.3,626.3 271.3,626.4 271.3,624.3 271.3,624.2 271.3,622.3 271.3,622.4 271.3,620.5 271.3,620.3 271.3,618.4 271.3,618.4 271.3,616.5 271.3,616.4 271.3,614.6 271.3,614.5 272.3,613.5 273.3,614.5 273.3,612.3 273.3,612.1 274.3,611.3 275.3,612.1 275.3,610.2 275.3,609.7 276.4,608.9 277.6,609.8 277.6,607.7 277.6,607.5 277.6,605.5 277.6,605.4 278.7,604.5 279.8,605.2 279.8,603.3 279.8,603.0 279.8,601.1 279.8,600.7 281.0,600.0 282.1,600.8 282.1,598.6 282.1,598.4 282.1,596.6 282.1,596.3 282.1,594.1 282.1,594.1 283.2,593.1 284.4,594.0 284.4,591.9 284.4,591.6 284.4,589.7 284.4,589.4 284.4,587.5 284.4,587.2 286.0,586.4 286.0,586.1 286.0,584.4 286.0,584.3 286.0,582.3 286.0,582.2 286.0,580.3 286.0,580.2 286.0,578.3 286.0,578.1 286.0,576.1 287.7,577.2 287.7,575.3 287.7,575.2 287.7,573.0 287.7,573.0 287.7,571.2 287.7,571.0 287.7,569.0 287.7,568.9 287.7,567.0 287.7,567.0 288.9,566.2 290.0,567.1 290.0,565.1 290.0,564.8 290.0,562.9 290.0,562.6 290.0,560.9 290.0,560.6 290.0,558.7 290.0,558.7 290.0,556.5 290.0,556.3 290.0,554.7 290.0,554.5 290.0,552.6 291.1,553.3 292.2,552.6 292.2,551.9 293.4,551.2 294.5,552.0 294.5,549.7 296.2,550.7 296.2,551.0 297.9,552.0 297.9,552.5 299.6,553.4 299.6,553.4 299.6,555.6 301.3,554.8 301.3,556.6 301.3,556.8 303.0,557.9 303.0,558.1 303.0,560.1 303.0,560.3 303.0,562.4 303.0,562.7 304.7,563.5 304.7,563.8 304.7,565.7 304.7,565.9 304.7,568.0 304.7,568.2 306.4,569.2 306.4,569.3 306.4,571.5 306.4,571.6 306.4,573.6 306.4,573.8 306.4,575.8 308.1,574.9 308.1,577.2 308.1,577.2 308.1,579.2 308.1,579.7 308.1,581.7 308.1,581.9 309.8,582.7 309.8,582.8 309.8,584.9 309.8,585.2 309.8,587.2 309.8,587.6 309.8,589.5 311.5,588.5 311.5,590.7 311.5,591.0 311.5,592.9 311.5,593.2 311.5,595.2 311.5,595.5 313.1,596.1 313.1,597.1 314.8,598.0 314.8,598.8 316.7,599.5 316.7,597.5 318.6,598.6 318.6,596.4 320.5,597.3 320.5,595.4 322.2,596.2 322.2,594.2 322.2,593.9 322.2,592.0 323.9,592.9 323.9,590.7 323.9,590.6 323.9,589.0" fill="none" stroke="#0070c0" stroke-width="2.2" stroke-linejoin="round" stroke-linecap="butt" clip-path="url(#cE)"/>
<clipPath id="cF"><rect x="407.8" y="517.5" width="257.7" height="170.5"/></clipPath>
<polyline points="408.0,601.7 409.0,601.1 410.0,601.9 410.0,600.6 411.0,601.1 412.0,600.6 412.0,600.5 413.9,599.8 413.9,598.5 415.9,598.0 415.9,596.7 417.6,596.0 417.6,595.6 417.6,593.9 419.4,594.4 419.4,592.7 419.4,592.1 421.1,591.5 421.1,591.2 421.1,589.5 422.1,589.9 423.1,589.4 423.1,589.0 423.1,587.2 423.1,586.6 424.1,586.1 425.1,586.6 425.1,585.1 425.1,584.5 425.1,582.8 426.8,583.3 426.8,582.0 428.6,582.5 428.6,581.1 430.3,581.6 430.3,580.3 431.3,580.9 432.3,580.2 432.3,579.8 433.3,579.3 434.3,579.9 434.3,578.1 436.0,578.7 436.0,579.3 437.8,579.9 437.8,580.4 439.5,581.1 439.5,581.5 441.3,582.2 441.3,582.6 441.3,584.3 443.0,583.7 443.0,585.5 443.0,585.8 444.8,586.5 444.8,587.0 444.8,588.6 446.5,588.2 446.5,590.7 448.1,590.1 448.1,592.5 450.0,592.0 450.0,593.7 450.0,594.0 450.0,595.6 450.0,596.1 450.0,597.7 450.0,598.1 450.0,599.8 450.0,600.2 450.0,601.8 451.6,601.3 451.6,602.8 451.6,603.4 451.6,605.2 453.3,604.5 453.3,606.2 453.3,606.8 453.3,608.4 454.3,607.7 455.3,608.5 455.3,608.8 455.3,610.6 455.3,611.0 455.3,612.6 455.3,613.0 455.3,614.7 455.3,615.2 455.3,616.8 455.3,617.2 455.3,619.0 456.6,618.4 457.9,619.0 457.9,619.4 457.9,621.2 457.9,621.6 457.9,623.5 457.9,623.9 457.9,625.7 457.9,626.2 459.2,626.7 460.6,626.1 460.6,627.9 460.6,628.4 460.6,630.0 460.6,630.4 460.6,632.1 461.9,631.5 463.2,632.1 463.2,632.6 463.2,634.3 463.2,634.8 463.2,636.3 463.2,637.0 463.2,638.5 464.5,638.0 465.8,638.7 465.8,639.1 465.8,640.9 465.8,641.3 465.8,643.1 465.8,643.6 465.8,645.4 465.8,646.0 467.1,646.4 468.4,646.0 468.4,647.7 468.4,648.2 468.4,649.7 468.4,650.3 468.4,652.0 468.4,652.6 469.8,653.0 471.1,652.5 471.1,654.1 471.1,654.6 471.1,656.3 471.1,656.7 471.1,658.3 473.1,657.7 473.1,658.2 475.0,657.7 475.0,658.3 476.8,657.8 476.8,657.1 476.8,655.5 478.5,656.1 478.5,654.5 478.5,654.0 480.3,653.3 480.3,652.8 480.3,651.3 481.6,651.7 482.9,651.2 482.9,650.7 482.9,649.0 482.9,648.7 482.9,647.0 482.9,646.4 484.2,645.8 485.5,646.6 485.5,644.8 485.5,644.3 485.5,642.7 485.5,642.3 485.5,640.6 485.5,640.2 485.5,638.5 485.5,638.0 485.5,636.5 485.5,636.1 486.8,635.3 488.1,636.0 488.1,634.3 488.1,633.9 488.1,632.2 488.1,632.0 488.1,630.3 488.1,629.8 488.1,628.3 488.1,627.9 488.1,626.3 489.5,626.9 490.8,626.1 490.8,625.8 490.8,624.3 490.8,623.9 490.8,622.1 490.8,621.8 490.8,620.2 490.8,619.7 490.8,618.2 490.8,617.7 490.8,616.1 490.8,615.7 490.8,614.2 490.8,613.6 490.8,612.1 490.8,611.7 490.8,610.1 490.8,609.7 492.1,609.0 493.4,609.8 493.4,608.2 493.4,607.6 493.4,606.1 493.4,605.8 493.4,604.0 493.4,603.6 493.4,602.1 493.4,601.7 493.4,600.0 493.4,599.7 493.4,598.0 493.4,597.7 493.4,596.0 495.0,596.6 495.0,594.8 495.0,594.4 495.0,592.7 495.0,592.2 495.0,590.7 495.0,590.2 495.0,588.5 495.0,588.0 495.0,586.2 495.0,585.8 496.0,585.2 497.0,585.7 497.0,584.1 497.0,583.7 497.0,581.9 497.0,581.6 497.0,579.7 497.0,579.2 497.0,577.6 497.0,577.1 497.0,575.6 497.0,574.9 498.0,574.3 499.0,575.1 499.0,573.3 499.0,573.0 499.0,571.3 499.0,571.0 499.0,569.4 499.0,568.9 499.0,567.4 499.0,566.8 499.0,565.3 499.0,564.9 500.0,564.2 501.0,564.9 501.0,563.2 501.0,562.7 501.0,561.1 501.0,560.8 501.0,559.2 501.0,558.7 501.0,557.1 501.0,556.5 501.0,554.8 502.0,555.4 503.0,555.0 503.0,554.6 503.0,552.8 503.0,552.3 503.0,550.8 503.0,550.3 503.0,548.6 503.0,548.2 503.0,546.5 504.0,547.2 505.0,546.5 505.0,546.3 505.0,544.6 505.0,544.1 505.0,542.5 505.0,542.0 505.0,540.5 505.0,540.0 506.0,539.6 507.0,540.2 507.0,538.4 507.0,537.8 507.0,536.1 507.0,535.5 507.0,533.8 508.0,534.4 509.0,533.7 509.0,533.4 509.0,531.7 509.0,531.1 509.0,529.5 510.0,530.2 511.0,529.5 511.0,528.8 511.0,526.8 512.0,527.4 513.0,526.9 513.0,526.4 514.0,525.9 515.0,526.4 515.0,526.6 516.0,527.2 517.0,526.5 517.0,528.3 517.0,528.8 518.0,529.5 519.0,528.9 519.0,530.7 519.0,531.5 519.0,533.3 520.0,532.7 521.0,533.5 521.0,533.9 521.0,535.5 521.0,536.0 521.0,537.8 521.0,538.2 522.0,538.8 523.0,538.3 523.0,539.9 523.0,540.6 523.0,542.3 523.0,542.9 523.0,544.4 523.0,545.0 524.0,545.6 525.0,545.0 525.0,546.7 525.0,547.0 525.0,548.6 525.0,549.1 525.0,550.8 525.0,551.2 525.0,552.8 525.0,553.2 526.0,553.8 527.0,553.1 527.0,554.8 527.0,555.2 527.0,556.7 527.0,557.2 527.0,558.9 527.0,559.3 527.0,561.0 527.0,561.4 527.0,563.0 528.0,562.4 529.0,562.9 529.0,563.2 529.0,565.0 529.0,565.2 529.0,567.0 529.0,567.3 529.0,569.0 529.0,569.4 529.0,570.9 529.0,571.4 529.0,573.0 530.0,572.3 531.0,572.9 531.0,573.5 531.0,575.2 531.0,575.5 531.0,577.2 531.0,577.6 531.0,579.4 531.0,579.8 531.0,581.4 531.0,582.0 531.0,583.5 532.0,583.1 533.0,583.6 533.0,584.0 533.0,585.6 533.0,586.1 533.0,587.6 533.0,588.1 533.0,589.5 533.0,590.1 533.0,591.7 533.0,592.1 533.0,593.6 533.0,594.0 534.0,594.6 535.0,594.2 535.0,595.7 535.0,596.1 535.0,597.7 535.0,598.1 535.0,599.8 535.0,600.1 535.0,601.7 535.0,602.2 535.0,603.8 535.0,604.3 535.0,605.9 536.0,605.3 537.0,606.0 537.0,606.2 537.0,607.9 537.0,608.3 537.0,609.8 537.0,610.4 537.0,612.0 537.0,612.3 537.0,613.9 537.0,614.3 537.0,616.1 537.0,616.5 538.0,617.1 539.0,616.4 539.0,618.1 539.0,618.5 539.0,620.3 539.0,620.7 539.0,622.5 539.0,622.8 539.0,624.7 539.0,625.1 539.0,626.7 539.0,627.3 540.0,627.8 541.0,627.2 541.0,628.9 541.0,629.4 541.0,630.9 541.0,631.3 541.0,632.9 541.0,633.4 541.0,634.9 541.0,635.4 541.0,637.0 541.0,637.4 542.0,638.1 543.0,637.4 543.0,639.1 543.0,639.5 543.0,641.3 543.0,641.7 543.0,643.4 543.0,643.7 543.0,645.4 543.0,645.8 543.0,647.5 544.0,646.8 545.0,647.6 545.0,648.0 545.0,649.7 545.0,650.1 545.0,651.6 545.0,652.2 545.0,653.7 545.0,654.2 545.0,656.0 546.0,655.4 547.0,655.9 547.0,656.4 547.0,657.9 547.0,658.5 547.0,660.0 547.0,660.4 547.0,662.0 547.0,662.6 548.0,663.2 549.0,662.7 549.0,664.4 549.0,664.9 549.0,666.8 549.0,667.3 549.0,669.0 550.0,668.4 551.0,669.0 551.0,669.5 551.0,671.2 551.0,671.7 551.0,673.5 552.0,672.8 553.0,673.5 553.0,674.2 553.0,676.2 554.0,675.6 555.0,676.3 555.0,676.8 556.0,677.4 557.0,676.9 557.0,676.8 558.0,676.3 559.0,676.8 559.0,675.2 559.0,674.8 560.0,674.1 561.0,674.8 561.0,672.8 561.0,672.2 561.0,670.4 562.0,671.0 563.0,670.4 563.0,669.9 563.0,668.3 563.0,667.8 563.0,666.2 563.0,665.7 564.0,665.1 565.0,665.6 565.0,664.0 565.0,663.5 565.0,661.7 565.0,661.2 565.0,659.5 565.0,659.0 566.0,658.4 567.0,658.9 567.0,657.3 567.0,656.7 567.0,654.9 567.0,654.5 567.0,652.7 567.0,652.2 567.0,650.4 568.0,651.1 569.0,650.4 569.0,650.0 569.0,648.3 569.0,647.9 569.0,646.4 569.0,646.0 569.0,644.4 569.0,643.9 569.0,642.5 569.0,641.9 570.0,641.4 571.0,641.9 571.0,640.2 571.0,639.8 571.0,638.0 571.0,637.6 571.0,635.8 571.0,635.3 571.0,633.6 571.0,633.1 571.0,631.4 572.0,632.0 573.0,631.4 573.0,631.0 573.0,629.3 573.0,628.9 573.0,627.1 573.0,626.8 573.0,625.0 573.0,624.6 573.0,622.9 573.0,622.4 573.0,620.8 574.0,621.4 575.0,620.7 575.0,620.4 575.0,618.9 575.0,618.5 575.0,616.8 575.0,616.4 575.0,614.9 575.0,614.4 575.0,612.7 575.0,612.4 575.0,610.8 575.0,610.4 576.0,609.9 577.0,610.4 577.0,608.7 577.0,608.4 577.0,606.7 577.0,606.3 577.0,604.6 577.0,604.2 577.0,602.7 577.0,602.3 577.0,600.6 577.0,600.1 577.0,598.5 578.0,599.1 579.0,598.6 579.0,598.1 579.0,596.5 579.0,596.0 579.0,594.5 579.0,594.1 579.0,592.4 579.0,592.0 579.0,590.4 579.0,590.0 579.0,588.4 579.0,587.9 580.0,587.3 581.0,588.1 581.0,586.3 581.0,585.8 581.0,584.0 581.0,583.7 581.0,581.9 581.0,581.4 581.0,579.7 581.0,579.3 581.0,577.6 581.0,577.1 582.0,576.5 583.0,577.2 583.0,575.6 583.0,575.1 583.0,573.5 583.0,573.1 583.0,571.4 583.0,571.0 583.0,569.3 583.0,568.9 583.0,567.3 583.0,566.8 584.0,566.3 585.0,566.8 585.0,565.1 585.0,564.7 585.0,563.0 585.0,562.5 585.0,560.9 585.0,560.5 585.0,558.9 585.0,558.3 585.0,556.7 586.0,557.3 587.0,556.8 587.0,556.2 587.0,554.7 587.0,554.1 587.0,552.4 587.0,551.9 587.0,550.4 587.0,549.9 587.0,548.1 588.0,548.9 589.0,548.1 589.0,547.7 589.0,546.0 589.0,545.5 589.0,543.9 589.0,543.4 589.0,541.9 589.0,541.4 590.0,540.8 591.0,541.3 591.0,539.9 591.0,539.5 591.0,537.8 591.0,537.4 591.0,535.8 591.0,535.4 592.0,534.8 593.0,535.4 593.0,533.6 593.0,533.2 593.0,531.5 593.0,530.9 594.0,530.2 595.0,530.8 595.0,528.8 595.0,527.9 596.0,527.2 597.0,527.8 597.0,525.8 598.0,526.6 599.0,526.0 599.0,526.9 600.0,526.4 601.0,526.8 601.0,528.2 602.0,528.8 603.0,528.3 603.0,530.0 603.0,530.7 603.0,532.5 604.0,531.8 605.0,532.4 605.0,533.0 605.0,534.6 605.0,535.1 605.0,536.5 605.0,537.1 606.0,537.5 607.0,537.1 607.0,538.7 607.0,539.2 607.0,540.9 607.0,541.3 607.0,543.1 607.0,543.6 608.0,544.2 609.0,543.5 609.0,545.3 609.0,545.9 609.0,547.5 609.0,548.0 609.0,549.8 609.0,550.4 609.0,552.1 610.0,551.4 611.0,552.1 611.0,552.7 611.0,554.3 611.0,554.8 611.0,556.5 611.0,557.0 611.0,558.7 611.0,559.3 611.0,561.0 612.0,560.4 613.0,561.0 613.0,561.4 613.0,563.1 613.0,563.6 613.0,565.3 613.0,565.8 613.0,567.6 613.0,568.0 613.0,569.7 613.0,570.3 614.0,570.9 615.0,570.3 615.0,571.9 615.0,572.3 615.0,573.9 615.0,574.5 615.0,576.1 615.0,576.7 615.0,578.2 615.0,578.7 615.0,580.4 615.0,580.9 616.0,581.4 617.0,580.9 617.0,582.5 617.0,582.9 617.0,584.3 617.0,584.8 617.0,586.5 617.0,586.9 617.0,588.3 617.0,588.8 617.0,590.5 617.0,590.7 617.0,592.4 618.0,591.8 619.0,592.4 619.0,592.8 619.0,594.4 619.0,594.9 619.0,596.6 619.0,596.8 619.0,598.6 619.0,599.0 619.0,600.6 619.0,601.0 619.0,602.7 619.0,603.0 620.0,603.7 621.0,603.0 621.0,604.7 621.0,605.0 621.0,606.8 621.0,607.1 621.0,608.6 621.0,609.2 621.0,610.8 621.0,611.2 621.0,612.8 621.0,613.2 621.0,614.7 622.0,614.2 623.0,614.8 623.0,615.3 623.0,617.0 623.0,617.5 623.0,619.1 623.0,619.6 623.0,621.4 623.0,621.8 623.0,623.5 623.0,623.9 623.0,625.7 624.0,625.1 625.0,625.6 625.0,626.0 625.0,627.8 625.0,628.1 625.0,629.9 625.0,630.2 625.0,632.0 625.0,632.3 625.0,634.1 625.0,634.4 625.0,636.0 626.0,635.5 627.0,636.1 627.0,636.4 627.0,638.3 627.0,638.6 627.0,640.4 627.0,640.8 627.0,642.6 627.0,642.9 627.0,644.6 627.0,645.1 628.0,645.8 629.0,645.1 629.0,646.7 629.0,647.3 629.0,649.0 629.0,649.4 629.0,651.2 629.0,651.6 629.0,653.2 629.0,653.7 630.0,654.2 631.0,653.8 631.0,655.4 631.0,655.9 631.0,657.5 631.0,658.1 631.0,659.7 631.0,660.1 631.0,661.7 632.0,661.3 633.0,661.9 633.0,662.2 633.0,663.8 633.0,664.2 633.0,665.8 633.0,666.4 633.0,668.1 634.0,667.3 635.0,667.9 635.0,668.5 635.0,670.4 635.0,670.8 635.0,672.8 636.0,672.1 637.0,672.7 637.0,673.1 637.0,674.9 637.0,675.2 638.0,675.9 639.0,675.2 639.0,677.4 640.0,676.8 641.0,677.3 641.0,676.5 642.0,677.2 643.0,676.5 643.0,675.3 644.0,674.7 645.0,675.4 645.0,673.5 645.0,673.0 645.0,671.4 646.0,671.9 647.0,671.3 647.0,670.8 647.0,669.3 647.0,668.9 647.0,667.4 647.0,666.8 648.0,666.3 649.0,666.9 649.0,665.1 649.0,664.8 649.0,663.0 649.0,662.6 649.0,660.9 649.0,660.4 650.0,659.8 651.0,660.5 651.0,658.6 651.0,658.2 651.0,656.5 651.0,656.0 651.0,654.3 651.0,653.8 651.0,652.1 652.0,652.7 653.0,652.0 653.0,651.5 653.0,649.9 653.0,649.5 653.0,647.6 653.0,647.2 653.0,645.5 653.0,644.9 653.0,643.1 654.0,643.9 655.0,643.2 655.0,642.8 655.0,641.0 655.0,640.6 655.0,638.9 655.0,638.4 655.0,636.7 655.0,636.2 655.0,634.5 655.0,634.1 656.0,633.5 657.0,634.0 657.0,632.5 657.0,631.9 657.0,630.3 657.0,629.8 657.0,628.3 657.0,627.7 657.0,626.0 657.0,625.7 657.0,624.1 657.0,623.7 658.0,623.0 659.0,623.6 659.0,621.8 659.0,621.4 659.0,619.7 659.0,619.2 659.0,617.5 659.0,617.0 659.0,615.3 659.0,614.9 659.0,613.0 659.0,612.5 660.0,612.1 661.0,612.7 661.0,611.0 661.0,610.5 661.0,609.0 661.0,608.5 661.0,606.8 661.0,606.5 661.0,604.8 661.0,604.5 661.0,602.9 661.0,602.4 661.0,600.7 662.0,601.4 663.0,600.8 663.0,600.3 663.0,598.7 663.0,598.4 663.0,596.8 663.0,596.3 663.0,594.7 663.0,594.3 663.0,592.7 663.0,592.2 663.0,590.7 663.0,590.2 664.0,589.5 665.0,590.3 665.0,588.4 665.0,588.0 665.0,586.4 665.0,585.8 665.0,584.1 665.0,583.6 665.0,581.9 665.0,581.5 665.0,579.8 665.0,579.0" fill="none" stroke="#ff0000" stroke-width="1.8" stroke-linejoin="round" stroke-linecap="butt" clip-path="url(#cF)"/>
<polyline points="408.0,604.8 410.6,604.8 410.6,604.1 413.3,604.1 413.3,603.5 415.9,603.5 415.9,601.7 418.5,601.7 418.5,600.0 421.1,600.0 421.1,598.2 423.3,598.2 423.3,597.1 425.5,597.1 425.5,596.1 427.7,596.1 427.7,595.0 429.7,595.0 429.7,594.0 431.7,594.0 431.7,593.0 434.3,593.0 434.3,592.3 436.6,592.3 436.6,592.5 438.9,592.5 438.9,592.6 441.2,592.6 441.2,592.8 443.5,592.8 443.5,593.0 445.4,593.0 445.4,594.6 447.4,594.6 447.4,596.3 450.0,596.3 450.0,600.2 452.7,600.2 452.7,604.2 454.6,604.2 454.6,607.5 456.6,607.5 456.6,610.7 458.6,610.7 458.6,614.7 460.6,614.7 460.6,618.6 462.6,618.6 462.6,621.2 464.5,621.2 464.5,623.9 466.4,623.9 466.4,625.5 468.4,625.5 468.4,627.2 471.0,627.2 471.0,627.2 473.7,627.2 473.7,627.2 476.3,627.2 476.3,627.2 478.3,627.2 478.3,624.9 480.3,624.9 480.3,622.6 482.9,622.6 482.9,619.3 485.5,619.3 485.5,616.0 487.5,616.0 487.5,612.0 489.5,612.0 489.5,608.1 492.1,608.1 492.1,603.5 494.7,603.5 494.7,598.9 496.5,598.9 496.5,591.7 498.9,591.7 498.9,584.4 501.3,584.4 501.3,577.6 503.7,577.6 503.7,571.6 506.1,571.6 506.1,566.5 508.5,566.5 508.5,562.6 510.9,562.6 510.9,559.9 513.3,559.9 513.3,558.5 515.7,558.5 515.7,558.5 518.1,558.5 518.1,559.9 520.5,559.9 520.5,562.6 522.9,562.6 522.9,566.5 525.3,566.5 525.3,571.6 527.7,571.6 527.7,577.6 530.1,577.6 530.1,584.4 532.5,584.4 532.5,591.7 534.9,591.7 534.9,599.4 537.3,599.4 537.3,607.1 539.7,607.1 539.7,614.7 542.1,614.7 542.1,621.8 544.5,621.8 544.5,628.3 546.9,628.3 546.9,633.9 549.3,633.9 549.3,638.5 551.7,638.5 551.7,642.0 554.1,642.0 554.1,644.1 556.5,644.1 556.5,644.9 558.9,644.9 558.9,644.4 561.3,644.4 561.3,642.4 563.7,642.4 563.7,639.2 566.1,639.2 566.1,634.8 568.5,634.8 568.5,629.3 570.9,629.3 570.9,622.9 573.3,622.9 573.3,615.9 575.7,615.9 575.7,608.4 578.1,608.4 578.1,600.7 580.5,600.7 580.5,593.0 582.9,593.0 582.9,585.6 585.3,585.6 585.3,578.7 587.7,578.7 587.7,572.5 590.1,572.5 590.1,567.3 592.5,567.3 592.5,563.2 594.9,563.2 594.9,560.3 597.3,560.3 597.3,558.7 599.7,558.7 599.7,558.4 602.1,558.4 602.1,559.6 604.5,559.6 604.5,562.1 606.9,562.1 606.9,565.8 609.3,565.8 609.3,570.7 611.7,570.7 611.7,576.6 614.1,576.6 614.1,583.2 616.5,583.2 616.5,590.5 618.9,590.5 618.9,598.1 621.3,598.1 621.3,605.8 623.7,605.8 623.7,613.4 626.1,613.4 626.1,620.6 628.5,620.6 628.5,627.3 630.9,627.3 630.9,633.1 633.3,633.1 633.3,637.9 635.7,637.9 635.7,641.5 638.1,641.5 638.1,643.9 640.5,643.9 640.5,644.9 642.9,644.9 642.9,644.6 645.3,644.6 645.3,642.9 647.7,642.9 647.7,639.8 650.1,639.8 650.1,635.6 652.5,635.6 652.5,630.3 654.9,630.3 654.9,624.0 657.3,624.0 657.3,617.1 659.7,617.1 659.7,609.7 662.1,609.7 662.1,602.0 664.5,602.0 664.5,594.3" fill="none" stroke="#000000" stroke-width="2.1" stroke-linejoin="round" stroke-linecap="butt" clip-path="url(#cF)"/>
<line x1="413.3" y1="592.3" x2="413.3" y2="604.2" stroke="#000000" stroke-width="1.6" clip-path="url(#cF)"/>
<line x1="442.8" y1="593" x2="442.8" y2="606.8" stroke="#000000" stroke-width="1.6" clip-path="url(#cF)"/>
<line x1="459.9" y1="614.7" x2="459.9" y2="625.2" stroke="#000000" stroke-width="1.6" clip-path="url(#cF)"/>
<line x1="487.5" y1="603.5" x2="487.5" y2="614.7" stroke="#000000" stroke-width="1.6" clip-path="url(#cF)"/>
<line x1="498" y1="577" x2="498" y2="589" stroke="#000000" stroke-width="1.6" clip-path="url(#cF)"/>
<line x1="527" y1="578" x2="527" y2="589" stroke="#000000" stroke-width="1.6" clip-path="url(#cF)"/>
<line x1="571" y1="616" x2="571" y2="628" stroke="#000000" stroke-width="1.6" clip-path="url(#cF)"/>
<line x1="610" y1="578" x2="610" y2="590" stroke="#000000" stroke-width="1.6" clip-path="url(#cF)"/>
<line x1="658" y1="605" x2="658" y2="617" stroke="#000000" stroke-width="1.6" clip-path="url(#cF)"/>
<rect x="65.5" y="7.3" width="250.10" height="162.40" fill="none" stroke="#707070" stroke-width="1.2"/>
<line x1="189.50" y1="5.0" x2="189.50" y2="9.6" stroke="#000" stroke-width="2.4"/>
<line x1="189.50" y1="167.39999999999998" x2="189.50" y2="172.0" stroke="#000" stroke-width="2.4"/>
<line x1="65.0" y1="87.40" x2="69.0" y2="87.40" stroke="#000" stroke-width="2.2"/>
<line x1="315.1" y1="87.40" x2="312.1" y2="87.40" stroke="#000" stroke-width="2.2"/>
<rect x="411" y="7.1" width="250.00" height="160.40" fill="none" stroke="#8a8a8a" stroke-width="1.5"/>
<line x1="536.00" y1="4.8" x2="536.00" y2="9.399999999999999" stroke="#000" stroke-width="2.4"/>
<line x1="536.00" y1="165.2" x2="536.00" y2="169.8" stroke="#000" stroke-width="2.4"/>
<line x1="410.5" y1="87.30" x2="414.5" y2="87.30" stroke="#000" stroke-width="2.2"/>
<line x1="660.5" y1="87.30" x2="657.5" y2="87.30" stroke="#000" stroke-width="2.2"/>
<rect x="65" y="262" width="254.60" height="163.60" fill="none" stroke="#8a8a8a" stroke-width="1.5"/>
<line x1="192.30" y1="259.7" x2="192.30" y2="264.3" stroke="#000" stroke-width="2.4"/>
<line x1="192.30" y1="423.3" x2="192.30" y2="427.90000000000003" stroke="#000" stroke-width="2.4"/>
<line x1="64.5" y1="275.30" x2="68.5" y2="275.30" stroke="#000" stroke-width="2.2"/>
<line x1="319.1" y1="275.30" x2="316.1" y2="275.30" stroke="#000" stroke-width="2.2"/>
<line x1="64.5" y1="346.05" x2="68.5" y2="346.05" stroke="#000" stroke-width="2.2"/>
<line x1="319.1" y1="346.05" x2="316.1" y2="346.05" stroke="#000" stroke-width="2.2"/>
<line x1="64.5" y1="416.80" x2="68.5" y2="416.80" stroke="#000" stroke-width="2.2"/>
<line x1="319.1" y1="416.80" x2="316.1" y2="416.80" stroke="#000" stroke-width="2.2"/>
<rect x="409.6" y="267" width="253.90" height="164.30" fill="none" stroke="#8a8a8a" stroke-width="1.5"/>
<line x1="511.50" y1="264.7" x2="511.50" y2="269.3" stroke="#000" stroke-width="2.4"/>
<line x1="511.50" y1="429.0" x2="511.50" y2="433.6" stroke="#000" stroke-width="2.4"/>
<line x1="611.40" y1="264.7" x2="611.40" y2="269.3" stroke="#000" stroke-width="2.4"/>
<line x1="611.40" y1="429.0" x2="611.40" y2="433.6" stroke="#000" stroke-width="2.4"/>
<line x1="409.1" y1="280.40" x2="413.1" y2="280.40" stroke="#000" stroke-width="2.2"/>
<line x1="663.0" y1="280.40" x2="660.0" y2="280.40" stroke="#000" stroke-width="2.2"/>
<line x1="409.1" y1="351.50" x2="413.1" y2="351.50" stroke="#000" stroke-width="2.2"/>
<line x1="663.0" y1="351.50" x2="660.0" y2="351.50" stroke="#000" stroke-width="2.2"/>
<line x1="409.1" y1="422.60" x2="413.1" y2="422.60" stroke="#000" stroke-width="2.2"/>
<line x1="663.0" y1="422.60" x2="660.0" y2="422.60" stroke="#000" stroke-width="2.2"/>
<rect x="62" y="516" width="261.00" height="162.00" fill="none" stroke="#8a8a8a" stroke-width="1.5"/>
<line x1="192.50" y1="513.7" x2="192.50" y2="518.3" stroke="#000" stroke-width="2.4"/>
<line x1="192.50" y1="675.7" x2="192.50" y2="680.3" stroke="#000" stroke-width="2.4"/>
<line x1="61.5" y1="538.10" x2="65.5" y2="538.10" stroke="#000" stroke-width="2.2"/>
<line x1="322.5" y1="538.10" x2="319.5" y2="538.10" stroke="#000" stroke-width="2.2"/>
<line x1="61.5" y1="595.50" x2="65.5" y2="595.50" stroke="#000" stroke-width="2.2"/>
<line x1="322.5" y1="595.50" x2="319.5" y2="595.50" stroke="#000" stroke-width="2.2"/>
<line x1="61.5" y1="652.90" x2="65.5" y2="652.90" stroke="#000" stroke-width="2.2"/>
<line x1="322.5" y1="652.90" x2="319.5" y2="652.90" stroke="#000" stroke-width="2.2"/>
<rect x="409.3" y="519" width="254.70" height="167.50" fill="none" stroke="#8a8a8a" stroke-width="1.5"/>
<line x1="410.50" y1="516.7" x2="410.50" y2="521.3" stroke="#000" stroke-width="2.4"/>
<line x1="410.50" y1="684.2" x2="410.50" y2="688.8" stroke="#000" stroke-width="2.4"/>
<line x1="493.60" y1="516.7" x2="493.60" y2="521.3" stroke="#000" stroke-width="2.4"/>
<line x1="493.60" y1="684.2" x2="493.60" y2="688.8" stroke="#000" stroke-width="2.4"/>
<line x1="576.70" y1="516.7" x2="576.70" y2="521.3" stroke="#000" stroke-width="2.4"/>
<line x1="576.70" y1="684.2" x2="576.70" y2="688.8" stroke="#000" stroke-width="2.4"/>
<line x1="659.80" y1="516.7" x2="659.80" y2="521.3" stroke="#000" stroke-width="2.4"/>
<line x1="659.80" y1="684.2" x2="659.80" y2="688.8" stroke="#000" stroke-width="2.4"/>
<line x1="408.8" y1="533.00" x2="412.8" y2="533.00" stroke="#000" stroke-width="2.2"/>
<line x1="663.5" y1="533.00" x2="660.5" y2="533.00" stroke="#000" stroke-width="2.2"/>
<line x1="408.8" y1="601.65" x2="412.8" y2="601.65" stroke="#000" stroke-width="2.2"/>
<line x1="663.5" y1="601.65" x2="660.5" y2="601.65" stroke="#000" stroke-width="2.2"/>
<line x1="408.8" y1="670.30" x2="412.8" y2="670.30" stroke="#000" stroke-width="2.2"/>
<line x1="663.5" y1="670.30" x2="660.5" y2="670.30" stroke="#000" stroke-width="2.2"/>
<text x="0" y="0" transform="translate(54.7 12.8) scale(1 1.04)" font-size="17" text-anchor="end" font-family='"Liberation Serif", serif' >500</text>
<text x="0" y="0" transform="translate(57 93) scale(1 1.04)" font-size="17" text-anchor="end" font-family='"Liberation Serif", serif' >0</text>
<text x="0" y="0" transform="translate(54.7 178) scale(1 1.04)" font-size="17" text-anchor="end" font-family='"Liberation Serif", serif' >-500</text>
<text x="0" y="0" transform="translate(70.3 202.8) scale(1 1.04)" font-size="17" text-anchor="middle" font-family='"Liberation Serif", serif' >0</text>
<text x="0" y="0" transform="translate(195 202.8) scale(1 1.04)" font-size="17" text-anchor="middle" font-family='"Liberation Serif", serif' >0.02</text>
<text x="0" y="0" transform="translate(321.5 202.1) scale(1 1.04)" font-size="17" text-anchor="middle" font-family='"Liberation Serif", serif' >0.04</text>
<text x="0" y="0" transform="translate(184.7 231.5) scale(1 1.04)" font-size="20" text-anchor="middle" font-family='"Liberation Serif", serif' >(a)</text>
<text x="24.6" y="82.5" font-size="17.4" text-anchor="middle" font-family='"Liberation Serif", serif' transform="rotate(-90 24.6 82.5)" >Source voltage (V)</text>
<text x="0" y="0" transform="translate(405 12.6) scale(1 1.04)" font-size="17" text-anchor="end" font-family='"Liberation Serif", serif' >10</text>
<text x="0" y="0" transform="translate(405.6 93) scale(1 1.04)" font-size="17" text-anchor="end" font-family='"Liberation Serif", serif' >0</text>
<text x="0" y="0" transform="translate(405.6 175.6) scale(1 1.04)" font-size="17" text-anchor="end" font-family='"Liberation Serif", serif' >-10</text>
<text x="0" y="0" transform="translate(417.5 199.9) scale(1 1.04)" font-size="17" text-anchor="middle" font-family='"Liberation Serif", serif' >0</text>
<text x="0" y="0" transform="translate(541.6 199.9) scale(1 1.04)" font-size="17" text-anchor="middle" font-family='"Liberation Serif", serif' >0.02</text>
<text x="0" y="0" transform="translate(666.8 199.8) scale(1 1.04)" font-size="17" text-anchor="middle" font-family='"Liberation Serif", serif' >0.04</text>
<text x="0" y="0" transform="translate(533 232) scale(1 1.04)" font-size="20" text-anchor="middle" font-family='"Liberation Serif", serif' >(b)</text>
<text x="383.8" y="87" font-size="17.5" text-anchor="middle" font-family='"Liberation Serif", serif' transform="rotate(-90 383.8 87)" >Load current (A)</text>
<text x="0" y="0" transform="translate(60 280.6) scale(1 1.04)" font-size="17" text-anchor="end" font-family='"Liberation Serif", serif' >10</text>
<text x="0" y="0" transform="translate(60 354) scale(1 1.04)" font-size="17" text-anchor="end" font-family='"Liberation Serif", serif' >0</text>
<text x="0" y="0" transform="translate(60 422.5) scale(1 1.04)" font-size="17" text-anchor="end" font-family='"Liberation Serif", serif' >-10</text>
<text x="0" y="0" transform="translate(71.9 457.7) scale(1 1.04)" font-size="17" text-anchor="middle" font-family='"Liberation Serif", serif' >0</text>
<text x="0" y="0" transform="translate(197.8 457.7) scale(1 1.04)" font-size="17" text-anchor="middle" font-family='"Liberation Serif", serif' >0.02</text>
<text x="0" y="0" transform="translate(327 457.4) scale(1 1.04)" font-size="17" text-anchor="middle" font-family='"Liberation Serif", serif' >0.04</text>
<text x="0" y="0" transform="translate(184.5 490) scale(1 1.04)" font-size="20" text-anchor="middle" font-family='"Liberation Serif", serif' >(c)</text>
<text x="13.8" y="345" font-size="17.3" text-anchor="middle" font-family='"Liberation Serif", serif' transform="rotate(-90 13.8 345)" >Compensated source</text>
<text x="34" y="345" font-size="17" text-anchor="middle" font-family='"Liberation Serif", serif' transform="rotate(-90 34 345)" >current (A) (IRP-<tspan font-style="italic">pq</tspan>)</text>
<text x="0" y="0" transform="translate(404.3 286.8) scale(1 1.04)" font-size="17" text-anchor="end" font-family='"Liberation Serif", serif' >10</text>
<text x="0" y="0" transform="translate(405 359.2) scale(1 1.04)" font-size="17" text-anchor="end" font-family='"Liberation Serif", serif' >0</text>
<text x="0" y="0" transform="translate(405 429) scale(1 1.04)" font-size="17" text-anchor="end" font-family='"Liberation Serif", serif' >-10</text>
<text x="0" y="0" transform="translate(416 463.3) scale(1 1.04)" font-size="17" text-anchor="middle" font-family='"Liberation Serif", serif' >0</text>
<text x="0" y="0" transform="translate(515.6 463.3) scale(1 1.04)" font-size="17" text-anchor="middle" font-family='"Liberation Serif", serif' >0.02</text>
<text x="0" y="0" transform="translate(615.5 463.3) scale(1 1.04)" font-size="17" text-anchor="middle" font-family='"Liberation Serif", serif' >0.04</text>
<text x="0" y="0" transform="translate(533 492.7) scale(1 1.04)" font-size="20" text-anchor="middle" font-family='"Liberation Serif", serif' >(d)</text>
<text x="357" y="353" font-size="17.3" text-anchor="middle" font-family='"Liberation Serif", serif' transform="rotate(-90 357 353)" >Compensated source</text>
<text x="378.5" y="352" font-size="17" text-anchor="middle" font-family='"Liberation Serif", serif' transform="rotate(-90 378.5 352)" >current (A)(Proposed)</text>
<text x="0" y="0" transform="translate(55.4 544.4) scale(1 1.04)" font-size="17" text-anchor="end" font-family='"Liberation Serif", serif' >5</text>
<text x="0" y="0" transform="translate(55.4 601.8) scale(1 1.04)" font-size="17" text-anchor="end" font-family='"Liberation Serif", serif' >0</text>
<text x="0" y="0" transform="translate(55.4 659.8) scale(1 1.04)" font-size="17" text-anchor="end" font-family='"Liberation Serif", serif' >-5</text>
<text x="0" y="0" transform="translate(67.5 708.3) scale(1 1.04)" font-size="16" text-anchor="middle" font-family='"Liberation Sans", sans-serif' >0</text>
<text x="0" y="0" transform="translate(197.5 708.3) scale(1 1.04)" font-size="16" text-anchor="middle" font-family='"Liberation Sans", sans-serif' >0.02</text>
<text x="0" y="0" transform="translate(327 708.2) scale(1 1.04)" font-size="16" text-anchor="middle" font-family='"Liberation Sans", sans-serif' >0.04</text>
<text x="0" y="0" transform="translate(203 733) scale(1 1.04)" font-size="17" text-anchor="middle" font-family='"Liberation Serif", serif' >Time (sec)</text>
<text x="0" y="0" transform="translate(190.8 764) scale(1 1.04)" font-size="20" text-anchor="middle" font-family='"Liberation Serif", serif' >(e)</text>
<text x="25.3" y="591.5" font-size="17.2" text-anchor="middle" font-family='"Liberation Serif", serif' transform="rotate(-90 25.3 591.5)" >Compensator current (A)</text>
<text x="0" y="0" transform="translate(404.2 539.6) scale(1 1.04)" font-size="17" text-anchor="end" font-family='"Liberation Serif", serif' >10</text>
<text x="0" y="0" transform="translate(405 608) scale(1 1.04)" font-size="17" text-anchor="end" font-family='"Liberation Serif", serif' >0</text>
<text x="0" y="0" transform="translate(405 676) scale(1 1.04)" font-size="17" text-anchor="end" font-family='"Liberation Serif", serif' >-10</text>
<text x="0" y="0" transform="translate(415.6 718.3) scale(1 1.04)" font-size="17" text-anchor="middle" font-family='"Liberation Serif", serif' >0</text>
<text x="0" y="0" transform="translate(497.7 718.3) scale(1 1.04)" font-size="17" text-anchor="middle" font-family='"Liberation Serif", serif' >0.02</text>
<text x="0" y="0" transform="translate(583 718.3) scale(1 1.04)" font-size="17" text-anchor="middle" font-family='"Liberation Serif", serif' >0.04</text>
<text x="0" y="0" transform="translate(669.3 718.3) scale(1 1.04)" font-size="17" text-anchor="middle" font-family='"Liberation Serif", serif' >0.06</text>
<text x="0" y="0" transform="translate(541 743.5) scale(1 1.04)" font-size="17" text-anchor="middle" font-family='"Liberation Serif", serif' >Time (sec)</text>
<text x="0" y="0" transform="translate(533 769.5) scale(1 1.04)" font-size="20" text-anchor="middle" font-family='"Liberation Serif", serif' >(f)</text>
<text x="376.7" y="604.4" font-size="17.4" text-anchor="middle" font-family='"Liberation Serif", serif' transform="rotate(-90 376.7 604.4)" >Voltage (V) &amp; Current (A)</text>
<text x="85.2" y="26.7" font-size="17" font-family='"Liberation Serif", serif' font-style="italic" text-anchor="start">V</text>
<text x="94.6" y="29.7" font-size="12.3" font-family='"Liberation Serif", serif' font-style="italic" text-anchor="start">sa</text>
<text x="129.9" y="26.7" font-size="17" font-family='"Liberation Serif", serif' font-style="italic" text-anchor="start">V</text>
<text x="139.3" y="29.7" font-size="12.3" font-family='"Liberation Serif", serif' font-style="italic" text-anchor="start">sb</text>
<text x="172.8" y="26.7" font-size="17" font-family='"Liberation Serif", serif' font-style="italic" text-anchor="start">V</text>
<text x="182.2" y="29.7" font-size="12.3" font-family='"Liberation Serif", serif' font-style="italic" text-anchor="start">sc</text>
<text x="437.7" y="44.6" font-size="16.5" font-family='"Liberation Serif", serif' font-style="italic" text-anchor="start">i</text>
<text x="442.59999999999997" y="47.1" font-size="11.5" font-family='"Liberation Serif", serif' font-style="italic" text-anchor="start">la</text>
<text x="475.3" y="30.1" font-size="16.5" font-family='"Liberation Serif", serif' font-style="italic" text-anchor="start">i</text>
<text x="480.2" y="32.7" font-size="11.5" font-family='"Liberation Serif", serif' font-style="italic" text-anchor="start">lb</text>
<text x="545.2" y="28.8" font-size="16.5" font-family='"Liberation Serif", serif' font-style="italic" text-anchor="start">i</text>
<text x="549.6" y="31.2" font-size="11.5" font-family='"Liberation Serif", serif' font-style="italic" text-anchor="start">l</text>
<text x="552.6" y="31.2" font-size="12" font-family='"Liberation Serif", serif' text-anchor="start">c</text>
<text x="502.5" y="145.6" font-size="16.5" font-family='"Liberation Serif", serif' font-style="italic" text-anchor="start">i</text>
<text x="507.4" y="147.9" font-size="11.5" font-family='"Liberation Serif", serif' font-style="italic" text-anchor="start">ln</text>
<line x1="497.9" y1="146.3" x2="469.25" y2="131.65" stroke="#222" stroke-width="0.9"/>
<polygon points="459.3,126.1 471.6,127.3 466.9,136" fill="#000"/>
<text x="97.0" y="285.9" font-size="17" font-family='"Liberation Serif", serif' font-style="italic" text-anchor="start">V</text>
<text x="106.0" y="288.59999999999997" font-size="12.8" font-family='"Liberation Serif", serif' font-style="italic" text-anchor="start">sa</text>
<text x="115.0" y="285.9" font-size="17" font-family='"Liberation Serif", serif' font-style="italic" text-anchor="start">/</text>
<text x="121.0" y="285.9" font-size="17.5" font-family='"Liberation Serif", serif' font-style="italic" text-anchor="start">30</text>
<text x="78.8" y="318.1" font-size="16.5" font-family='"Liberation Serif", serif' font-style="italic" text-anchor="start">i</text>
<text x="83.7" y="320.7" font-size="11.5" font-family='"Liberation Serif", serif' font-style="italic" text-anchor="start">sa</text>
<text x="151.7" y="298.1" font-size="16.5" font-family='"Liberation Serif", serif' font-style="italic" text-anchor="start">i</text>
<text x="156.6" y="300.3" font-size="11.5" font-family='"Liberation Serif", serif' font-style="italic" text-anchor="start">sb</text>
<text x="181.3" y="280.6" font-size="16.5" font-family='"Liberation Serif", serif' font-style="italic" text-anchor="start">i</text>
<text x="186.20000000000002" y="283.2" font-size="11.5" font-family='"Liberation Serif", serif' font-style="italic" text-anchor="start">sc</text>
<text x="88.7" y="399" font-size="16.5" font-family='"Liberation Serif", serif' font-style="italic" text-anchor="start">i</text>
<text x="93.60000000000001" y="401.6" font-size="11.5" font-family='"Liberation Serif", serif' font-style="italic" text-anchor="start">sn</text>
<line x1="101" y1="392.6" x2="115.45" y2="359.5" stroke="#222" stroke-width="0.9"/>
<polygon points="119.9,348.8 110.2,357.5 120.7,361.5" fill="#000"/>
<text x="434.4" y="290.7" font-size="16.5" font-family='"Liberation Serif", serif' font-style="italic" text-anchor="start">V</text>
<text x="443.9" y="293.2" font-size="12.8" font-family='"Liberation Serif", serif' font-style="italic" text-anchor="start">sa</text>
<text x="454.0" y="290.7" font-size="16.5" font-family='"Liberation Serif", serif' text-anchor="start">/30</text>
<text x="465.7" y="318.1" font-size="16.5" font-family='"Liberation Serif", serif' font-style="italic" text-anchor="start">i</text>
<text x="470.59999999999997" y="320.6" font-size="11.5" font-family='"Liberation Serif", serif' font-style="italic" text-anchor="start">sb</text>
<text x="492.3" y="309.4" font-size="16.5" font-family='"Liberation Serif", serif' font-style="italic" text-anchor="start">i</text>
<text x="497.2" y="311.8" font-size="11.5" font-family='"Liberation Serif", serif' font-style="italic" text-anchor="start">sc</text>
<text x="482.4" y="394" font-size="16.5" font-family='"Liberation Serif", serif' font-style="italic" text-anchor="start">i</text>
<text x="487.29999999999995" y="396.6" font-size="11.5" font-family='"Liberation Serif", serif' font-style="italic" text-anchor="start">sa</text>
<text x="520.3" y="408.1" font-size="16.5" font-family='"Liberation Serif", serif' font-style="italic" text-anchor="start">i</text>
<text x="525.1999999999999" y="410.9" font-size="11.5" font-family='"Liberation Serif", serif' font-style="italic" text-anchor="start">sn</text>
<line x1="530.5" y1="400.5" x2="550.8" y2="364.65" stroke="#222" stroke-width="0.9"/>
<polygon points="554.7,350.6 546,362.7 555.6,366.6" fill="#000"/>
<text x="89.4" y="543.4" font-size="16.5" font-family='"Liberation Serif", serif' font-style="italic" text-anchor="start">i</text>
<text x="94.30000000000001" y="545.7" font-size="11.5" font-family='"Liberation Serif", serif' font-style="italic" text-anchor="start">fa</text>
<text x="123.3" y="544.2" font-size="16.5" font-family='"Liberation Serif", serif' font-style="italic" text-anchor="start">i</text>
<text x="128.2" y="546.1" font-size="11.5" font-family='"Liberation Serif", serif' font-style="italic" text-anchor="start">fb</text>
<text x="178.2" y="532.5" font-size="16.5" font-family='"Liberation Serif", serif' font-style="italic" text-anchor="start">i</text>
<text x="183.1" y="535.2" font-size="11.5" font-family='"Liberation Serif", serif' font-style="italic" text-anchor="start">fc</text>
<text x="426.9" y="541" font-size="15.5" font-family='"Liberation Serif", serif' font-style="italic" text-anchor="start">V</text>
<text x="436.4" y="544.3" font-size="12" font-family='"Liberation Serif", serif' font-style="italic" text-anchor="start">sa fund</text>
<text x="468.6" y="541.4" font-size="16" font-family='"Liberation Serif", serif' text-anchor="start">/30</text>
<line x1="480.4" y1="547.6" x2="489.65" y2="558.45" stroke="#222" stroke-width="0.9"/>
<polygon points="496.9,564.7 485.7,561.4 493.6,555.5" fill="#000"/>
<text x="503.5" y="653.3" font-size="16.5" font-family='"Liberation Serif", serif' font-style="italic" text-anchor="start">i</text>
<text x="508.4" y="655.5" font-size="11.5" font-family='"Liberation Serif", serif' font-style="italic" text-anchor="start">sa</text>
<line x1="493" y1="653.3" x2="481.85" y2="638.15" stroke="#222" stroke-width="0.9"/>
<polygon points="476.4,629.6 486,635.3 477.7,641" fill="#000"/>
</svg></body></html>
